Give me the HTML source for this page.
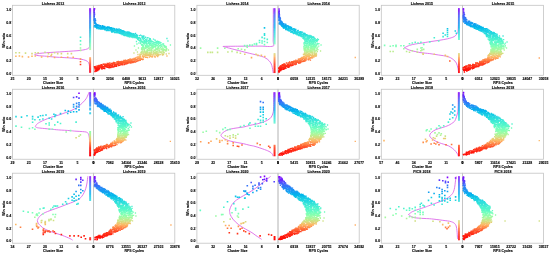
<!DOCTYPE html>
<html><head><meta charset="utf-8"><style>
html,body{margin:0;padding:0;background:#fff;overflow:hidden}
svg{display:block}
text{font-family:"Liberation Sans",sans-serif;fill:#000;font-weight:bold;stroke:#000;stroke-width:0.12px}
.t{font-size:3.6px;text-anchor:middle}
.yt{font-size:3.6px;text-anchor:end}
.xt{font-size:3.5px;text-anchor:middle}
.xl{font-size:3.5px;text-anchor:middle}
.yl{font-size:3.5px;text-anchor:middle}
</style></head><body>
<svg width="550" height="253" viewBox="0 0 550 253">
<defs><linearGradient id="g0" gradientUnits="userSpaceOnUse" x1="0" y1="9.00" x2="0" y2="72.40"><stop offset="0.000" stop-color="#8000ff"/><stop offset="0.050" stop-color="#6628fe"/><stop offset="0.100" stop-color="#4d4ffc"/><stop offset="0.150" stop-color="#3374f8"/><stop offset="0.200" stop-color="#1996f3"/><stop offset="0.250" stop-color="#00b4ec"/><stop offset="0.300" stop-color="#19cee3"/><stop offset="0.350" stop-color="#33e3d9"/><stop offset="0.400" stop-color="#4df3ce"/><stop offset="0.450" stop-color="#66fcc2"/><stop offset="0.500" stop-color="#80ffb4"/><stop offset="0.550" stop-color="#99fca6"/><stop offset="0.600" stop-color="#b3f396"/><stop offset="0.650" stop-color="#cce385"/><stop offset="0.700" stop-color="#e5ce74"/><stop offset="0.750" stop-color="#ffb462"/><stop offset="0.800" stop-color="#ff964f"/><stop offset="0.850" stop-color="#ff743c"/><stop offset="0.900" stop-color="#ff4f28"/><stop offset="0.950" stop-color="#ff2814"/><stop offset="1.000" stop-color="#ff0000"/></linearGradient><linearGradient id="g1" gradientUnits="userSpaceOnUse" x1="0" y1="92.95" x2="0" y2="156.35"><stop offset="0.000" stop-color="#8000ff"/><stop offset="0.050" stop-color="#6628fe"/><stop offset="0.100" stop-color="#4d4ffc"/><stop offset="0.150" stop-color="#3374f8"/><stop offset="0.200" stop-color="#1996f3"/><stop offset="0.250" stop-color="#00b4ec"/><stop offset="0.300" stop-color="#19cee3"/><stop offset="0.350" stop-color="#33e3d9"/><stop offset="0.400" stop-color="#4df3ce"/><stop offset="0.450" stop-color="#66fcc2"/><stop offset="0.500" stop-color="#80ffb4"/><stop offset="0.550" stop-color="#99fca6"/><stop offset="0.600" stop-color="#b3f396"/><stop offset="0.650" stop-color="#cce385"/><stop offset="0.700" stop-color="#e5ce74"/><stop offset="0.750" stop-color="#ffb462"/><stop offset="0.800" stop-color="#ff964f"/><stop offset="0.850" stop-color="#ff743c"/><stop offset="0.900" stop-color="#ff4f28"/><stop offset="0.950" stop-color="#ff2814"/><stop offset="1.000" stop-color="#ff0000"/></linearGradient><linearGradient id="g2" gradientUnits="userSpaceOnUse" x1="0" y1="176.90" x2="0" y2="240.30"><stop offset="0.000" stop-color="#8000ff"/><stop offset="0.050" stop-color="#6628fe"/><stop offset="0.100" stop-color="#4d4ffc"/><stop offset="0.150" stop-color="#3374f8"/><stop offset="0.200" stop-color="#1996f3"/><stop offset="0.250" stop-color="#00b4ec"/><stop offset="0.300" stop-color="#19cee3"/><stop offset="0.350" stop-color="#33e3d9"/><stop offset="0.400" stop-color="#4df3ce"/><stop offset="0.450" stop-color="#66fcc2"/><stop offset="0.500" stop-color="#80ffb4"/><stop offset="0.550" stop-color="#99fca6"/><stop offset="0.600" stop-color="#b3f396"/><stop offset="0.650" stop-color="#cce385"/><stop offset="0.700" stop-color="#e5ce74"/><stop offset="0.750" stop-color="#ffb462"/><stop offset="0.800" stop-color="#ff964f"/><stop offset="0.850" stop-color="#ff743c"/><stop offset="0.900" stop-color="#ff4f28"/><stop offset="0.950" stop-color="#ff2814"/><stop offset="1.000" stop-color="#ff0000"/></linearGradient></defs>
<g fill="none" stroke="#c4c4c4" stroke-width="0.8"><rect x="12.50" y="5.30" width="81.10" height="70.00"/><rect x="93.60" y="5.30" width="81.20" height="70.00"/><line x1="11.30" x2="12.50" y1="72.40" y2="72.40"/><line x1="11.30" x2="12.50" y1="59.72" y2="59.72"/><line x1="11.30" x2="12.50" y1="47.04" y2="47.04"/><line x1="11.30" x2="12.50" y1="34.36" y2="34.36"/><line x1="11.30" x2="12.50" y1="21.68" y2="21.68"/><line x1="11.30" x2="12.50" y1="9.00" y2="9.00"/><rect x="196.90" y="5.30" width="81.10" height="70.00"/><rect x="278.00" y="5.30" width="81.20" height="70.00"/><line x1="195.70" x2="196.90" y1="72.40" y2="72.40"/><line x1="195.70" x2="196.90" y1="59.72" y2="59.72"/><line x1="195.70" x2="196.90" y1="47.04" y2="47.04"/><line x1="195.70" x2="196.90" y1="34.36" y2="34.36"/><line x1="195.70" x2="196.90" y1="21.68" y2="21.68"/><line x1="195.70" x2="196.90" y1="9.00" y2="9.00"/><rect x="381.30" y="5.30" width="81.10" height="70.00"/><rect x="462.40" y="5.30" width="81.20" height="70.00"/><line x1="380.10" x2="381.30" y1="72.40" y2="72.40"/><line x1="380.10" x2="381.30" y1="59.72" y2="59.72"/><line x1="380.10" x2="381.30" y1="47.04" y2="47.04"/><line x1="380.10" x2="381.30" y1="34.36" y2="34.36"/><line x1="380.10" x2="381.30" y1="21.68" y2="21.68"/><line x1="380.10" x2="381.30" y1="9.00" y2="9.00"/><rect x="12.50" y="89.25" width="81.10" height="70.00"/><rect x="93.60" y="89.25" width="81.20" height="70.00"/><line x1="11.30" x2="12.50" y1="156.35" y2="156.35"/><line x1="11.30" x2="12.50" y1="143.67" y2="143.67"/><line x1="11.30" x2="12.50" y1="130.99" y2="130.99"/><line x1="11.30" x2="12.50" y1="118.31" y2="118.31"/><line x1="11.30" x2="12.50" y1="105.63" y2="105.63"/><line x1="11.30" x2="12.50" y1="92.95" y2="92.95"/><rect x="196.90" y="89.25" width="81.10" height="70.00"/><rect x="278.00" y="89.25" width="81.20" height="70.00"/><line x1="195.70" x2="196.90" y1="156.35" y2="156.35"/><line x1="195.70" x2="196.90" y1="143.67" y2="143.67"/><line x1="195.70" x2="196.90" y1="130.99" y2="130.99"/><line x1="195.70" x2="196.90" y1="118.31" y2="118.31"/><line x1="195.70" x2="196.90" y1="105.63" y2="105.63"/><line x1="195.70" x2="196.90" y1="92.95" y2="92.95"/><rect x="381.30" y="89.25" width="81.10" height="70.00"/><rect x="462.40" y="89.25" width="81.20" height="70.00"/><line x1="380.10" x2="381.30" y1="156.35" y2="156.35"/><line x1="380.10" x2="381.30" y1="143.67" y2="143.67"/><line x1="380.10" x2="381.30" y1="130.99" y2="130.99"/><line x1="380.10" x2="381.30" y1="118.31" y2="118.31"/><line x1="380.10" x2="381.30" y1="105.63" y2="105.63"/><line x1="380.10" x2="381.30" y1="92.95" y2="92.95"/><rect x="12.50" y="173.20" width="81.10" height="70.00"/><rect x="93.60" y="173.20" width="81.20" height="70.00"/><line x1="11.30" x2="12.50" y1="240.30" y2="240.30"/><line x1="11.30" x2="12.50" y1="227.62" y2="227.62"/><line x1="11.30" x2="12.50" y1="214.94" y2="214.94"/><line x1="11.30" x2="12.50" y1="202.26" y2="202.26"/><line x1="11.30" x2="12.50" y1="189.58" y2="189.58"/><line x1="11.30" x2="12.50" y1="176.90" y2="176.90"/><rect x="196.90" y="173.20" width="81.10" height="70.00"/><rect x="278.00" y="173.20" width="81.20" height="70.00"/><line x1="195.70" x2="196.90" y1="240.30" y2="240.30"/><line x1="195.70" x2="196.90" y1="227.62" y2="227.62"/><line x1="195.70" x2="196.90" y1="214.94" y2="214.94"/><line x1="195.70" x2="196.90" y1="202.26" y2="202.26"/><line x1="195.70" x2="196.90" y1="189.58" y2="189.58"/><line x1="195.70" x2="196.90" y1="176.90" y2="176.90"/><rect x="381.30" y="173.20" width="81.10" height="70.00"/><rect x="462.40" y="173.20" width="81.20" height="70.00"/><line x1="380.10" x2="381.30" y1="240.30" y2="240.30"/><line x1="380.10" x2="381.30" y1="227.62" y2="227.62"/><line x1="380.10" x2="381.30" y1="214.94" y2="214.94"/><line x1="380.10" x2="381.30" y1="202.26" y2="202.26"/><line x1="380.10" x2="381.30" y1="189.58" y2="189.58"/><line x1="380.10" x2="381.30" y1="176.90" y2="176.90"/></g>
<g fill="none" stroke="#dc6ae8" stroke-width="0.9" stroke-linejoin="round"><path d="M89.70 8.30C89.68 13.92 89.68 35.50 89.60 42.00C89.52 48.50 89.67 46.12 89.20 47.30C88.73 48.48 88.25 48.58 86.80 49.10C85.35 49.62 82.77 50.08 80.50 50.40C78.23 50.72 75.93 50.80 73.20 51.00C70.47 51.20 67.13 51.40 64.10 51.60C61.07 51.80 57.88 52.02 55.00 52.20C52.12 52.38 49.63 52.47 46.80 52.70C43.97 52.93 39.97 53.32 38.00 53.60C36.03 53.88 35.50 54.20 35.00 54.40C34.50 54.60 34.50 54.60 35.00 54.80C35.50 55.00 36.03 55.35 38.00 55.60C39.97 55.85 43.97 56.05 46.80 56.30C49.63 56.55 52.12 56.88 55.00 57.10C57.88 57.32 61.07 57.42 64.10 57.60C67.13 57.78 70.47 57.95 73.20 58.20C75.93 58.45 78.38 58.72 80.50 59.10C82.62 59.48 84.55 59.90 85.90 60.50C87.25 61.10 88.00 61.72 88.60 62.70C89.20 63.68 89.32 64.73 89.50 66.40C89.68 68.07 89.67 71.65 89.70 72.70"/><path d="M273.30 8.30C273.28 13.58 273.27 33.70 273.20 40.00C273.13 46.30 275.10 45.08 272.90 46.10C270.70 47.12 265.48 46.08 260.00 46.10C254.52 46.12 245.95 46.15 240.00 46.20C234.05 46.25 226.92 46.30 224.30 46.40C221.68 46.50 223.37 46.48 224.30 46.80C225.23 47.12 227.95 47.78 229.90 48.30C231.85 48.82 233.15 49.17 236.00 49.90C238.85 50.63 243.32 51.78 247.00 52.70C250.68 53.62 255.13 54.58 258.10 55.40C261.07 56.22 262.95 56.68 264.80 57.60C266.65 58.52 268.03 59.60 269.20 60.90C270.37 62.20 271.13 63.38 271.80 65.40C272.47 67.42 272.97 71.73 273.20 73.00"/><path d="M458.50 8.30C458.45 11.72 458.43 24.63 458.20 28.80C457.97 32.97 457.77 32.00 457.10 33.30C456.43 34.60 455.80 35.68 454.20 36.60C452.60 37.52 450.08 38.17 447.50 38.80C444.92 39.43 441.65 39.92 438.70 40.40C435.75 40.88 432.75 41.23 429.80 41.70C426.85 42.17 423.43 42.82 421.00 43.20C418.57 43.58 417.12 43.63 415.20 44.00C413.28 44.37 411.22 44.82 409.50 45.40C407.78 45.98 405.67 47.08 404.90 47.50C404.13 47.92 404.13 47.47 404.90 47.90C405.67 48.33 407.78 49.50 409.50 50.10C411.22 50.70 413.28 51.07 415.20 51.50C417.12 51.93 418.57 52.35 421.00 52.70C423.43 53.05 426.85 53.22 429.80 53.60C432.75 53.98 435.75 54.52 438.70 55.00C441.65 55.48 445.10 55.77 447.50 56.50C449.90 57.23 451.62 58.30 453.10 59.40C454.58 60.50 455.58 61.55 456.40 63.10C457.22 64.65 457.63 67.05 458.00 68.70C458.37 70.35 458.50 72.28 458.60 73.00"/><path d="M89.00 92.10C88.90 92.40 88.88 92.80 88.40 93.90C87.92 95.00 87.08 97.22 86.10 98.70C85.12 100.18 83.88 101.42 82.50 102.80C81.12 104.18 79.22 105.93 77.80 107.00C76.38 108.07 75.30 108.52 74.00 109.20C72.70 109.88 71.40 110.53 70.00 111.10C68.60 111.67 67.52 111.93 65.60 112.60C63.68 113.27 60.87 114.33 58.50 115.10C56.13 115.87 53.78 116.38 51.40 117.20C49.02 118.02 46.35 119.05 44.20 120.00C42.05 120.95 39.78 122.13 38.50 122.90C37.22 123.67 37.02 124.03 36.50 124.60C35.98 125.17 35.58 125.95 35.40 126.30C35.22 126.65 35.22 126.52 35.40 126.70C35.58 126.88 35.98 127.20 36.50 127.40C37.02 127.60 37.22 127.72 38.50 127.90C39.78 128.08 42.05 128.28 44.20 128.50C46.35 128.72 49.02 128.97 51.40 129.20C53.78 129.43 55.40 129.67 58.50 129.90C61.60 130.13 67.30 130.40 70.00 130.60C72.70 130.80 72.25 130.90 74.70 131.10C77.15 131.30 82.55 131.52 84.70 131.80C86.85 132.08 86.92 132.27 87.60 132.80C88.28 133.33 88.48 133.70 88.80 135.00C89.12 136.30 89.33 137.07 89.50 140.60C89.67 144.13 89.75 153.60 89.80 156.20"/><path d="M273.80 92.30C273.77 94.92 273.73 104.55 273.60 108.00C273.47 111.45 273.40 111.47 273.00 113.00C272.60 114.53 272.12 116.00 271.20 117.20C270.28 118.40 269.23 119.25 267.50 120.20C265.77 121.15 262.88 122.22 260.80 122.90C258.72 123.58 256.83 123.88 255.00 124.30C253.17 124.72 251.72 124.95 249.80 125.40C247.88 125.85 245.62 126.58 243.50 127.00C241.38 127.42 239.22 127.57 237.10 127.90C234.98 128.23 232.63 128.55 230.80 129.00C228.97 129.45 227.42 129.98 226.10 130.60C224.78 131.22 223.65 132.13 222.90 132.70C222.15 133.27 221.92 133.57 221.60 134.00C221.28 134.43 221.10 135.05 221.00 135.30C220.90 135.55 220.90 135.28 221.00 135.50C221.10 135.72 221.28 136.23 221.60 136.60C221.92 136.97 222.15 137.20 222.90 137.70C223.65 138.20 224.78 139.02 226.10 139.60C227.42 140.18 228.97 140.72 230.80 141.20C232.63 141.68 234.98 142.08 237.10 142.50C239.22 142.92 241.38 143.23 243.50 143.70C245.62 144.17 247.88 144.85 249.80 145.30C251.72 145.75 252.57 145.70 255.00 146.40C257.43 147.10 261.88 148.57 264.40 149.50C266.92 150.43 268.75 151.17 270.10 152.00C271.45 152.83 272.02 153.80 272.50 154.50C272.98 155.20 272.92 155.92 273.00 156.20"/><path d="M458.20 92.30C458.18 94.92 458.25 104.38 458.10 108.00C457.95 111.62 457.73 112.10 457.30 114.00C456.87 115.90 456.05 118.10 455.50 119.40C454.95 120.70 455.17 120.80 454.00 121.80C452.83 122.80 450.48 124.43 448.50 125.40C446.52 126.37 444.22 126.90 442.10 127.60C439.98 128.30 437.50 128.85 435.80 129.60C434.10 130.35 432.82 131.40 431.90 132.10C430.98 132.80 430.67 133.22 430.30 133.80C429.93 134.38 429.80 135.23 429.70 135.60C429.60 135.97 429.55 135.67 429.70 136.00C429.85 136.33 430.20 137.13 430.60 137.60C431.00 138.07 431.33 138.25 432.10 138.80C432.87 139.35 434.00 140.23 435.20 140.90C436.40 141.57 437.93 142.27 439.30 142.80C440.67 143.33 441.85 143.58 443.40 144.10C444.95 144.62 447.05 145.17 448.60 145.90C450.15 146.63 451.50 147.57 452.70 148.50C453.90 149.43 454.95 150.48 455.80 151.50C456.65 152.52 457.40 153.80 457.80 154.60C458.20 155.40 458.13 156.02 458.20 156.30"/><path d="M87.80 176.30C87.67 177.42 87.35 180.93 87.00 183.00C86.65 185.07 86.20 187.07 85.70 188.70C85.20 190.33 84.63 191.55 84.00 192.80C83.37 194.05 82.65 195.22 81.90 196.20C81.15 197.18 80.55 197.92 79.50 198.70C78.45 199.48 77.10 200.18 75.60 200.90C74.10 201.62 72.20 202.33 70.50 203.00C68.80 203.67 67.15 204.23 65.40 204.90C63.65 205.57 61.68 206.37 60.00 207.00C58.32 207.63 56.97 208.10 55.30 208.70C53.63 209.30 51.68 209.97 50.00 210.60C48.32 211.23 46.53 211.88 45.20 212.50C43.87 213.12 42.90 213.67 42.00 214.30C41.10 214.93 40.43 215.63 39.80 216.30C39.17 216.97 38.60 217.58 38.20 218.30C37.80 219.02 37.53 220.15 37.40 220.60C37.27 221.05 37.27 220.57 37.40 221.00C37.53 221.43 37.75 222.47 38.20 223.20C38.65 223.93 39.38 224.68 40.10 225.40C40.82 226.12 41.65 226.87 42.50 227.50C43.35 228.13 43.95 228.57 45.20 229.20C46.45 229.83 48.32 230.65 50.00 231.30C51.68 231.95 53.17 232.38 55.30 233.10C57.43 233.82 60.37 234.70 62.80 235.60C65.23 236.50 68.25 237.73 69.90 238.50C71.55 239.27 72.23 239.92 72.70 240.20"/><path d="M270.60 176.40C269.83 177.00 267.50 178.82 266.00 180.00C264.50 181.18 263.42 182.07 261.60 183.50C259.78 184.93 257.20 187.10 255.10 188.60C253.00 190.10 250.88 191.35 249.00 192.50C247.12 193.65 245.88 194.25 243.80 195.50C241.72 196.75 238.47 198.50 236.50 200.00C234.53 201.50 233.15 202.83 232.00 204.50C230.85 206.17 229.97 208.75 229.60 210.00C229.23 211.25 229.77 211.58 229.80 212.00C229.83 212.42 229.73 212.08 229.80 212.50C229.87 212.92 229.68 213.40 230.20 214.50C230.72 215.60 231.53 217.43 232.90 219.10C234.27 220.77 236.28 222.83 238.40 224.50C240.52 226.17 243.33 227.73 245.60 229.10C247.87 230.47 250.28 231.63 252.00 232.70C253.72 233.77 254.30 234.40 255.90 235.50C257.50 236.60 260.65 238.67 261.60 239.30"/><path d="M456.20 176.30C456.10 176.93 455.93 177.90 455.60 180.10C455.27 182.30 454.88 187.05 454.20 189.50C453.52 191.95 453.07 193.12 451.50 194.80C449.93 196.48 447.25 198.27 444.80 199.60C442.35 200.93 439.48 201.77 436.80 202.80C434.12 203.83 430.67 205.07 428.70 205.80C426.73 206.53 426.78 206.58 425.00 207.20C423.22 207.82 420.12 208.75 418.00 209.50C415.88 210.25 413.83 210.90 412.30 211.70C410.77 212.50 409.38 213.80 408.80 214.30C408.22 214.80 408.22 214.23 408.80 214.70C409.38 215.17 410.77 216.53 412.30 217.10C413.83 217.67 415.88 217.87 418.00 218.10C420.12 218.33 422.77 218.37 425.00 218.50C427.23 218.63 428.45 218.60 431.40 218.90C434.35 219.20 439.38 219.83 442.70 220.30C446.02 220.77 449.17 220.98 451.30 221.70C453.43 222.42 454.57 223.18 455.50 224.60C456.43 226.02 456.57 227.83 456.90 230.20C457.23 232.57 457.40 237.37 457.50 238.80"/></g>
<g><rect x="93.40" y="8.30" width="1.50" height="1.05" fill="#8000ff"/><rect x="93.40" y="9.30" width="1.50" height="1.05" fill="#7511ff"/><rect x="93.40" y="10.30" width="1.50" height="1.05" fill="#7511ff"/><rect x="93.40" y="11.30" width="1.50" height="1.05" fill="#6a22fe"/><rect x="93.40" y="12.30" width="1.50" height="1.05" fill="#5f33fe"/><rect x="93.40" y="13.30" width="1.50" height="1.05" fill="#5443fd"/><rect x="93.40" y="14.30" width="1.50" height="1.05" fill="#4954fb"/><rect x="93.40" y="15.30" width="1.50" height="1.05" fill="#3e64fa"/><rect x="93.40" y="16.30" width="1.50" height="1.05" fill="#3e64fa"/><rect x="93.40" y="17.30" width="1.50" height="1.05" fill="#3473f8"/><rect x="93.40" y="18.30" width="1.50" height="1.05" fill="#2982f6"/><rect x="93.40" y="19.30" width="1.50" height="1.05" fill="#2982f6"/><rect x="93.40" y="20.30" width="1.50" height="0.75" fill="#1e90f4"/><rect x="278.30" y="8.30" width="1.50" height="1.05" fill="#8000ff"/><rect x="278.30" y="9.30" width="1.50" height="1.05" fill="#7511ff"/><rect x="278.30" y="10.30" width="1.50" height="1.05" fill="#7511ff"/><rect x="278.30" y="11.30" width="1.50" height="1.05" fill="#6a22fe"/><rect x="278.30" y="12.30" width="1.50" height="1.05" fill="#5f33fe"/><rect x="278.30" y="13.30" width="1.50" height="1.05" fill="#5443fd"/><rect x="278.30" y="14.30" width="1.50" height="1.05" fill="#4954fb"/><rect x="278.30" y="15.30" width="1.50" height="1.05" fill="#3e64fa"/><rect x="278.30" y="16.30" width="1.50" height="1.05" fill="#3e64fa"/><rect x="278.30" y="17.30" width="1.50" height="1.05" fill="#3473f8"/><rect x="278.30" y="18.30" width="1.50" height="1.05" fill="#2982f6"/><rect x="278.30" y="19.30" width="1.50" height="1.05" fill="#2982f6"/><rect x="278.30" y="20.30" width="1.50" height="0.45" fill="#1e90f4"/><rect x="278.30" y="70.50" width="1.50" height="1.05" fill="#ff0000"/><rect x="278.30" y="71.50" width="1.50" height="1.05" fill="#ff0000"/><rect x="278.30" y="72.50" width="1.50" height="0.15" fill="#ff0000"/><rect x="462.70" y="8.30" width="1.50" height="1.05" fill="#8000ff"/><rect x="462.70" y="9.30" width="1.50" height="1.05" fill="#7511ff"/><rect x="462.70" y="10.30" width="1.50" height="1.05" fill="#7511ff"/><rect x="462.70" y="11.30" width="1.50" height="1.05" fill="#6a22fe"/><rect x="462.70" y="12.30" width="1.50" height="1.05" fill="#5f33fe"/><rect x="462.70" y="13.30" width="1.50" height="1.05" fill="#5443fd"/><rect x="462.70" y="14.30" width="1.50" height="1.05" fill="#4954fb"/><rect x="462.70" y="15.30" width="1.50" height="1.05" fill="#3e64fa"/><rect x="462.70" y="16.30" width="1.50" height="1.05" fill="#3e64fa"/><rect x="462.70" y="17.30" width="1.50" height="0.55" fill="#3473f8"/><rect x="93.90" y="92.30" width="1.50" height="1.05" fill="#8000ff"/><rect x="93.90" y="93.30" width="1.50" height="1.05" fill="#7511ff"/><rect x="93.90" y="94.30" width="1.50" height="1.05" fill="#6a22fe"/><rect x="93.90" y="95.30" width="1.50" height="1.05" fill="#6a22fe"/><rect x="93.90" y="96.30" width="1.50" height="1.05" fill="#5f33fe"/><rect x="93.90" y="97.30" width="1.50" height="0.25" fill="#5443fd"/><rect x="93.90" y="153.00" width="1.50" height="1.05" fill="#ff1109"/><rect x="93.90" y="154.00" width="1.50" height="1.05" fill="#ff1109"/><rect x="93.90" y="155.00" width="1.50" height="0.55" fill="#ff0000"/><rect x="278.30" y="92.30" width="1.50" height="1.05" fill="#8000ff"/><rect x="278.30" y="93.30" width="1.50" height="1.05" fill="#7511ff"/><rect x="278.30" y="94.30" width="1.50" height="1.05" fill="#6a22fe"/><rect x="278.30" y="95.30" width="1.50" height="1.05" fill="#6a22fe"/><rect x="278.30" y="96.30" width="1.50" height="1.05" fill="#5f33fe"/><rect x="278.30" y="97.30" width="1.50" height="1.05" fill="#5443fd"/><rect x="278.30" y="98.30" width="1.50" height="1.05" fill="#4954fb"/><rect x="278.30" y="99.30" width="1.50" height="1.05" fill="#3e64fa"/><rect x="278.30" y="100.30" width="1.50" height="1.05" fill="#3e64fa"/><rect x="278.30" y="101.30" width="1.50" height="0.55" fill="#3473f8"/><rect x="462.70" y="92.30" width="1.50" height="1.05" fill="#8000ff"/><rect x="462.70" y="93.30" width="1.50" height="1.05" fill="#7511ff"/><rect x="462.70" y="94.30" width="1.50" height="1.05" fill="#6a22fe"/><rect x="462.70" y="95.30" width="1.50" height="1.05" fill="#6a22fe"/><rect x="462.70" y="96.30" width="1.50" height="1.05" fill="#5f33fe"/><rect x="462.70" y="97.30" width="1.50" height="0.25" fill="#5443fd"/><rect x="93.90" y="176.30" width="1.50" height="1.05" fill="#8000ff"/><rect x="93.90" y="177.30" width="1.50" height="1.05" fill="#7511ff"/><rect x="93.90" y="178.30" width="1.50" height="1.05" fill="#6a22fe"/><rect x="93.90" y="179.30" width="1.50" height="1.05" fill="#6a22fe"/><rect x="93.90" y="180.30" width="1.50" height="1.05" fill="#5f33fe"/><rect x="93.90" y="181.30" width="1.50" height="0.25" fill="#5443fd"/><rect x="278.30" y="176.30" width="1.50" height="1.05" fill="#8000ff"/><rect x="462.70" y="176.30" width="1.50" height="1.05" fill="#8000ff"/><rect x="462.70" y="177.30" width="1.50" height="1.05" fill="#7511ff"/><rect x="462.70" y="178.30" width="1.50" height="1.05" fill="#6a22fe"/><rect x="462.70" y="179.30" width="1.50" height="1.05" fill="#6a22fe"/><rect x="462.70" y="180.30" width="1.50" height="1.05" fill="#5f33fe"/><rect x="462.70" y="181.30" width="1.50" height="1.05" fill="#5443fd"/><rect x="462.70" y="182.30" width="1.50" height="1.05" fill="#4954fb"/><rect x="462.70" y="183.30" width="1.50" height="1.05" fill="#3e64fa"/><rect x="462.70" y="184.30" width="1.50" height="1.05" fill="#3e64fa"/><rect x="462.70" y="185.30" width="1.50" height="0.55" fill="#3473f8"/><rect x="89.20" y="8.30" width="1.90" height="1.05" fill="#8000ff"/><rect x="89.20" y="9.30" width="1.90" height="1.05" fill="#7511ff"/><rect x="89.20" y="10.30" width="1.90" height="1.05" fill="#7511ff"/><rect x="89.20" y="11.30" width="1.90" height="1.05" fill="#6a22fe"/><rect x="89.20" y="12.30" width="1.90" height="1.05" fill="#5f33fe"/><rect x="89.20" y="13.30" width="1.90" height="1.05" fill="#5443fd"/><rect x="89.20" y="14.30" width="1.90" height="1.05" fill="#4954fb"/><rect x="89.20" y="15.30" width="1.90" height="1.05" fill="#3e64fa"/><rect x="89.20" y="16.30" width="1.90" height="1.05" fill="#3e64fa"/><rect x="89.20" y="17.30" width="1.90" height="1.05" fill="#3473f8"/><rect x="89.20" y="18.30" width="1.90" height="1.05" fill="#2982f6"/><rect x="89.20" y="19.30" width="1.90" height="1.05" fill="#2982f6"/><rect x="89.20" y="20.30" width="1.90" height="1.05" fill="#1e90f4"/><rect x="89.20" y="21.30" width="1.90" height="1.05" fill="#1e90f4"/><rect x="89.20" y="22.30" width="1.90" height="1.05" fill="#139ef1"/><rect x="89.20" y="23.30" width="1.90" height="1.05" fill="#139ef1"/><rect x="89.20" y="24.30" width="1.90" height="1.05" fill="#08abee"/><rect x="89.20" y="25.30" width="1.90" height="1.05" fill="#08abee"/><rect x="89.20" y="26.30" width="1.90" height="1.05" fill="#03b7eb"/><rect x="89.20" y="27.30" width="1.90" height="1.05" fill="#03b7eb"/><rect x="89.20" y="28.30" width="1.90" height="1.05" fill="#0ec3e7"/><rect x="89.20" y="29.30" width="1.90" height="1.05" fill="#18cde4"/><rect x="89.20" y="30.30" width="1.90" height="1.05" fill="#18cde4"/><rect x="89.20" y="31.30" width="1.90" height="1.05" fill="#23d7e0"/><rect x="89.20" y="32.30" width="1.90" height="1.05" fill="#23d7e0"/><rect x="89.20" y="33.30" width="1.90" height="1.05" fill="#2ee0db"/><rect x="89.20" y="34.30" width="1.90" height="1.05" fill="#2ee0db"/><rect x="89.20" y="35.30" width="1.90" height="1.05" fill="#39e7d7"/><rect x="89.20" y="36.30" width="1.90" height="1.05" fill="#39e7d7"/><rect x="89.20" y="37.30" width="1.90" height="1.05" fill="#44eed2"/><rect x="89.20" y="38.30" width="1.90" height="1.05" fill="#4ff4cd"/><rect x="89.20" y="39.30" width="1.90" height="1.05" fill="#4ff4cd"/><rect x="89.20" y="40.30" width="1.90" height="1.05" fill="#5af8c8"/><rect x="89.20" y="41.30" width="1.90" height="1.05" fill="#5af8c8"/><rect x="89.20" y="42.30" width="1.90" height="1.05" fill="#64fbc3"/><rect x="89.20" y="43.30" width="1.90" height="1.05" fill="#6ffebd"/><rect x="89.20" y="44.30" width="1.90" height="1.05" fill="#7affb7"/><rect x="89.20" y="45.30" width="1.90" height="1.05" fill="#7affb7"/><rect x="89.20" y="46.30" width="1.90" height="1.05" fill="#85ffb1"/><rect x="89.20" y="47.30" width="1.90" height="1.05" fill="#90feab"/><rect x="89.20" y="48.30" width="1.90" height="1.05" fill="#9bfba5"/><rect x="89.20" y="49.30" width="1.90" height="0.75" fill="#a5f89e"/><rect x="89.20" y="57.30" width="1.90" height="1.05" fill="#ff9e54"/><rect x="89.20" y="58.30" width="1.90" height="1.05" fill="#ff904c"/><rect x="89.20" y="59.30" width="1.90" height="1.05" fill="#ff8243"/><rect x="89.20" y="60.30" width="1.90" height="1.05" fill="#ff733b"/><rect x="89.20" y="61.30" width="1.90" height="1.05" fill="#ff6433"/><rect x="89.20" y="62.30" width="1.90" height="1.05" fill="#ff542a"/><rect x="89.20" y="63.30" width="1.90" height="1.05" fill="#ff4322"/><rect x="89.20" y="64.30" width="1.90" height="1.05" fill="#ff331a"/><rect x="89.20" y="65.30" width="1.90" height="1.05" fill="#ff331a"/><rect x="89.20" y="66.30" width="1.90" height="1.05" fill="#ff2211"/><rect x="89.20" y="67.30" width="1.90" height="1.05" fill="#ff2211"/><rect x="89.20" y="68.30" width="1.90" height="1.05" fill="#ff1109"/><rect x="89.20" y="69.30" width="1.90" height="1.05" fill="#ff1109"/><rect x="89.20" y="70.30" width="1.90" height="1.05" fill="#ff1109"/><rect x="89.20" y="71.30" width="1.90" height="1.05" fill="#ff0000"/><rect x="89.20" y="72.30" width="1.90" height="0.45" fill="#ff0000"/><rect x="273.60" y="8.30" width="1.90" height="1.05" fill="#8000ff"/><rect x="273.60" y="9.30" width="1.90" height="1.05" fill="#7511ff"/><rect x="273.60" y="10.30" width="1.90" height="1.05" fill="#7511ff"/><rect x="273.60" y="11.30" width="1.90" height="1.05" fill="#6a22fe"/><rect x="273.60" y="12.30" width="1.90" height="1.05" fill="#5f33fe"/><rect x="273.60" y="13.30" width="1.90" height="1.05" fill="#5443fd"/><rect x="273.60" y="14.30" width="1.90" height="1.05" fill="#4954fb"/><rect x="273.60" y="15.30" width="1.90" height="1.05" fill="#3e64fa"/><rect x="273.60" y="16.30" width="1.90" height="1.05" fill="#3e64fa"/><rect x="273.60" y="17.30" width="1.90" height="1.05" fill="#3473f8"/><rect x="273.60" y="18.30" width="1.90" height="1.05" fill="#2982f6"/><rect x="273.60" y="19.30" width="1.90" height="1.05" fill="#2982f6"/><rect x="273.60" y="20.30" width="1.90" height="1.05" fill="#1e90f4"/><rect x="273.60" y="21.30" width="1.90" height="1.05" fill="#1e90f4"/><rect x="273.60" y="22.30" width="1.90" height="1.05" fill="#139ef1"/><rect x="273.60" y="23.30" width="1.90" height="1.05" fill="#139ef1"/><rect x="273.60" y="24.30" width="1.90" height="1.05" fill="#08abee"/><rect x="273.60" y="25.30" width="1.90" height="1.05" fill="#08abee"/><rect x="273.60" y="26.30" width="1.90" height="1.05" fill="#03b7eb"/><rect x="273.60" y="27.30" width="1.90" height="1.05" fill="#03b7eb"/><rect x="273.60" y="28.30" width="1.90" height="1.05" fill="#0ec3e7"/><rect x="273.60" y="29.30" width="1.90" height="1.05" fill="#18cde4"/><rect x="273.60" y="30.30" width="1.90" height="1.05" fill="#18cde4"/><rect x="273.60" y="31.30" width="1.90" height="1.05" fill="#23d7e0"/><rect x="273.60" y="32.30" width="1.90" height="1.05" fill="#23d7e0"/><rect x="273.60" y="33.30" width="1.90" height="1.05" fill="#2ee0db"/><rect x="273.60" y="34.30" width="1.90" height="1.05" fill="#2ee0db"/><rect x="273.60" y="35.30" width="1.90" height="1.05" fill="#39e7d7"/><rect x="273.60" y="36.30" width="1.90" height="1.05" fill="#39e7d7"/><rect x="273.60" y="37.30" width="1.90" height="1.05" fill="#44eed2"/><rect x="273.60" y="38.30" width="1.90" height="1.05" fill="#4ff4cd"/><rect x="273.60" y="39.30" width="1.90" height="1.05" fill="#4ff4cd"/><rect x="273.60" y="40.30" width="1.90" height="1.05" fill="#5af8c8"/><rect x="273.60" y="41.30" width="1.90" height="1.05" fill="#5af8c8"/><rect x="273.60" y="42.30" width="1.90" height="1.05" fill="#64fbc3"/><rect x="273.60" y="43.30" width="1.90" height="1.05" fill="#6ffebd"/><rect x="273.60" y="53.20" width="1.90" height="1.05" fill="#dcd77b"/><rect x="273.60" y="54.20" width="1.90" height="1.05" fill="#e7cd73"/><rect x="273.60" y="55.20" width="1.90" height="1.05" fill="#f1c36b"/><rect x="273.60" y="56.20" width="1.90" height="1.05" fill="#fcb764"/><rect x="273.60" y="57.20" width="1.90" height="1.05" fill="#ff9e54"/><rect x="273.60" y="58.20" width="1.90" height="1.05" fill="#ff904c"/><rect x="273.60" y="59.20" width="1.90" height="1.05" fill="#ff8243"/><rect x="273.60" y="60.20" width="1.90" height="1.05" fill="#ff733b"/><rect x="273.60" y="61.20" width="1.90" height="1.05" fill="#ff6433"/><rect x="273.60" y="62.20" width="1.90" height="1.05" fill="#ff542a"/><rect x="273.60" y="63.20" width="1.90" height="1.05" fill="#ff4322"/><rect x="273.60" y="64.20" width="1.90" height="1.05" fill="#ff331a"/><rect x="273.60" y="65.20" width="1.90" height="1.05" fill="#ff331a"/><rect x="273.60" y="66.20" width="1.90" height="1.05" fill="#ff2211"/><rect x="273.60" y="67.20" width="1.90" height="1.05" fill="#ff2211"/><rect x="273.60" y="68.20" width="1.90" height="1.05" fill="#ff1109"/><rect x="273.60" y="69.20" width="1.90" height="1.05" fill="#ff1109"/><rect x="273.60" y="70.20" width="1.90" height="1.05" fill="#ff1109"/><rect x="273.60" y="71.20" width="1.90" height="1.05" fill="#ff0000"/><rect x="273.60" y="72.20" width="1.90" height="0.85" fill="#ff0000"/><rect x="458.00" y="8.30" width="1.90" height="1.05" fill="#8000ff"/><rect x="458.00" y="9.30" width="1.90" height="1.05" fill="#7511ff"/><rect x="458.00" y="10.30" width="1.90" height="1.05" fill="#7511ff"/><rect x="458.00" y="11.30" width="1.90" height="1.05" fill="#6a22fe"/><rect x="458.00" y="12.30" width="1.90" height="1.05" fill="#5f33fe"/><rect x="458.00" y="13.30" width="1.90" height="1.05" fill="#5443fd"/><rect x="458.00" y="14.30" width="1.90" height="1.05" fill="#4954fb"/><rect x="458.00" y="15.30" width="1.90" height="1.05" fill="#3e64fa"/><rect x="458.00" y="16.30" width="1.90" height="1.05" fill="#3e64fa"/><rect x="458.00" y="17.30" width="1.90" height="1.05" fill="#3473f8"/><rect x="458.00" y="18.30" width="1.90" height="1.05" fill="#2982f6"/><rect x="458.00" y="19.30" width="1.90" height="1.05" fill="#2982f6"/><rect x="458.00" y="20.30" width="1.90" height="1.05" fill="#1e90f4"/><rect x="458.00" y="21.30" width="1.90" height="1.05" fill="#1e90f4"/><rect x="458.00" y="22.30" width="1.90" height="1.05" fill="#139ef1"/><rect x="458.00" y="23.30" width="1.90" height="1.05" fill="#139ef1"/><rect x="458.00" y="24.30" width="1.90" height="1.05" fill="#08abee"/><rect x="458.00" y="25.30" width="1.90" height="1.05" fill="#08abee"/><rect x="458.00" y="26.30" width="1.90" height="1.05" fill="#03b7eb"/><rect x="458.00" y="27.30" width="1.90" height="1.05" fill="#03b7eb"/><rect x="458.00" y="28.30" width="1.90" height="1.05" fill="#0ec3e7"/><rect x="458.00" y="29.30" width="1.90" height="1.05" fill="#18cde4"/><rect x="458.00" y="30.30" width="1.90" height="1.05" fill="#18cde4"/><rect x="458.00" y="31.30" width="1.90" height="1.05" fill="#23d7e0"/><rect x="458.00" y="32.30" width="1.90" height="1.05" fill="#23d7e0"/><rect x="458.00" y="33.30" width="1.90" height="1.05" fill="#2ee0db"/><rect x="458.00" y="34.30" width="1.90" height="1.05" fill="#2ee0db"/><rect x="458.00" y="35.30" width="1.90" height="1.05" fill="#39e7d7"/><rect x="458.00" y="36.30" width="1.90" height="1.05" fill="#39e7d7"/><rect x="458.00" y="37.30" width="1.90" height="1.05" fill="#44eed2"/><rect x="458.00" y="38.30" width="1.90" height="1.05" fill="#4ff4cd"/><rect x="458.00" y="39.30" width="1.90" height="0.65" fill="#4ff4cd"/><rect x="458.00" y="53.20" width="1.90" height="1.05" fill="#dcd77b"/><rect x="458.00" y="54.20" width="1.90" height="1.05" fill="#e7cd73"/><rect x="458.00" y="55.20" width="1.90" height="1.05" fill="#f1c36b"/><rect x="458.00" y="56.20" width="1.90" height="1.05" fill="#fcb764"/><rect x="458.00" y="57.20" width="1.90" height="1.05" fill="#ff9e54"/><rect x="458.00" y="58.20" width="1.90" height="1.05" fill="#ff904c"/><rect x="458.00" y="59.20" width="1.90" height="1.05" fill="#ff8243"/><rect x="458.00" y="60.20" width="1.90" height="1.05" fill="#ff733b"/><rect x="458.00" y="61.20" width="1.90" height="1.05" fill="#ff6433"/><rect x="458.00" y="62.20" width="1.90" height="1.05" fill="#ff542a"/><rect x="458.00" y="63.20" width="1.90" height="1.05" fill="#ff4322"/><rect x="458.00" y="64.20" width="1.90" height="1.05" fill="#ff331a"/><rect x="458.00" y="65.20" width="1.90" height="1.05" fill="#ff331a"/><rect x="458.00" y="66.20" width="1.90" height="1.05" fill="#ff2211"/><rect x="458.00" y="67.20" width="1.90" height="1.05" fill="#ff2211"/><rect x="458.00" y="68.20" width="1.90" height="1.05" fill="#ff1109"/><rect x="458.00" y="69.20" width="1.90" height="1.05" fill="#ff1109"/><rect x="458.00" y="70.20" width="1.90" height="1.05" fill="#ff1109"/><rect x="458.00" y="71.20" width="1.90" height="1.05" fill="#ff0000"/><rect x="458.00" y="72.20" width="1.90" height="0.85" fill="#ff0000"/><rect x="89.20" y="92.30" width="1.90" height="1.05" fill="#8000ff"/><rect x="89.20" y="93.30" width="1.90" height="1.05" fill="#7511ff"/><rect x="89.20" y="94.30" width="1.90" height="1.05" fill="#6a22fe"/><rect x="89.20" y="95.30" width="1.90" height="1.05" fill="#6a22fe"/><rect x="89.20" y="96.30" width="1.90" height="1.05" fill="#5f33fe"/><rect x="89.20" y="97.30" width="1.90" height="1.05" fill="#5443fd"/><rect x="89.20" y="98.30" width="1.90" height="1.05" fill="#4954fb"/><rect x="89.20" y="99.30" width="1.90" height="1.05" fill="#3e64fa"/><rect x="89.20" y="100.30" width="1.90" height="1.05" fill="#3e64fa"/><rect x="89.20" y="101.30" width="1.90" height="1.05" fill="#3473f8"/><rect x="89.20" y="102.30" width="1.90" height="1.05" fill="#2982f6"/><rect x="89.20" y="103.30" width="1.90" height="1.05" fill="#2982f6"/><rect x="89.20" y="104.30" width="1.90" height="1.05" fill="#1e90f4"/><rect x="89.20" y="105.30" width="1.90" height="1.05" fill="#1e90f4"/><rect x="89.20" y="106.30" width="1.90" height="0.25" fill="#139ef1"/><rect x="89.20" y="107.60" width="1.90" height="1.05" fill="#139ef1"/><rect x="89.20" y="108.60" width="1.90" height="1.05" fill="#08abee"/><rect x="89.20" y="109.60" width="1.90" height="0.75" fill="#08abee"/><rect x="89.20" y="112.40" width="1.90" height="1.05" fill="#0ec3e7"/><rect x="89.20" y="113.40" width="1.90" height="0.85" fill="#18cde4"/><rect x="89.20" y="131.00" width="1.90" height="1.05" fill="#90feab"/><rect x="89.20" y="132.00" width="1.90" height="1.05" fill="#9bfba5"/><rect x="89.20" y="133.00" width="1.90" height="1.05" fill="#a5f89e"/><rect x="89.20" y="134.00" width="1.90" height="1.05" fill="#b0f497"/><rect x="89.20" y="135.00" width="1.90" height="1.05" fill="#bbee90"/><rect x="89.20" y="136.00" width="1.90" height="1.05" fill="#d1e082"/><rect x="89.20" y="137.00" width="1.90" height="1.05" fill="#dcd77b"/><rect x="89.20" y="138.00" width="1.90" height="1.05" fill="#e7cd73"/><rect x="89.20" y="139.00" width="1.90" height="1.05" fill="#f1c36b"/><rect x="89.20" y="140.00" width="1.90" height="1.05" fill="#fcb764"/><rect x="89.20" y="141.00" width="1.90" height="1.05" fill="#ffab5c"/><rect x="89.20" y="142.00" width="1.90" height="1.05" fill="#ff904c"/><rect x="89.20" y="143.00" width="1.90" height="1.05" fill="#ff8243"/><rect x="89.20" y="144.00" width="1.90" height="1.05" fill="#ff733b"/><rect x="89.20" y="145.00" width="1.90" height="1.05" fill="#ff6433"/><rect x="89.20" y="146.00" width="1.90" height="1.05" fill="#ff542a"/><rect x="89.20" y="147.00" width="1.90" height="1.05" fill="#ff4322"/><rect x="89.20" y="148.00" width="1.90" height="1.05" fill="#ff331a"/><rect x="89.20" y="149.00" width="1.90" height="1.05" fill="#ff331a"/><rect x="89.20" y="150.00" width="1.90" height="1.05" fill="#ff2211"/><rect x="89.20" y="151.00" width="1.90" height="1.05" fill="#ff2211"/><rect x="89.20" y="152.00" width="1.90" height="1.05" fill="#ff1109"/><rect x="89.20" y="153.00" width="1.90" height="1.05" fill="#ff1109"/><rect x="89.20" y="154.00" width="1.90" height="1.05" fill="#ff1109"/><rect x="89.20" y="155.00" width="1.90" height="1.05" fill="#ff0000"/><rect x="89.20" y="156.00" width="1.90" height="0.25" fill="#ff0000"/><rect x="273.60" y="92.30" width="1.90" height="1.05" fill="#8000ff"/><rect x="273.60" y="93.30" width="1.90" height="1.05" fill="#7511ff"/><rect x="273.60" y="94.30" width="1.90" height="1.05" fill="#6a22fe"/><rect x="273.60" y="95.30" width="1.90" height="1.05" fill="#6a22fe"/><rect x="273.60" y="96.30" width="1.90" height="1.05" fill="#5f33fe"/><rect x="273.60" y="97.30" width="1.90" height="1.05" fill="#5443fd"/><rect x="273.60" y="98.30" width="1.90" height="1.05" fill="#4954fb"/><rect x="273.60" y="99.30" width="1.90" height="1.05" fill="#3e64fa"/><rect x="273.60" y="100.30" width="1.90" height="1.05" fill="#3e64fa"/><rect x="273.60" y="101.30" width="1.90" height="1.05" fill="#3473f8"/><rect x="273.60" y="102.30" width="1.90" height="1.05" fill="#2982f6"/><rect x="273.60" y="103.30" width="1.90" height="1.05" fill="#2982f6"/><rect x="273.60" y="104.30" width="1.90" height="1.05" fill="#1e90f4"/><rect x="273.60" y="105.30" width="1.90" height="1.05" fill="#1e90f4"/><rect x="273.60" y="106.30" width="1.90" height="1.05" fill="#139ef1"/><rect x="273.60" y="107.30" width="1.90" height="1.05" fill="#139ef1"/><rect x="273.60" y="108.30" width="1.90" height="1.05" fill="#08abee"/><rect x="273.60" y="109.30" width="1.90" height="1.05" fill="#08abee"/><rect x="273.60" y="110.30" width="1.90" height="1.05" fill="#03b7eb"/><rect x="273.60" y="111.30" width="1.90" height="1.05" fill="#0ec3e7"/><rect x="273.60" y="112.30" width="1.90" height="1.05" fill="#0ec3e7"/><rect x="273.60" y="113.30" width="1.90" height="1.05" fill="#18cde4"/><rect x="273.60" y="114.30" width="1.90" height="1.05" fill="#18cde4"/><rect x="273.60" y="115.30" width="1.90" height="1.05" fill="#23d7e0"/><rect x="273.60" y="116.30" width="1.90" height="1.05" fill="#23d7e0"/><rect x="273.60" y="117.30" width="1.90" height="1.05" fill="#2ee0db"/><rect x="273.60" y="118.30" width="1.90" height="1.05" fill="#2ee0db"/><rect x="273.60" y="119.30" width="1.90" height="1.05" fill="#39e7d7"/><rect x="273.60" y="120.30" width="1.90" height="1.05" fill="#39e7d7"/><rect x="273.60" y="121.30" width="1.90" height="1.05" fill="#44eed2"/><rect x="273.60" y="122.30" width="1.90" height="1.05" fill="#4ff4cd"/><rect x="273.60" y="123.30" width="1.90" height="0.25" fill="#4ff4cd"/><rect x="273.60" y="144.80" width="1.90" height="1.05" fill="#ff6433"/><rect x="273.60" y="145.80" width="1.90" height="1.05" fill="#ff542a"/><rect x="273.60" y="146.80" width="1.90" height="1.05" fill="#ff4322"/><rect x="273.60" y="147.80" width="1.90" height="1.05" fill="#ff331a"/><rect x="273.60" y="148.80" width="1.90" height="1.05" fill="#ff331a"/><rect x="273.60" y="149.80" width="1.90" height="1.05" fill="#ff2211"/><rect x="273.60" y="150.80" width="1.90" height="1.05" fill="#ff2211"/><rect x="273.60" y="151.80" width="1.90" height="1.05" fill="#ff1109"/><rect x="273.60" y="152.80" width="1.90" height="1.05" fill="#ff1109"/><rect x="273.60" y="153.80" width="1.90" height="1.05" fill="#ff1109"/><rect x="273.60" y="154.80" width="1.90" height="1.05" fill="#ff0000"/><rect x="273.60" y="155.80" width="1.90" height="0.45" fill="#ff0000"/><rect x="458.00" y="92.30" width="1.90" height="1.05" fill="#8000ff"/><rect x="458.00" y="93.30" width="1.90" height="1.05" fill="#7511ff"/><rect x="458.00" y="94.30" width="1.90" height="1.05" fill="#6a22fe"/><rect x="458.00" y="95.30" width="1.90" height="1.05" fill="#6a22fe"/><rect x="458.00" y="96.30" width="1.90" height="1.05" fill="#5f33fe"/><rect x="458.00" y="97.30" width="1.90" height="1.05" fill="#5443fd"/><rect x="458.00" y="98.30" width="1.90" height="1.05" fill="#4954fb"/><rect x="458.00" y="99.30" width="1.90" height="1.05" fill="#3e64fa"/><rect x="458.00" y="100.30" width="1.90" height="1.05" fill="#3e64fa"/><rect x="458.00" y="101.30" width="1.90" height="1.05" fill="#3473f8"/><rect x="458.00" y="102.30" width="1.90" height="1.05" fill="#2982f6"/><rect x="458.00" y="103.30" width="1.90" height="1.05" fill="#2982f6"/><rect x="458.00" y="104.30" width="1.90" height="1.05" fill="#1e90f4"/><rect x="458.00" y="105.30" width="1.90" height="1.05" fill="#1e90f4"/><rect x="458.00" y="106.30" width="1.90" height="1.05" fill="#139ef1"/><rect x="458.00" y="107.30" width="1.90" height="1.05" fill="#139ef1"/><rect x="458.00" y="108.30" width="1.90" height="1.05" fill="#08abee"/><rect x="458.00" y="109.30" width="1.90" height="1.05" fill="#08abee"/><rect x="458.00" y="110.30" width="1.90" height="1.05" fill="#03b7eb"/><rect x="458.00" y="111.30" width="1.90" height="1.05" fill="#0ec3e7"/><rect x="458.00" y="112.30" width="1.90" height="1.05" fill="#0ec3e7"/><rect x="458.00" y="113.30" width="1.90" height="1.05" fill="#18cde4"/><rect x="458.00" y="114.30" width="1.90" height="1.05" fill="#18cde4"/><rect x="458.00" y="115.30" width="1.90" height="1.05" fill="#23d7e0"/><rect x="458.00" y="116.30" width="1.90" height="1.05" fill="#23d7e0"/><rect x="458.00" y="117.30" width="1.90" height="1.05" fill="#2ee0db"/><rect x="458.00" y="118.30" width="1.90" height="1.05" fill="#2ee0db"/><rect x="458.00" y="119.30" width="1.90" height="1.05" fill="#39e7d7"/><rect x="458.00" y="120.30" width="1.90" height="0.45" fill="#39e7d7"/><rect x="458.00" y="144.80" width="1.90" height="1.05" fill="#ff6433"/><rect x="458.00" y="145.80" width="1.90" height="1.05" fill="#ff542a"/><rect x="458.00" y="146.80" width="1.90" height="1.05" fill="#ff4322"/><rect x="458.00" y="147.80" width="1.90" height="1.05" fill="#ff331a"/><rect x="458.00" y="148.80" width="1.90" height="1.05" fill="#ff331a"/><rect x="458.00" y="149.80" width="1.90" height="1.05" fill="#ff2211"/><rect x="458.00" y="150.80" width="1.90" height="1.05" fill="#ff2211"/><rect x="458.00" y="151.80" width="1.90" height="1.05" fill="#ff1109"/><rect x="458.00" y="152.80" width="1.90" height="1.05" fill="#ff1109"/><rect x="458.00" y="153.80" width="1.90" height="1.05" fill="#ff1109"/><rect x="458.00" y="154.80" width="1.90" height="1.05" fill="#ff0000"/><rect x="458.00" y="155.80" width="1.90" height="0.45" fill="#ff0000"/><rect x="89.20" y="176.30" width="1.90" height="1.05" fill="#8000ff"/><rect x="89.20" y="177.30" width="1.90" height="1.05" fill="#7511ff"/><rect x="89.20" y="178.30" width="1.90" height="1.05" fill="#6a22fe"/><rect x="89.20" y="179.30" width="1.90" height="1.05" fill="#6a22fe"/><rect x="89.20" y="180.30" width="1.90" height="1.05" fill="#5f33fe"/><rect x="89.20" y="181.30" width="1.90" height="1.05" fill="#5443fd"/><rect x="89.20" y="182.30" width="1.90" height="1.05" fill="#4954fb"/><rect x="89.20" y="183.30" width="1.90" height="1.05" fill="#3e64fa"/><rect x="89.20" y="184.30" width="1.90" height="1.05" fill="#3e64fa"/><rect x="89.20" y="185.30" width="1.90" height="1.05" fill="#3473f8"/><rect x="89.20" y="186.30" width="1.90" height="1.05" fill="#2982f6"/><rect x="89.20" y="187.30" width="1.90" height="1.05" fill="#2982f6"/><rect x="89.20" y="188.30" width="1.90" height="1.05" fill="#1e90f4"/><rect x="89.20" y="189.30" width="1.90" height="1.05" fill="#1e90f4"/><rect x="89.20" y="190.30" width="1.90" height="1.05" fill="#139ef1"/><rect x="89.20" y="191.30" width="1.90" height="1.05" fill="#139ef1"/><rect x="89.20" y="192.30" width="1.90" height="1.05" fill="#08abee"/><rect x="89.20" y="193.30" width="1.90" height="1.05" fill="#08abee"/><rect x="89.20" y="194.30" width="1.90" height="1.05" fill="#03b7eb"/><rect x="89.20" y="195.30" width="1.90" height="1.05" fill="#0ec3e7"/><rect x="89.20" y="196.30" width="1.90" height="1.05" fill="#0ec3e7"/><rect x="89.20" y="197.30" width="1.90" height="1.05" fill="#18cde4"/><rect x="89.20" y="198.30" width="1.90" height="1.05" fill="#18cde4"/><rect x="89.20" y="199.30" width="1.90" height="1.05" fill="#23d7e0"/><rect x="89.20" y="200.30" width="1.90" height="0.65" fill="#23d7e0"/><rect x="89.20" y="237.30" width="1.90" height="1.05" fill="#ff1109"/><rect x="89.20" y="238.30" width="1.90" height="1.05" fill="#ff1109"/><rect x="89.20" y="239.30" width="1.90" height="0.95" fill="#ff0000"/><rect x="273.60" y="236.00" width="1.90" height="1.05" fill="#ff1109"/><rect x="273.60" y="237.00" width="1.90" height="1.05" fill="#ff1109"/><rect x="273.60" y="238.00" width="1.90" height="1.05" fill="#ff1109"/><rect x="273.60" y="239.00" width="1.90" height="1.05" fill="#ff0000"/><rect x="273.60" y="240.00" width="1.90" height="0.25" fill="#ff0000"/><rect x="458.00" y="176.30" width="1.90" height="1.05" fill="#8000ff"/><rect x="458.00" y="177.30" width="1.90" height="1.05" fill="#7511ff"/><rect x="458.00" y="178.30" width="1.90" height="1.05" fill="#6a22fe"/><rect x="458.00" y="179.30" width="1.90" height="1.05" fill="#6a22fe"/><rect x="458.00" y="180.30" width="1.90" height="1.05" fill="#5f33fe"/><rect x="458.00" y="181.30" width="1.90" height="1.05" fill="#5443fd"/><rect x="458.00" y="182.30" width="1.90" height="1.05" fill="#4954fb"/><rect x="458.00" y="183.30" width="1.90" height="1.05" fill="#3e64fa"/><rect x="458.00" y="184.30" width="1.90" height="1.05" fill="#3e64fa"/><rect x="458.00" y="185.30" width="1.90" height="1.05" fill="#3473f8"/><rect x="458.00" y="186.30" width="1.90" height="1.05" fill="#2982f6"/><rect x="458.00" y="187.30" width="1.90" height="1.05" fill="#2982f6"/><rect x="458.00" y="188.30" width="1.90" height="1.05" fill="#1e90f4"/><rect x="458.00" y="189.30" width="1.90" height="1.05" fill="#1e90f4"/><rect x="458.00" y="190.30" width="1.90" height="1.05" fill="#139ef1"/><rect x="458.00" y="191.30" width="1.90" height="1.05" fill="#139ef1"/><rect x="458.00" y="192.30" width="1.90" height="1.05" fill="#08abee"/><rect x="458.00" y="193.30" width="1.90" height="1.05" fill="#08abee"/><rect x="458.00" y="194.30" width="1.90" height="1.05" fill="#03b7eb"/><rect x="458.00" y="195.30" width="1.90" height="1.05" fill="#0ec3e7"/><rect x="458.00" y="196.30" width="1.90" height="1.05" fill="#0ec3e7"/><rect x="458.00" y="197.30" width="1.90" height="1.05" fill="#18cde4"/><rect x="458.00" y="198.30" width="1.90" height="1.05" fill="#18cde4"/><rect x="458.00" y="199.30" width="1.90" height="1.05" fill="#23d7e0"/><rect x="458.00" y="200.30" width="1.90" height="1.05" fill="#23d7e0"/><rect x="458.00" y="201.30" width="1.90" height="0.55" fill="#2ee0db"/><rect x="458.00" y="220.30" width="1.90" height="1.05" fill="#d1e082"/><rect x="458.00" y="221.30" width="1.90" height="1.05" fill="#dcd77b"/><rect x="458.00" y="222.30" width="1.90" height="1.05" fill="#e7cd73"/><rect x="458.00" y="223.30" width="1.90" height="1.05" fill="#f1c36b"/><rect x="458.00" y="224.30" width="1.90" height="1.05" fill="#ffab5c"/><rect x="458.00" y="225.30" width="1.90" height="1.05" fill="#ff9e54"/><rect x="458.00" y="226.30" width="1.90" height="1.05" fill="#ff904c"/><rect x="458.00" y="227.30" width="1.90" height="1.05" fill="#ff8243"/><rect x="458.00" y="228.30" width="1.90" height="1.05" fill="#ff6433"/><rect x="458.00" y="229.30" width="1.90" height="1.05" fill="#ff6433"/><rect x="458.00" y="230.30" width="1.90" height="1.05" fill="#ff542a"/><rect x="458.00" y="231.30" width="1.90" height="1.05" fill="#ff4322"/><rect x="458.00" y="232.30" width="1.90" height="1.05" fill="#ff331a"/><rect x="458.00" y="233.30" width="1.90" height="1.05" fill="#ff331a"/><rect x="458.00" y="234.30" width="1.90" height="1.05" fill="#ff2211"/><rect x="458.00" y="235.30" width="1.90" height="1.05" fill="#ff2211"/><rect x="458.00" y="236.30" width="1.90" height="1.05" fill="#ff1109"/><rect x="458.00" y="237.30" width="1.90" height="1.05" fill="#ff1109"/><rect x="458.00" y="238.30" width="1.90" height="1.05" fill="#ff1109"/><rect x="458.00" y="239.30" width="1.90" height="0.95" fill="#ff0000"/></g>
<g></g>
<g fill="none"><path stroke="#ff0000" stroke-width="1.30" d="M94.6 70.9h1.30M94.3 71.5h1.30M95.9 71.1h1.30M94.3 71.3h1.30M278.3 71.4h1.30M278.1 71.8h1.30M279.0 71.2h1.30M278.4 71.8h1.30M463.8 72.1h1.30M466.2 71.0h1.30M466.1 71.0h1.30M463.7 71.8h1.30M93.6 155.0h1.30M279.7 155.2h1.30M281.5 155.4h1.30M278.4 155.2h1.30M465.8 154.9h1.30M96.6 239.2h1.30M96.7 239.4h1.30M96.5 239.0h1.30M94.3 239.5h1.30M96.3 239.8h1.30M94.6 239.1h1.30M96.6 239.0h1.30M281.3 239.0h1.30M280.4 238.8h1.30M278.1 239.3h1.30M280.2 239.4h1.30M279.5 239.6h1.30M281.0 239.4h1.30M278.7 239.2h1.30M463.5 239.7h1.30M463.0 239.4h1.30M463.4 239.2h1.30"/><path stroke="#ff1109" stroke-width="1.30" d="M99.0 68.5h1.30M97.1 69.8h1.30M96.9 69.4h1.30M96.2 69.5h1.30M101.5 68.7h1.30M94.3 68.8h1.30M95.9 70.7h1.30M98.4 69.6h1.30M103.3 68.2h1.30M95.7 69.5h1.30M95.4 68.1h1.30M96.7 68.5h1.30M96.3 68.6h1.30M95.8 69.4h1.30M96.2 68.9h1.30M94.5 69.2h1.30M98.8 68.7h1.30M95.1 70.7h1.30M98.4 68.6h1.30M100.9 68.1h1.30M103.0 68.3h1.30M97.0 70.5h1.30M95.5 69.7h1.30M97.7 69.8h1.30M104.1 68.5h1.30M97.4 68.6h1.30M95.0 69.2h1.30M98.8 68.1h1.30M96.7 68.6h1.30M101.3 69.2h1.30M95.0 68.7h1.30M103.7 68.6h1.30M279.3 68.7h1.30M278.5 68.1h1.30M279.0 70.6h1.30M280.6 68.2h1.30M280.1 70.6h1.30M278.5 68.1h1.30M285.3 68.4h1.30M279.2 68.3h1.30M283.8 68.9h1.30M278.7 69.8h1.30M280.3 69.5h1.30M283.9 68.5h1.30M278.1 68.5h1.30M279.5 70.2h1.30M281.0 69.3h1.30M282.4 69.0h1.30M279.7 68.7h1.30M279.2 68.8h1.30M283.2 68.2h1.30M281.2 68.1h1.30M282.9 69.3h1.30M279.2 68.0h1.30M278.1 70.8h1.30M282.8 68.9h1.30M280.8 69.4h1.30M279.9 68.6h1.30M278.9 68.1h1.30M280.3 70.1h1.30M279.6 69.5h1.30M281.0 68.9h1.30M281.2 69.6h1.30M464.4 69.8h1.30M469.1 68.7h1.30M469.8 68.8h1.30M468.0 69.5h1.30M466.3 70.5h1.30M463.0 70.3h1.30M472.1 68.1h1.30M469.5 68.3h1.30M466.6 70.4h1.30M464.4 69.4h1.30M468.4 68.6h1.30M472.9 68.3h1.30M463.1 69.3h1.30M463.8 70.1h1.30M469.3 69.0h1.30M472.3 68.3h1.30M464.1 69.8h1.30M467.7 68.9h1.30M466.7 68.6h1.30M464.5 68.2h1.30M462.6 68.8h1.30M463.7 69.7h1.30M465.5 68.3h1.30M463.6 70.7h1.30M465.9 69.9h1.30M465.5 69.9h1.30M469.3 69.6h1.30M469.7 68.4h1.30M463.9 69.8h1.30M468.0 70.3h1.30M463.0 69.5h1.30M471.8 68.8h1.30M465.1 70.4h1.30M464.4 70.4h1.30M464.6 70.2h1.30M466.7 69.6h1.30M467.7 68.5h1.30M462.5 69.4h1.30M466.1 69.5h1.30M465.5 69.3h1.30M462.6 68.8h1.30M94.9 152.0h1.30M94.3 152.4h1.30M96.8 152.0h1.30M94.4 153.8h1.30M93.8 154.6h1.30M95.3 152.1h1.30M94.3 153.9h1.30M94.6 152.3h1.30M95.6 152.7h1.30M93.9 152.1h1.30M94.2 153.9h1.30M93.7 154.3h1.30M94.8 153.5h1.30M281.1 154.4h1.30M282.5 154.2h1.30M281.4 154.0h1.30M278.8 154.5h1.30M285.6 153.2h1.30M282.8 154.4h1.30M287.2 152.7h1.30M287.2 152.1h1.30M282.7 153.2h1.30M284.3 152.3h1.30M278.5 154.7h1.30M279.8 153.3h1.30M286.3 152.8h1.30M290.3 152.2h1.30M288.8 152.2h1.30M287.5 153.1h1.30M284.3 152.2h1.30M280.4 153.2h1.30M287.3 152.8h1.30M287.5 152.7h1.30M279.0 154.0h1.30M282.7 153.2h1.30M280.8 154.5h1.30M279.8 153.3h1.30M285.6 153.6h1.30M281.1 152.9h1.30M280.5 153.9h1.30M284.7 152.3h1.30M283.3 154.1h1.30M285.1 153.3h1.30M283.6 153.7h1.30M281.6 153.4h1.30M467.6 152.4h1.30M466.1 152.1h1.30M465.1 154.6h1.30M465.6 153.9h1.30M466.9 154.4h1.30M466.3 152.6h1.30M469.8 152.8h1.30M466.1 154.2h1.30M468.9 152.1h1.30M465.6 152.4h1.30M468.7 154.0h1.30M464.9 154.5h1.30M464.5 154.6h1.30M472.8 152.9h1.30M470.6 153.2h1.30M472.5 152.9h1.30M466.0 153.0h1.30M464.4 154.4h1.30M463.0 154.8h1.30M471.4 152.0h1.30M471.9 152.5h1.30M468.2 153.6h1.30M466.4 153.2h1.30M463.0 154.8h1.30M464.8 153.9h1.30M466.7 154.2h1.30M466.0 154.5h1.30M471.1 152.1h1.30M468.1 152.1h1.30M467.3 154.1h1.30M462.7 154.4h1.30M464.5 153.8h1.30M464.3 154.1h1.30M464.2 154.2h1.30M471.2 152.9h1.30M466.4 153.5h1.30M473.3 152.6h1.30M97.5 236.0h1.30M101.2 236.6h1.30M97.9 237.0h1.30M94.6 237.6h1.30M101.6 236.1h1.30M103.8 236.0h1.30M99.1 236.8h1.30M97.5 236.4h1.30M101.5 237.4h1.30M96.9 237.8h1.30M97.3 237.1h1.30M101.7 237.9h1.30M102.4 237.3h1.30M99.2 238.2h1.30M96.3 238.2h1.30M101.1 237.0h1.30M99.8 238.1h1.30M94.3 237.5h1.30M100.1 236.3h1.30M96.2 236.6h1.30M98.4 236.9h1.30M97.7 237.8h1.30M94.7 237.3h1.30M96.3 237.2h1.30M95.5 236.8h1.30M98.7 236.6h1.30M96.5 237.6h1.30M99.5 236.8h1.30M100.6 236.2h1.30M95.4 237.4h1.30M105.2 236.2h1.30M97.2 237.4h1.30M98.8 237.9h1.30M103.2 237.1h1.30M98.9 237.6h1.30M102.0 236.3h1.30M100.5 237.2h1.30M284.2 236.4h1.30M289.8 236.0h1.30M286.5 236.0h1.30M288.5 236.6h1.30M282.7 238.1h1.30M280.6 236.5h1.30M281.9 238.8h1.30M280.5 238.7h1.30M286.7 237.3h1.30M279.8 238.5h1.30M286.4 236.4h1.30M281.0 238.4h1.30M284.7 238.1h1.30M279.7 237.4h1.30M284.1 236.8h1.30M280.6 238.3h1.30M281.7 237.3h1.30M283.0 236.0h1.30M280.7 238.7h1.30M288.2 235.9h1.30M282.9 237.7h1.30M284.2 237.5h1.30M278.7 238.5h1.30M283.2 237.1h1.30M283.5 238.3h1.30M282.2 236.7h1.30M284.0 236.1h1.30M279.9 236.9h1.30M282.3 238.3h1.30M284.2 236.3h1.30M281.3 237.5h1.30M279.9 237.9h1.30M281.2 236.3h1.30M285.2 237.3h1.30M466.1 236.8h1.30M465.1 237.9h1.30M464.2 236.4h1.30M463.4 238.4h1.30M462.5 238.6h1.30M464.0 237.7h1.30M463.8 237.7h1.30M464.0 238.5h1.30M466.4 236.7h1.30M463.9 237.8h1.30M463.6 238.5h1.30M465.6 236.2h1.30M462.7 236.3h1.30M466.9 236.1h1.30M467.0 236.8h1.30M466.1 237.2h1.30M466.5 236.4h1.30M463.0 237.8h1.30M466.2 237.3h1.30M466.8 237.0h1.30M463.5 236.0h1.30M464.6 237.7h1.30M464.4 236.6h1.30M469.1 236.0h1.30"/><path stroke="#ff1109" stroke-width="1.60" d="M80.4 237.3h1.60M84.7 238.8h1.60"/><path stroke="#ff2211" stroke-width="1.30" d="M93.9 67.1h1.30M105.1 66.8h1.30M111.1 66.8h1.30M98.0 66.8h1.30M102.6 66.7h1.30M97.9 66.9h1.30M111.1 67.1h1.30M113.2 66.8h1.30M99.9 66.2h1.30M97.9 66.6h1.30M107.1 67.3h1.30M97.6 66.4h1.30M100.7 68.0h1.30M113.7 66.4h1.30M94.4 67.6h1.30M99.6 67.2h1.30M98.4 67.4h1.30M100.3 66.5h1.30M97.4 67.4h1.30M113.5 66.7h1.30M97.7 67.1h1.30M107.4 67.2h1.30M98.0 66.6h1.30M105.7 66.9h1.30M95.3 67.0h1.30M94.8 66.9h1.30M109.7 67.5h1.30M97.1 66.6h1.30M110.1 67.5h1.30M108.4 67.8h1.30M112.6 66.9h1.30M106.2 67.1h1.30M100.3 67.3h1.30M102.8 67.2h1.30M113.4 66.4h1.30M93.7 66.6h1.30M100.4 66.3h1.30M100.1 66.5h1.30M99.5 67.0h1.30M105.7 66.3h1.30M105.0 66.5h1.30M101.5 67.9h1.30M101.1 67.0h1.30M101.5 66.2h1.30M103.5 67.0h1.30M106.0 67.1h1.30M97.0 67.8h1.30M111.3 66.8h1.30M98.3 66.2h1.30M115.4 66.2h1.30M103.4 66.8h1.30M94.0 67.9h1.30M111.5 66.5h1.30M107.9 67.1h1.30M101.6 67.6h1.30M100.7 66.8h1.30M97.3 67.7h1.30M116.0 66.3h1.30M97.2 66.9h1.30M108.8 66.5h1.30M115.9 66.3h1.30M101.5 68.0h1.30M98.7 66.2h1.30M106.5 66.4h1.30M96.3 67.6h1.30M109.1 66.7h1.30M104.8 66.5h1.30M99.0 66.3h1.30M101.3 67.1h1.30M94.8 67.9h1.30M111.5 66.6h1.30M114.1 66.4h1.30M95.3 66.4h1.30M97.3 67.9h1.30M104.2 66.6h1.30M101.3 68.0h1.30M112.3 67.0h1.30M279.3 66.8h1.30M287.1 67.2h1.30M288.0 66.5h1.30M284.8 67.4h1.30M284.5 67.4h1.30M282.3 67.6h1.30M279.9 67.4h1.30M286.9 67.2h1.30M280.9 67.8h1.30M284.1 67.0h1.30M283.3 66.2h1.30M281.7 67.9h1.30M279.1 66.9h1.30M280.2 66.2h1.30M279.6 66.2h1.30M283.5 66.5h1.30M279.2 67.9h1.30M283.4 67.0h1.30M280.5 66.5h1.30M279.3 67.6h1.30M287.2 66.5h1.30M284.6 66.6h1.30M280.6 67.9h1.30M287.3 66.5h1.30M286.1 66.5h1.30M288.1 66.7h1.30M278.2 67.8h1.30M288.4 66.7h1.30M284.3 67.5h1.30M288.8 66.9h1.30M279.5 66.9h1.30M284.4 67.5h1.30M280.8 67.1h1.30M284.5 67.0h1.30M280.0 67.6h1.30M285.7 66.4h1.30M287.8 67.4h1.30M278.2 67.9h1.30M280.2 67.2h1.30M284.8 66.7h1.30M284.8 66.4h1.30M282.6 67.5h1.30M281.6 66.8h1.30M474.0 67.2h1.30M472.3 67.3h1.30M464.2 67.5h1.30M470.5 67.8h1.30M473.4 67.8h1.30M468.4 68.0h1.30M471.1 68.0h1.30M466.0 66.7h1.30M468.1 66.8h1.30M467.7 68.0h1.30M464.9 67.9h1.30M469.7 67.2h1.30M475.5 66.2h1.30M464.4 67.3h1.30M472.0 67.5h1.30M467.9 67.8h1.30M474.3 66.4h1.30M470.5 67.8h1.30M469.2 67.0h1.30M473.5 66.8h1.30M468.0 67.4h1.30M472.6 66.2h1.30M472.3 66.4h1.30M475.9 66.8h1.30M463.1 67.8h1.30M474.3 66.8h1.30M466.7 67.9h1.30M463.5 67.2h1.30M464.2 66.8h1.30M474.9 67.2h1.30M473.7 67.2h1.30M462.5 67.7h1.30M475.9 66.7h1.30M466.4 67.8h1.30M470.6 67.7h1.30M471.9 66.5h1.30M465.2 66.5h1.30M471.0 67.9h1.30M473.7 67.7h1.30M464.5 67.0h1.30M465.5 66.3h1.30M463.8 66.7h1.30M471.2 67.7h1.30M470.7 67.4h1.30M477.9 66.7h1.30M477.0 66.6h1.30M462.7 67.7h1.30M96.3 150.5h1.30M99.9 150.7h1.30M97.9 150.6h1.30M93.8 150.4h1.30M97.2 150.8h1.30M96.7 151.6h1.30M97.7 150.9h1.30M98.8 151.3h1.30M96.9 151.9h1.30M95.6 150.6h1.30M97.4 151.5h1.30M97.1 151.0h1.30M99.7 150.8h1.30M99.9 150.7h1.30M95.9 151.0h1.30M97.7 150.8h1.30M97.4 150.2h1.30M101.5 150.1h1.30M94.1 151.9h1.30M100.3 150.3h1.30M289.0 150.2h1.30M285.2 150.7h1.30M287.3 150.2h1.30M288.9 150.3h1.30M292.9 150.4h1.30M290.3 151.0h1.30M285.3 151.2h1.30M293.1 150.7h1.30M288.4 151.8h1.30M291.0 151.5h1.30M294.8 150.5h1.30M285.8 151.3h1.30M293.4 150.7h1.30M282.3 152.0h1.30M293.6 150.5h1.30M287.1 150.8h1.30M292.3 150.5h1.30M288.5 151.5h1.30M290.1 150.4h1.30M292.9 151.2h1.30M286.6 151.3h1.30M286.7 151.0h1.30M287.0 151.2h1.30M292.8 150.8h1.30M291.2 151.2h1.30M287.0 150.6h1.30M290.6 150.4h1.30M292.6 151.2h1.30M286.1 151.2h1.30M284.6 150.8h1.30M289.3 151.4h1.30M284.1 152.0h1.30M288.8 150.6h1.30M284.6 151.5h1.30M285.4 151.7h1.30M287.6 151.2h1.30M291.2 150.9h1.30M293.6 150.4h1.30M285.3 150.9h1.30M284.6 151.0h1.30M287.5 152.0h1.30M288.5 151.8h1.30M292.9 150.6h1.30M288.6 150.2h1.30M292.1 150.3h1.30M286.3 151.6h1.30M285.7 151.1h1.30M476.7 150.7h1.30M480.4 150.4h1.30M475.5 151.4h1.30M476.7 151.2h1.30M471.3 151.2h1.30M471.7 151.3h1.30M477.1 151.2h1.30M476.2 151.1h1.30M474.9 150.9h1.30M471.4 151.7h1.30M473.9 151.4h1.30M472.3 151.5h1.30M471.8 151.0h1.30M478.4 150.8h1.30M479.2 151.0h1.30M472.8 152.0h1.30M469.8 150.9h1.30M476.3 151.2h1.30M468.8 151.2h1.30M468.9 151.7h1.30M474.0 150.8h1.30M471.8 151.6h1.30M474.6 150.8h1.30M473.3 151.0h1.30M468.9 152.0h1.30M467.7 152.0h1.30M476.0 151.9h1.30M473.2 150.9h1.30M478.5 150.4h1.30M476.8 150.1h1.30M470.8 151.0h1.30M479.3 150.2h1.30M475.4 151.3h1.30M468.6 151.9h1.30M473.5 151.2h1.30M475.7 150.2h1.30M476.5 150.1h1.30M478.6 150.2h1.30M477.0 150.9h1.30M468.4 151.6h1.30M107.6 234.4h1.30M108.0 234.8h1.30M105.5 235.2h1.30M106.9 234.7h1.30M98.9 235.5h1.30M104.7 235.6h1.30M106.0 234.4h1.30M110.1 234.5h1.30M98.2 235.5h1.30M105.9 235.9h1.30M103.4 235.2h1.30M109.4 234.7h1.30M106.5 235.2h1.30M102.2 235.4h1.30M104.4 235.0h1.30M106.9 234.9h1.30M108.3 234.5h1.30M108.4 234.4h1.30M109.7 234.1h1.30M106.0 235.5h1.30M103.4 235.0h1.30M106.4 235.8h1.30M102.9 235.0h1.30M106.0 234.7h1.30M108.3 234.6h1.30M103.1 235.3h1.30M104.3 234.6h1.30M106.2 235.0h1.30M106.9 235.0h1.30M106.2 235.8h1.30M102.6 234.7h1.30M109.1 234.1h1.30M107.2 234.2h1.30M104.1 235.5h1.30M106.7 234.9h1.30M106.7 235.4h1.30M98.6 235.7h1.30M110.7 234.4h1.30M109.0 234.5h1.30M103.2 234.4h1.30M99.4 235.3h1.30M105.8 235.5h1.30M286.1 234.5h1.30M285.5 235.3h1.30M289.3 235.6h1.30M287.5 234.1h1.30M291.6 234.7h1.30M291.0 234.1h1.30M284.3 235.4h1.30M288.5 234.7h1.30M289.2 235.0h1.30M291.1 235.4h1.30M289.8 234.1h1.30M287.6 234.4h1.30M294.0 234.4h1.30M291.0 234.2h1.30M292.0 234.2h1.30M285.5 234.8h1.30M290.5 234.7h1.30M287.2 234.1h1.30M284.7 235.2h1.30M287.9 235.4h1.30M290.3 234.7h1.30M287.5 235.5h1.30M290.7 234.6h1.30M285.8 234.8h1.30M284.4 234.8h1.30M291.5 234.1h1.30M282.6 235.8h1.30M284.4 235.7h1.30M292.0 234.7h1.30M285.6 235.9h1.30M282.7 235.9h1.30M472.1 234.3h1.30M468.2 235.7h1.30M462.4 235.8h1.30M468.8 235.0h1.30M465.5 235.3h1.30M467.0 235.3h1.30M465.1 235.0h1.30M467.3 235.2h1.30M463.0 235.6h1.30M467.8 234.5h1.30M465.3 235.4h1.30M468.5 235.1h1.30M464.4 235.9h1.30M469.2 235.2h1.30M465.8 235.1h1.30M466.9 235.0h1.30M465.1 235.3h1.30M467.0 235.2h1.30M471.0 234.4h1.30M468.8 234.5h1.30M464.5 234.2h1.30M470.8 234.5h1.30M468.4 234.1h1.30M468.5 235.4h1.30M468.0 235.7h1.30M465.7 235.6h1.30M467.6 234.8h1.30M465.8 234.7h1.30M466.9 234.8h1.30M469.3 235.0h1.30M468.7 234.7h1.30M471.7 234.1h1.30M468.7 235.8h1.30M466.5 234.4h1.30M467.0 234.1h1.30M464.5 235.5h1.30M466.3 235.4h1.30"/><path stroke="#ff2211" stroke-width="1.60" d="M42.5 234.5h1.60M60.6 234.5h1.60M73.3 235.9h1.60M77.6 235.9h1.60M83.3 235.9h1.60M69.1 235.9h1.60M259.3 235.9h1.60M267.9 234.5h1.60M270.7 235.1h1.60"/><path stroke="#ff331a" stroke-width="1.30" d="M106.7 65.2h1.30M107.5 64.3h1.30M107.7 65.2h1.30M113.6 64.7h1.30M107.8 65.0h1.30M118.9 65.4h1.30M115.6 64.7h1.30M108.5 65.3h1.30M115.6 65.6h1.30M106.7 64.4h1.30M99.4 65.4h1.30M115.3 65.4h1.30M114.9 66.2h1.30M113.8 65.7h1.30M111.7 64.5h1.30M100.8 64.6h1.30M111.8 65.6h1.30M100.5 65.0h1.30M111.4 65.7h1.30M100.5 65.5h1.30M114.5 64.4h1.30M104.2 64.8h1.30M99.4 65.5h1.30M97.2 66.0h1.30M109.5 64.4h1.30M98.9 65.5h1.30M98.8 66.0h1.30M100.9 64.7h1.30M103.9 65.7h1.30M105.3 65.5h1.30M115.3 65.6h1.30M100.0 65.2h1.30M102.9 64.6h1.30M101.5 65.2h1.30M120.4 64.4h1.30M121.8 64.7h1.30M106.8 64.8h1.30M106.5 65.7h1.30M109.4 65.6h1.30M110.0 64.8h1.30M122.1 64.9h1.30M109.2 65.7h1.30M117.9 65.6h1.30M110.3 65.6h1.30M109.0 65.9h1.30M101.0 65.4h1.30M96.3 66.1h1.30M114.8 66.1h1.30M109.2 65.5h1.30M120.5 64.4h1.30M117.5 64.9h1.30M98.9 65.9h1.30M120.1 64.8h1.30M116.1 64.3h1.30M105.7 64.4h1.30M101.4 65.9h1.30M110.0 66.2h1.30M109.3 65.1h1.30M113.5 65.7h1.30M106.0 64.3h1.30M111.4 66.0h1.30M102.9 64.4h1.30M123.8 64.7h1.30M117.2 64.5h1.30M109.2 64.4h1.30M115.5 65.5h1.30M117.3 64.5h1.30M107.7 66.1h1.30M104.7 64.4h1.30M116.0 65.0h1.30M110.8 65.9h1.30M116.2 64.6h1.30M109.0 64.3h1.30M98.3 65.5h1.30M105.2 65.8h1.30M109.2 64.8h1.30M120.5 64.5h1.30M100.0 66.0h1.30M115.3 66.1h1.30M111.1 65.7h1.30M286.7 64.4h1.30M283.1 64.8h1.30M281.8 65.2h1.30M286.6 66.0h1.30M290.1 65.4h1.30M287.1 64.9h1.30M281.4 64.8h1.30M284.6 65.5h1.30M280.6 65.9h1.30M287.5 65.4h1.30M281.6 65.4h1.30M286.3 65.7h1.30M281.5 66.0h1.30M291.9 65.1h1.30M284.3 65.2h1.30M280.0 66.0h1.30M284.5 66.1h1.30M294.5 64.5h1.30M290.1 64.6h1.30M286.9 65.6h1.30M283.1 65.9h1.30M283.5 65.2h1.30M284.6 65.1h1.30M290.9 65.2h1.30M291.1 65.5h1.30M290.3 65.8h1.30M283.2 66.0h1.30M287.1 64.3h1.30M287.9 64.6h1.30M289.1 65.6h1.30M286.8 65.4h1.30M286.4 66.0h1.30M291.9 64.8h1.30M285.2 65.3h1.30M289.1 65.5h1.30M287.1 65.2h1.30M283.9 64.8h1.30M289.0 65.3h1.30M287.4 65.8h1.30M287.8 66.0h1.30M282.5 65.5h1.30M283.1 65.8h1.30M283.8 65.9h1.30M288.4 65.4h1.30M291.9 65.3h1.30M289.9 64.3h1.30M283.5 64.5h1.30M288.8 65.2h1.30M292.3 64.7h1.30M283.8 65.0h1.30M282.0 64.7h1.30M292.5 65.2h1.30M283.4 64.5h1.30M475.3 64.8h1.30M477.6 64.9h1.30M479.0 65.0h1.30M469.0 65.0h1.30M466.2 65.8h1.30M482.3 64.8h1.30M473.5 65.8h1.30M481.6 64.5h1.30M467.9 65.0h1.30M469.7 65.0h1.30M476.2 66.0h1.30M475.0 65.1h1.30M478.6 64.4h1.30M473.9 66.0h1.30M472.0 65.1h1.30M475.1 65.0h1.30M478.4 65.4h1.30M478.1 66.0h1.30M478.9 65.7h1.30M480.5 65.0h1.30M473.1 64.8h1.30M470.1 66.1h1.30M479.7 65.0h1.30M472.8 64.5h1.30M474.4 64.7h1.30M465.1 66.1h1.30M480.9 65.1h1.30M480.0 65.0h1.30M479.3 65.2h1.30M481.6 65.2h1.30M469.1 65.8h1.30M475.6 65.2h1.30M478.4 64.7h1.30M471.8 65.3h1.30M473.9 66.0h1.30M472.0 64.5h1.30M469.7 64.9h1.30M469.2 65.7h1.30M475.8 64.9h1.30M471.3 65.7h1.30M478.8 65.7h1.30M479.2 64.5h1.30M476.2 65.1h1.30M467.3 66.0h1.30M472.1 65.4h1.30M476.4 65.4h1.30M483.1 64.3h1.30M471.9 65.7h1.30M95.5 148.7h1.30M95.0 150.0h1.30M99.5 149.0h1.30M97.9 149.6h1.30M101.9 149.5h1.30M97.3 148.5h1.30M96.7 149.5h1.30M93.7 149.8h1.30M99.1 149.4h1.30M100.9 149.6h1.30M98.6 148.3h1.30M96.3 149.5h1.30M99.2 149.2h1.30M106.0 148.6h1.30M101.8 148.5h1.30M101.5 149.6h1.30M101.5 148.8h1.30M98.8 149.7h1.30M95.2 149.5h1.30M96.7 150.0h1.30M95.2 149.5h1.30M97.6 148.4h1.30M96.9 148.6h1.30M101.0 148.9h1.30M97.3 149.8h1.30M103.5 148.5h1.30M96.1 148.3h1.30M100.7 150.1h1.30M102.6 148.5h1.30M96.7 149.9h1.30M98.8 148.8h1.30M289.5 148.7h1.30M299.6 149.0h1.30M293.5 149.7h1.30M301.3 148.7h1.30M296.9 148.3h1.30M287.6 149.5h1.30M294.5 148.6h1.30M292.8 148.4h1.30M297.6 148.3h1.30M294.5 148.5h1.30M288.9 149.9h1.30M297.3 148.5h1.30M292.1 150.0h1.30M298.7 148.7h1.30M298.6 149.0h1.30M294.4 149.4h1.30M292.8 148.8h1.30M297.4 149.0h1.30M296.0 149.1h1.30M291.1 148.5h1.30M295.4 149.8h1.30M290.7 148.5h1.30M294.3 149.6h1.30M296.7 149.9h1.30M297.9 149.4h1.30M292.9 150.1h1.30M300.3 148.5h1.30M292.5 148.8h1.30M287.5 149.6h1.30M291.1 148.4h1.30M292.0 149.9h1.30M298.5 148.8h1.30M299.9 148.3h1.30M294.5 149.1h1.30M296.3 149.2h1.30M296.5 149.2h1.30M288.9 149.6h1.30M292.3 148.9h1.30M295.3 149.5h1.30M295.5 150.0h1.30M301.1 148.6h1.30M296.8 148.8h1.30M290.1 148.9h1.30M297.6 149.4h1.30M480.5 149.2h1.30M479.9 149.6h1.30M475.8 149.1h1.30M479.1 148.5h1.30M478.2 149.1h1.30M480.3 149.6h1.30M484.8 148.4h1.30M475.6 149.8h1.30M482.3 148.2h1.30M477.9 148.3h1.30M475.9 148.7h1.30M482.4 148.4h1.30M481.3 149.9h1.30M477.7 148.8h1.30M479.8 149.9h1.30M480.9 148.5h1.30M475.3 149.2h1.30M475.8 148.5h1.30M474.4 149.1h1.30M475.0 149.6h1.30M483.7 148.5h1.30M477.9 149.1h1.30M485.5 148.8h1.30M478.1 148.4h1.30M476.1 150.1h1.30M475.9 148.7h1.30M476.8 148.8h1.30M475.8 148.2h1.30M482.2 149.0h1.30M475.9 150.0h1.30M482.7 148.3h1.30M472.9 149.7h1.30M485.8 148.6h1.30M473.4 149.9h1.30M479.4 148.9h1.30M477.5 149.6h1.30M481.6 149.1h1.30M482.1 148.8h1.30M473.9 149.2h1.30M485.0 148.7h1.30M485.1 148.4h1.30M475.0 149.6h1.30M477.2 149.5h1.30M109.1 233.1h1.30M108.7 233.1h1.30M110.2 233.4h1.30M107.6 233.8h1.30M110.8 232.8h1.30M106.6 233.7h1.30M104.3 233.5h1.30M106.6 233.0h1.30M107.4 233.6h1.30M108.2 232.8h1.30M108.9 232.3h1.30M103.2 233.9h1.30M105.5 233.1h1.30M107.6 233.1h1.30M108.9 233.7h1.30M103.5 233.9h1.30M108.6 232.4h1.30M106.0 233.0h1.30M109.0 232.9h1.30M105.6 233.4h1.30M108.8 232.9h1.30M107.0 233.4h1.30M108.7 233.7h1.30M108.6 233.1h1.30M112.2 233.8h1.30M104.4 233.6h1.30M106.0 232.7h1.30M109.3 233.4h1.30M110.8 233.6h1.30M107.1 233.1h1.30M104.1 234.0h1.30M106.9 233.8h1.30M105.0 233.6h1.30M108.8 233.7h1.30M107.7 233.5h1.30M107.5 233.4h1.30M107.0 232.7h1.30M109.3 232.6h1.30M292.7 233.3h1.30M292.3 232.9h1.30M289.1 233.1h1.30M296.3 233.6h1.30M287.9 233.3h1.30M296.4 233.8h1.30M287.6 233.9h1.30M293.9 233.4h1.30M294.6 233.5h1.30M287.7 233.1h1.30M292.2 233.5h1.30M290.8 232.7h1.30M290.0 232.7h1.30M289.7 233.8h1.30M287.3 233.5h1.30M287.3 233.6h1.30M290.1 233.6h1.30M294.2 233.9h1.30M296.8 233.0h1.30M289.5 232.5h1.30M297.8 233.0h1.30M297.9 232.8h1.30M293.9 233.5h1.30M295.5 233.6h1.30M290.6 233.3h1.30M291.7 232.7h1.30M287.5 233.9h1.30M291.1 232.8h1.30M291.7 232.8h1.30M470.7 232.4h1.30M475.9 232.6h1.30M472.0 232.4h1.30M472.3 232.4h1.30M471.1 232.6h1.30M468.7 233.8h1.30M471.1 233.6h1.30M468.2 232.5h1.30M468.2 233.6h1.30M469.4 233.1h1.30M467.3 233.8h1.30M473.1 233.5h1.30M474.3 233.1h1.30M471.8 233.8h1.30M469.3 232.7h1.30M475.7 233.0h1.30M472.0 233.9h1.30M472.9 234.0h1.30M471.4 232.4h1.30M465.4 233.8h1.30M469.6 233.7h1.30M474.9 233.1h1.30M471.1 232.9h1.30M469.3 233.0h1.30M472.4 232.3h1.30M472.4 233.3h1.30M475.0 233.0h1.30M470.0 233.1h1.30M470.8 232.5h1.30M475.9 232.5h1.30M470.1 232.2h1.30M473.1 233.3h1.30M470.3 233.7h1.30M470.8 232.3h1.30"/><path stroke="#ff331a" stroke-width="1.60" d="M79.7 64.5h1.60M42.5 233.0h1.60M44.2 232.5h1.60M54.7 233.5h1.60M228.5 232.7h1.60M236.7 233.6h1.60M248.5 233.6h1.60"/><path stroke="#ff4322" stroke-width="1.30" d="M121.7 63.5h1.30M121.2 64.2h1.30M121.3 63.2h1.30M124.0 63.9h1.30M111.5 63.9h1.30M106.6 63.3h1.30M120.1 63.3h1.30M106.8 63.8h1.30M122.5 63.8h1.30M113.4 63.3h1.30M108.0 63.5h1.30M125.3 64.1h1.30M108.6 64.1h1.30M117.1 63.7h1.30M103.9 64.2h1.30M102.5 64.2h1.30M118.1 64.1h1.30M121.9 64.1h1.30M113.1 64.2h1.30M110.3 63.9h1.30M127.1 63.3h1.30M116.2 64.2h1.30M121.6 63.4h1.30M116.6 64.2h1.30M126.6 63.7h1.30M127.0 63.2h1.30M115.9 64.2h1.30M110.9 63.4h1.30M117.7 63.5h1.30M110.9 63.9h1.30M119.6 63.6h1.30M120.8 63.9h1.30M113.1 64.2h1.30M119.0 64.0h1.30M113.9 63.5h1.30M127.2 63.4h1.30M113.3 63.6h1.30M111.2 64.0h1.30M107.5 63.6h1.30M107.7 63.5h1.30M104.5 64.1h1.30M112.2 64.2h1.30M113.5 63.6h1.30M118.5 63.2h1.30M125.2 63.5h1.30M120.9 63.4h1.30M111.9 63.2h1.30M111.0 63.8h1.30M117.5 64.1h1.30M107.7 63.6h1.30M283.9 63.9h1.30M293.7 64.2h1.30M287.3 64.1h1.30M289.1 63.8h1.30M298.3 63.2h1.30M291.3 64.1h1.30M291.1 63.8h1.30M284.5 64.3h1.30M295.2 63.7h1.30M295.4 64.1h1.30M295.5 63.4h1.30M287.7 64.2h1.30M295.3 63.4h1.30M289.5 64.0h1.30M293.4 63.1h1.30M295.7 64.2h1.30M289.4 64.1h1.30M289.1 64.0h1.30M292.2 64.1h1.30M291.6 63.2h1.30M282.9 64.1h1.30M475.4 63.4h1.30M479.3 63.5h1.30M484.7 63.7h1.30M481.9 64.1h1.30M483.1 63.4h1.30M481.1 63.3h1.30M478.0 63.9h1.30M475.2 63.6h1.30M478.2 64.2h1.30M481.5 63.3h1.30M480.7 63.7h1.30M483.4 64.1h1.30M476.9 63.4h1.30M476.8 63.2h1.30M479.2 63.6h1.30M481.2 63.9h1.30M482.7 63.3h1.30M482.2 63.2h1.30M478.5 63.9h1.30M481.4 64.1h1.30M479.1 64.0h1.30M484.2 63.2h1.30M477.4 63.9h1.30M480.4 63.8h1.30M477.9 63.7h1.30M96.1 148.1h1.30M98.7 147.9h1.30M101.0 148.0h1.30M104.1 148.1h1.30M108.3 147.3h1.30M98.7 147.3h1.30M104.5 148.2h1.30M96.3 148.0h1.30M108.0 147.6h1.30M102.8 147.7h1.30M98.9 147.2h1.30M100.4 147.8h1.30M98.3 147.4h1.30M102.2 148.1h1.30M104.2 148.2h1.30M104.8 147.4h1.30M105.7 147.2h1.30M100.2 147.9h1.30M99.7 147.3h1.30M97.8 147.8h1.30M102.8 147.4h1.30M302.6 147.7h1.30M302.4 147.5h1.30M303.7 147.7h1.30M295.0 147.3h1.30M299.1 147.7h1.30M306.4 147.2h1.30M294.1 147.2h1.30M300.4 147.4h1.30M296.1 148.1h1.30M304.4 147.2h1.30M294.2 148.1h1.30M304.0 147.3h1.30M298.7 147.9h1.30M299.5 147.5h1.30M301.9 147.9h1.30M299.1 147.8h1.30M299.9 147.5h1.30M296.5 147.9h1.30M303.1 147.4h1.30M292.0 148.1h1.30M305.1 147.1h1.30M299.6 147.5h1.30M300.4 147.8h1.30M298.5 147.4h1.30M297.8 147.3h1.30M477.5 148.0h1.30M483.1 147.6h1.30M485.2 147.2h1.30M484.2 147.8h1.30M486.4 148.0h1.30M482.1 147.7h1.30M478.7 147.2h1.30M482.4 148.0h1.30M480.4 148.1h1.30M484.2 148.0h1.30M479.9 147.3h1.30M485.2 147.7h1.30M481.3 147.3h1.30M484.6 148.1h1.30M479.2 147.9h1.30M489.4 147.3h1.30M489.3 147.1h1.30M480.3 148.2h1.30M486.6 147.2h1.30M480.2 147.6h1.30M482.9 147.2h1.30M481.6 148.0h1.30M483.8 147.7h1.30M478.5 148.1h1.30M482.8 147.1h1.30M483.5 147.4h1.30M483.7 147.9h1.30M480.1 147.6h1.30M111.1 231.4h1.30M114.3 231.9h1.30M115.0 231.5h1.30M108.3 231.3h1.30M111.4 231.8h1.30M114.2 231.1h1.30M111.2 232.1h1.30M116.7 231.4h1.30M113.0 232.0h1.30M109.4 232.0h1.30M114.6 231.8h1.30M114.3 231.9h1.30M109.3 231.2h1.30M112.0 232.2h1.30M113.5 231.4h1.30M109.5 231.2h1.30M115.4 231.1h1.30M113.8 232.0h1.30M114.7 232.0h1.30M113.0 231.8h1.30M115.8 231.5h1.30M110.8 231.2h1.30M294.0 232.1h1.30M297.5 231.8h1.30M294.9 231.4h1.30M296.6 231.9h1.30M300.4 231.5h1.30M291.9 231.7h1.30M296.8 231.0h1.30M294.6 231.4h1.30M289.1 231.7h1.30M295.5 232.1h1.30M296.4 232.1h1.30M289.0 231.8h1.30M289.9 231.9h1.30M295.6 231.2h1.30M297.8 231.3h1.30M297.4 232.1h1.30M292.3 231.5h1.30M291.9 231.6h1.30M299.8 231.5h1.30M298.4 232.1h1.30M291.7 231.6h1.30M299.0 231.7h1.30M290.5 231.6h1.30M292.5 231.1h1.30M292.3 231.8h1.30M300.3 231.3h1.30M478.0 231.5h1.30M472.3 231.8h1.30M477.2 231.7h1.30M472.7 232.0h1.30M474.7 232.0h1.30M472.6 231.1h1.30M470.6 231.2h1.30M473.5 232.0h1.30M478.7 231.1h1.30M473.6 232.0h1.30M476.2 232.1h1.30M476.5 231.6h1.30M477.1 232.1h1.30M478.9 231.4h1.30M476.6 231.2h1.30M471.4 231.2h1.30M471.4 232.1h1.30M470.5 231.5h1.30M472.3 231.7h1.30M477.8 231.3h1.30M473.5 232.0h1.30M477.8 232.0h1.30M475.8 231.1h1.30"/><path stroke="#ff4322" stroke-width="1.60" d="M269.2 147.5h1.60M44.4 231.1h1.60M53.5 231.7h1.60M47.2 231.5h1.60M49.2 232.0h1.60M244.8 231.8h1.60"/><path stroke="#ff542a" stroke-width="1.30" d="M122.2 63.0h1.30M120.8 62.9h1.30M122.3 62.4h1.30M130.0 62.9h1.30M132.2 62.5h1.30M115.2 63.0h1.30M114.0 62.9h1.30M113.0 62.5h1.30M124.7 63.0h1.30M123.0 62.7h1.30M128.4 62.7h1.30M119.6 63.0h1.30M123.7 62.3h1.30M125.3 62.1h1.30M122.7 62.3h1.30M131.9 62.4h1.30M113.4 62.6h1.30M124.9 62.7h1.30M125.9 62.5h1.30M127.1 62.6h1.30M123.7 62.8h1.30M122.1 63.0h1.30M123.4 62.7h1.30M121.2 62.6h1.30M119.0 63.1h1.30M109.2 63.0h1.30M123.8 62.3h1.30M129.6 62.1h1.30M129.8 62.8h1.30M132.7 62.1h1.30M119.1 62.4h1.30M126.4 62.6h1.30M127.1 63.1h1.30M124.4 63.1h1.30M117.1 62.8h1.30M129.5 63.0h1.30M132.2 62.2h1.30M129.6 62.1h1.30M113.7 62.7h1.30M126.6 62.5h1.30M131.5 62.2h1.30M121.6 62.8h1.30M116.8 63.0h1.30M115.4 62.8h1.30M130.8 62.8h1.30M117.4 62.4h1.30M118.0 62.3h1.30M120.3 62.4h1.30M127.1 63.1h1.30M120.1 62.0h1.30M117.3 62.5h1.30M299.8 62.8h1.30M295.2 62.2h1.30M292.1 62.4h1.30M291.2 62.3h1.30M285.8 63.0h1.30M300.3 62.0h1.30M291.2 62.3h1.30M298.0 62.3h1.30M289.5 63.1h1.30M289.6 62.8h1.30M298.8 62.8h1.30M288.7 62.4h1.30M289.1 62.5h1.30M298.2 63.0h1.30M298.4 62.9h1.30M299.2 62.4h1.30M295.7 62.3h1.30M292.7 62.7h1.30M294.6 62.9h1.30M290.9 62.1h1.30M296.6 62.2h1.30M298.0 62.2h1.30M292.8 62.8h1.30M296.1 62.3h1.30M297.6 62.5h1.30M292.8 62.1h1.30M287.5 63.0h1.30M287.9 62.9h1.30M481.3 62.9h1.30M476.5 63.1h1.30M486.5 62.8h1.30M475.0 62.9h1.30M481.5 62.5h1.30M482.6 62.3h1.30M488.0 62.3h1.30M486.9 62.5h1.30M485.1 62.8h1.30M476.7 62.8h1.30M480.2 62.7h1.30M482.2 62.4h1.30M480.1 62.4h1.30M479.7 62.7h1.30M482.0 62.4h1.30M478.9 62.7h1.30M475.8 62.8h1.30M481.6 62.9h1.30M487.5 62.1h1.30M483.0 62.3h1.30M486.1 62.9h1.30M479.0 62.5h1.30M478.7 62.9h1.30M110.9 146.6h1.30M110.8 146.8h1.30M103.8 146.1h1.30M108.7 146.9h1.30M106.5 146.9h1.30M108.0 146.8h1.30M110.7 146.0h1.30M108.8 146.3h1.30M102.1 146.5h1.30M110.2 146.5h1.30M100.3 146.9h1.30M100.4 146.2h1.30M106.0 146.4h1.30M109.0 146.3h1.30M103.4 146.0h1.30M100.0 146.6h1.30M110.8 146.1h1.30M103.7 146.5h1.30M102.2 146.8h1.30M107.6 146.7h1.30M107.9 147.0h1.30M104.8 147.0h1.30M100.5 146.9h1.30M104.5 146.6h1.30M105.4 146.4h1.30M105.6 146.8h1.30M97.9 147.0h1.30M109.4 146.2h1.30M106.8 146.7h1.30M304.6 147.0h1.30M299.1 146.3h1.30M298.3 146.6h1.30M296.2 146.8h1.30M308.1 146.0h1.30M300.2 146.6h1.30M301.8 146.4h1.30M301.8 146.2h1.30M298.2 146.3h1.30M296.8 146.3h1.30M300.8 147.0h1.30M309.0 146.2h1.30M302.3 147.0h1.30M300.2 146.1h1.30M304.4 146.8h1.30M299.0 146.3h1.30M304.3 146.3h1.30M294.4 147.0h1.30M303.0 146.5h1.30M296.9 146.8h1.30M298.2 146.9h1.30M305.2 146.7h1.30M299.9 146.7h1.30M306.5 146.6h1.30M298.0 146.3h1.30M310.1 146.4h1.30M299.7 146.1h1.30M304.6 146.5h1.30M297.6 146.1h1.30M486.9 146.8h1.30M488.0 146.4h1.30M486.7 146.1h1.30M487.7 147.0h1.30M492.8 146.1h1.30M483.2 146.4h1.30M489.5 146.8h1.30M487.1 146.9h1.30M487.9 146.0h1.30M485.0 146.7h1.30M491.2 146.9h1.30M492.1 146.6h1.30M485.5 146.6h1.30M488.9 146.3h1.30M485.2 146.2h1.30M481.3 147.0h1.30M485.8 146.1h1.30M486.6 146.2h1.30M484.4 146.5h1.30M488.8 146.3h1.30M489.0 146.1h1.30M487.7 146.5h1.30M485.4 146.7h1.30M489.8 146.1h1.30M490.7 146.5h1.30M118.3 230.2h1.30M116.2 230.1h1.30M109.3 230.4h1.30M116.2 230.2h1.30M117.4 230.8h1.30M113.3 230.8h1.30M114.6 230.8h1.30M115.2 230.5h1.30M119.7 230.1h1.30M111.3 230.3h1.30M113.8 230.3h1.30M114.0 229.9h1.30M117.5 230.6h1.30M110.1 230.5h1.30M111.0 230.4h1.30M110.7 230.5h1.30M109.7 230.2h1.30M109.5 230.4h1.30M293.4 230.7h1.30M298.5 230.6h1.30M294.2 230.3h1.30M296.3 230.7h1.30M302.3 230.0h1.30M294.0 230.3h1.30M297.1 230.0h1.30M294.7 230.9h1.30M292.1 230.9h1.30M291.3 230.5h1.30M291.9 230.2h1.30M304.0 230.2h1.30M302.1 230.6h1.30M293.5 230.4h1.30M295.0 230.1h1.30M296.6 230.4h1.30M291.7 230.7h1.30M291.9 230.8h1.30M294.8 230.9h1.30M302.8 230.1h1.30M301.0 230.2h1.30M304.3 230.0h1.30M304.3 230.1h1.30M292.9 230.9h1.30M479.6 230.6h1.30M480.8 230.2h1.30M473.5 230.9h1.30M476.1 230.0h1.30M473.9 230.2h1.30M477.2 230.2h1.30M472.4 230.2h1.30M477.3 230.0h1.30M474.0 230.0h1.30M480.6 230.7h1.30M481.5 230.1h1.30M475.2 230.1h1.30M474.2 230.7h1.30M473.4 230.1h1.30M475.1 230.6h1.30M477.4 230.5h1.30"/><path stroke="#ff542a" stroke-width="1.60" d="M237.9 146.5h1.60M236.6 146.2h1.60M267.9 146.2h1.60M42.5 230.2h1.60M46.2 231.0h1.60M48.2 231.0h1.60M42.7 231.0h1.60M52.2 231.0h1.60M243.0 230.9h1.60"/><path stroke="#ff6433" stroke-width="1.30" d="M124.6 61.0h1.30M122.9 61.7h1.30M117.1 61.7h1.30M135.0 62.0h1.30M134.0 62.0h1.30M121.8 61.8h1.30M135.7 61.4h1.30M126.5 61.6h1.30M136.6 61.2h1.30M123.4 61.1h1.30M124.6 61.0h1.30M137.0 61.2h1.30M119.2 61.9h1.30M133.1 61.8h1.30M130.5 61.3h1.30M133.8 61.7h1.30M131.6 61.0h1.30M129.4 61.9h1.30M120.4 61.7h1.30M128.2 62.0h1.30M119.2 61.7h1.30M117.8 61.4h1.30M121.8 61.7h1.30M131.6 61.6h1.30M133.5 61.6h1.30M129.5 61.3h1.30M116.1 61.8h1.30M131.3 61.7h1.30M121.6 61.4h1.30M125.5 61.8h1.30M130.6 62.0h1.30M121.6 61.4h1.30M127.4 61.5h1.30M129.2 61.7h1.30M132.5 61.6h1.30M131.9 61.6h1.30M131.8 61.8h1.30M125.2 61.3h1.30M133.7 61.2h1.30M120.8 61.5h1.30M124.5 61.8h1.30M127.7 61.7h1.30M123.5 61.2h1.30M125.0 61.2h1.30M128.8 61.7h1.30M296.2 61.1h1.30M295.1 62.0h1.30M297.5 61.1h1.30M291.4 61.7h1.30M291.1 61.6h1.30M298.0 61.1h1.30M289.0 62.0h1.30M294.4 61.0h1.30M300.0 61.7h1.30M293.0 61.3h1.30M299.7 61.0h1.30M296.7 61.5h1.30M304.1 60.9h1.30M293.9 61.8h1.30M299.7 61.7h1.30M301.4 61.5h1.30M294.9 62.0h1.30M302.1 61.5h1.30M293.2 61.1h1.30M294.2 61.8h1.30M294.9 61.2h1.30M293.9 61.8h1.30M297.0 61.9h1.30M299.0 61.9h1.30M303.1 61.4h1.30M297.5 61.0h1.30M299.1 60.9h1.30M295.4 61.8h1.30M298.8 61.1h1.30M303.6 61.0h1.30M294.3 62.0h1.30M292.5 61.6h1.30M297.0 61.1h1.30M302.6 61.3h1.30M482.0 62.0h1.30M488.6 60.9h1.30M479.3 61.3h1.30M489.1 61.0h1.30M481.3 61.6h1.30M485.7 61.0h1.30M487.8 61.2h1.30M481.1 61.6h1.30M482.2 61.3h1.30M487.5 61.7h1.30M484.5 61.4h1.30M488.3 61.7h1.30M486.4 61.4h1.30M484.8 61.9h1.30M486.4 61.0h1.30M483.7 61.2h1.30M480.2 61.9h1.30M479.1 61.7h1.30M488.5 61.5h1.30M483.3 61.3h1.30M484.9 60.9h1.30M486.5 62.0h1.30M103.9 145.7h1.30M111.8 145.4h1.30M104.3 145.8h1.30M109.2 145.8h1.30M111.5 145.0h1.30M111.1 145.9h1.30M111.2 145.7h1.30M105.8 145.3h1.30M104.4 145.7h1.30M108.1 145.7h1.30M113.7 145.6h1.30M107.0 144.9h1.30M112.2 145.8h1.30M110.9 145.9h1.30M112.8 145.6h1.30M112.0 144.9h1.30M109.4 145.0h1.30M108.4 145.9h1.30M114.8 145.3h1.30M109.2 145.0h1.30M107.5 145.8h1.30M307.3 145.5h1.30M305.4 145.1h1.30M304.9 145.4h1.30M304.4 145.4h1.30M307.0 144.9h1.30M312.2 145.3h1.30M302.6 145.3h1.30M308.4 145.9h1.30M303.6 144.9h1.30M306.5 145.3h1.30M306.6 145.2h1.30M300.1 145.5h1.30M297.5 145.7h1.30M300.7 145.6h1.30M305.7 145.1h1.30M301.0 145.8h1.30M302.6 145.2h1.30M303.2 145.0h1.30M297.3 145.8h1.30M309.8 145.2h1.30M299.4 145.9h1.30M307.3 145.6h1.30M300.6 145.4h1.30M309.4 145.7h1.30M313.4 145.2h1.30M298.9 146.0h1.30M305.2 145.0h1.30M298.4 145.9h1.30M299.9 145.6h1.30M306.6 145.6h1.30M303.2 145.6h1.30M485.0 144.9h1.30M483.5 145.2h1.30M488.7 146.0h1.30M493.7 145.5h1.30M491.1 145.2h1.30M488.5 145.5h1.30M481.7 145.7h1.30M492.5 145.1h1.30M485.8 145.4h1.30M490.3 145.3h1.30M494.0 145.5h1.30M483.7 145.5h1.30M488.2 145.6h1.30M494.0 145.5h1.30M492.5 145.1h1.30M486.9 145.8h1.30M486.0 145.0h1.30M484.2 145.6h1.30M485.2 145.6h1.30M113.5 229.3h1.30M113.7 228.9h1.30M112.3 229.4h1.30M114.0 229.5h1.30M111.7 229.4h1.30M110.1 229.5h1.30M115.2 228.8h1.30M118.4 229.0h1.30M113.0 229.2h1.30M120.6 229.3h1.30M115.8 229.7h1.30M121.8 229.1h1.30M116.2 229.7h1.30M118.0 229.9h1.30M296.9 229.0h1.30M305.9 229.4h1.30M294.5 229.5h1.30M296.4 229.8h1.30M293.9 229.1h1.30M304.4 229.8h1.30M302.0 229.7h1.30M301.3 229.9h1.30M296.4 229.6h1.30M296.6 228.9h1.30M297.5 229.1h1.30M293.0 229.9h1.30M296.7 228.8h1.30M306.1 229.4h1.30M303.7 229.0h1.30M295.1 228.8h1.30M306.8 229.1h1.30M300.0 229.2h1.30M302.5 229.5h1.30M302.1 229.7h1.30M303.6 229.6h1.30M296.9 229.2h1.30M304.1 229.0h1.30M295.8 229.8h1.30M297.3 229.6h1.30M297.0 228.9h1.30M297.2 229.5h1.30M302.5 229.3h1.30M297.9 229.5h1.30M299.2 229.2h1.30M302.1 229.1h1.30M296.2 229.4h1.30M300.8 229.4h1.30M296.5 229.3h1.30M298.0 229.4h1.30M473.6 229.2h1.30M481.9 229.3h1.30M481.9 229.4h1.30M481.3 229.2h1.30M474.5 228.9h1.30M473.7 229.8h1.30M479.7 229.1h1.30M480.9 229.8h1.30M480.8 229.4h1.30M480.9 229.6h1.30M475.4 229.3h1.30M478.4 228.9h1.30M479.1 228.9h1.30M477.7 229.4h1.30M478.4 229.5h1.30M476.7 228.8h1.30M475.6 229.8h1.30"/><path stroke="#ff6433" stroke-width="1.60" d="M79.7 61.8h1.60M449.0 61.0h1.60M232.4 145.5h1.60M241.2 145.0h1.60M31.7 229.2h1.60M42.7 229.0h1.60M239.4 229.1h1.60M446.2 228.8h1.60"/><path stroke="#ff733b" stroke-width="1.30" d="M125.0 60.2h1.30M136.4 60.2h1.30M123.7 60.3h1.30M123.2 60.4h1.30M125.2 60.8h1.30M129.5 60.1h1.30M129.4 60.5h1.30M124.7 60.8h1.30M125.0 60.8h1.30M126.0 60.8h1.30M123.6 60.3h1.30M134.8 60.2h1.30M124.4 60.7h1.30M138.1 60.7h1.30M137.6 60.1h1.30M124.7 60.7h1.30M131.1 60.3h1.30M137.4 60.3h1.30M139.5 60.3h1.30M127.4 60.5h1.30M125.4 60.7h1.30M130.0 60.5h1.30M129.1 60.8h1.30M126.2 60.6h1.30M128.4 60.5h1.30M309.8 60.1h1.30M304.9 60.7h1.30M299.6 60.8h1.30M303.1 60.3h1.30M301.3 60.8h1.30M299.1 60.8h1.30M299.1 60.3h1.30M300.1 60.1h1.30M304.2 60.8h1.30M296.6 60.7h1.30M304.0 60.5h1.30M300.4 60.2h1.30M303.4 60.6h1.30M295.2 60.2h1.30M299.1 60.5h1.30M488.0 60.6h1.30M482.8 60.1h1.30M490.5 60.5h1.30M487.1 60.6h1.30M488.8 60.8h1.30M484.4 60.6h1.30M481.3 60.8h1.30M489.7 60.2h1.30M483.5 60.3h1.30M484.8 60.3h1.30M489.0 60.1h1.30M487.1 60.4h1.30M114.8 144.2h1.30M106.2 144.3h1.30M111.1 144.6h1.30M110.9 144.6h1.30M116.3 144.7h1.30M105.6 144.8h1.30M109.8 144.7h1.30M106.6 144.8h1.30M110.0 144.8h1.30M312.3 144.1h1.30M301.4 144.3h1.30M311.4 144.3h1.30M303.7 144.1h1.30M306.2 144.3h1.30M305.5 144.6h1.30M304.6 144.8h1.30M303.0 144.8h1.30M305.4 144.4h1.30M302.9 144.8h1.30M309.9 144.2h1.30M308.6 144.4h1.30M308.1 144.8h1.30M308.9 144.4h1.30M300.1 144.5h1.30M305.2 144.8h1.30M312.8 144.7h1.30M313.7 144.8h1.30M310.1 144.7h1.30M492.1 144.1h1.30M495.3 144.3h1.30M494.6 144.2h1.30M485.4 144.5h1.30M487.8 144.5h1.30M487.4 144.2h1.30M492.8 144.1h1.30M489.4 144.7h1.30M491.7 144.0h1.30M490.6 144.5h1.30M488.2 144.1h1.30M497.5 144.1h1.30M495.5 144.8h1.30M493.5 144.7h1.30M488.3 144.8h1.30M487.5 144.5h1.30M491.2 144.7h1.30M118.8 228.0h1.30M115.0 228.5h1.30M115.8 228.4h1.30M112.5 228.2h1.30M114.5 228.2h1.30M122.4 228.6h1.30M119.2 228.8h1.30M113.6 228.3h1.30M122.8 228.1h1.30M115.4 228.2h1.30M113.2 228.2h1.30M112.9 228.5h1.30M115.9 228.3h1.30M120.5 228.4h1.30M115.1 228.2h1.30M117.5 228.4h1.30M112.9 228.6h1.30M116.6 228.6h1.30M301.0 228.5h1.30M301.4 228.6h1.30M296.4 228.4h1.30M300.1 228.0h1.30M299.7 228.0h1.30M301.5 228.6h1.30M302.7 228.6h1.30M295.1 228.1h1.30M300.1 228.5h1.30M302.0 228.8h1.30M300.9 228.2h1.30M296.2 228.1h1.30M297.7 228.2h1.30M306.1 228.3h1.30M297.3 228.5h1.30M305.3 228.8h1.30M304.1 228.7h1.30M302.1 228.1h1.30M300.5 228.4h1.30M479.4 228.2h1.30M482.6 228.7h1.30M477.5 228.8h1.30M476.3 228.7h1.30M477.0 228.3h1.30M477.0 228.2h1.30M483.6 228.1h1.30M475.7 228.6h1.30M482.1 228.4h1.30M479.0 228.1h1.30M483.0 228.2h1.30M479.1 228.3h1.30M477.2 228.3h1.30M482.5 228.5h1.30M483.1 228.5h1.30M480.8 228.2h1.30"/><path stroke="#ff733b" stroke-width="1.60" d="M259.3 144.8h1.60M438.2 144.8h1.60M445.2 144.8h1.60M450.8 144.5h1.60M37.2 228.0h1.60M230.3 228.2h1.60M226.7 228.2h1.60M241.2 228.2h1.60"/><path stroke="#ff8243" stroke-width="1.30" d="M139.2 59.5h1.30M134.3 59.8h1.30M132.7 59.4h1.30M133.0 60.0h1.30M127.5 59.6h1.30M129.8 59.5h1.30M133.5 59.5h1.30M130.2 60.0h1.30M132.0 59.4h1.30M135.5 59.8h1.30M132.1 59.7h1.30M135.9 59.6h1.30M129.0 59.7h1.30M130.2 59.4h1.30M130.3 59.7h1.30M133.8 59.6h1.30M142.5 59.3h1.30M142.0 59.5h1.30M141.0 59.4h1.30M139.7 60.0h1.30M135.5 59.9h1.30M136.4 59.3h1.30M131.5 59.6h1.30M133.8 60.1h1.30M134.5 59.7h1.30M129.8 59.7h1.30M132.3 59.6h1.30M128.6 59.7h1.30M301.5 59.9h1.30M298.4 59.5h1.30M300.8 59.9h1.30M307.7 59.8h1.30M297.7 60.0h1.30M302.0 59.3h1.30M304.3 59.2h1.30M308.2 59.6h1.30M305.4 60.0h1.30M298.0 59.3h1.30M304.0 59.5h1.30M490.3 59.5h1.30M482.3 60.0h1.30M490.5 60.0h1.30M487.0 59.3h1.30M485.7 59.3h1.30M492.7 59.5h1.30M490.4 60.0h1.30M492.1 60.0h1.30M488.3 59.9h1.30M485.8 59.5h1.30M490.0 59.9h1.30M490.0 59.9h1.30M487.6 59.8h1.30M485.5 59.5h1.30M491.6 59.7h1.30M486.8 59.7h1.30M484.0 59.6h1.30M484.1 59.3h1.30M490.5 59.6h1.30M486.2 59.6h1.30M492.3 59.4h1.30M491.2 60.0h1.30M486.3 60.0h1.30M488.7 59.4h1.30M485.8 59.7h1.30M488.4 59.7h1.30M483.8 59.6h1.30M114.4 143.5h1.30M111.9 143.6h1.30M115.3 143.7h1.30M111.6 143.2h1.30M110.1 143.6h1.30M110.6 143.6h1.30M110.8 143.9h1.30M110.1 143.3h1.30M111.1 143.3h1.30M112.0 144.0h1.30M110.3 143.7h1.30M114.2 143.9h1.30M113.6 143.7h1.30M314.4 143.8h1.30M301.9 143.8h1.30M306.1 143.5h1.30M314.7 144.0h1.30M307.7 143.5h1.30M305.7 144.0h1.30M303.3 143.3h1.30M304.2 143.9h1.30M307.8 143.8h1.30M302.9 143.8h1.30M304.9 143.4h1.30M312.9 143.9h1.30M313.7 143.6h1.30M492.7 143.6h1.30M488.8 143.5h1.30M497.4 143.8h1.30M486.8 143.5h1.30M498.7 143.3h1.30M494.4 143.6h1.30M491.5 143.3h1.30M492.2 143.4h1.30M498.4 143.5h1.30M487.4 144.0h1.30M488.3 143.3h1.30M488.7 143.5h1.30M487.3 143.4h1.30M495.4 143.9h1.30M498.0 143.8h1.30M496.5 143.9h1.30M494.8 143.5h1.30M486.3 143.9h1.30M123.1 227.9h1.30M116.3 227.3h1.30M115.5 227.9h1.30M124.1 227.5h1.30M113.6 227.9h1.30M117.7 227.5h1.30M121.2 227.7h1.30M112.3 227.5h1.30M115.8 227.9h1.30M117.7 227.5h1.30M124.5 227.6h1.30M117.5 227.6h1.30M116.0 227.4h1.30M123.1 227.9h1.30M113.6 227.3h1.30M120.2 227.4h1.30M120.4 227.3h1.30M119.9 227.2h1.30M116.7 227.7h1.30M307.4 227.5h1.30M301.4 227.6h1.30M308.7 227.4h1.30M307.2 227.3h1.30M307.8 227.4h1.30M299.7 227.9h1.30M308.8 227.5h1.30M299.0 227.9h1.30M307.2 227.4h1.30M304.8 227.9h1.30M304.7 227.5h1.30M305.1 227.2h1.30M298.0 227.4h1.30M306.8 227.5h1.30M301.6 227.9h1.30M307.8 227.2h1.30M305.0 227.2h1.30M302.3 227.6h1.30M300.3 227.3h1.30M484.1 227.5h1.30M484.9 227.8h1.30M481.7 227.3h1.30M483.2 227.2h1.30M485.5 227.5h1.30M478.5 227.6h1.30M478.2 227.8h1.30M477.4 227.8h1.30M479.0 227.9h1.30M483.4 227.2h1.30M483.6 227.2h1.30M477.1 227.5h1.30M476.7 227.9h1.30"/><path stroke="#ff8243" stroke-width="1.60" d="M226.8 143.6h1.60M256.5 143.4h1.60M430.3 144.0h1.60M433.4 143.2h1.60M435.0 144.0h1.60M19.7 227.3h1.60M37.8 227.3h1.60M444.8 227.4h1.60M447.6 227.4h1.60"/><path stroke="#ff904c" stroke-width="1.30" d="M139.1 58.6h1.30M130.2 59.2h1.30M141.3 58.9h1.30M133.6 59.1h1.30M132.0 59.2h1.30M138.1 58.9h1.30M138.2 58.5h1.30M133.8 59.1h1.30M129.1 59.2h1.30M137.8 58.5h1.30M139.7 58.6h1.30M137.3 58.6h1.30M134.2 59.2h1.30M134.7 58.7h1.30M137.9 58.9h1.30M133.4 58.5h1.30M138.3 58.8h1.30M299.9 58.8h1.30M303.1 58.6h1.30M299.6 58.6h1.30M308.7 58.7h1.30M297.7 59.2h1.30M301.8 58.6h1.30M305.3 58.8h1.30M308.2 59.0h1.30M300.2 58.6h1.30M308.2 59.2h1.30M300.0 59.1h1.30M307.2 59.2h1.30M305.7 58.5h1.30M299.4 59.0h1.30M309.2 58.6h1.30M307.2 59.1h1.30M298.4 59.1h1.30M305.5 59.2h1.30M487.3 58.8h1.30M487.1 58.9h1.30M490.5 58.9h1.30M495.1 58.7h1.30M493.1 58.7h1.30M489.4 59.2h1.30M487.1 58.6h1.30M487.9 58.5h1.30M485.6 59.1h1.30M487.9 58.9h1.30M484.7 59.1h1.30M487.5 58.8h1.30M494.7 59.2h1.30M486.3 59.2h1.30M120.8 142.4h1.30M114.8 142.9h1.30M116.0 142.7h1.30M120.2 142.7h1.30M114.3 142.4h1.30M116.6 142.5h1.30M114.6 142.6h1.30M112.3 142.8h1.30M115.7 142.4h1.30M111.8 142.5h1.30M116.0 142.9h1.30M117.7 142.9h1.30M111.7 142.9h1.30M114.2 142.8h1.30M115.8 142.5h1.30M119.6 142.9h1.30M120.5 142.5h1.30M116.3 142.4h1.30M309.6 142.7h1.30M306.9 142.7h1.30M311.8 142.8h1.30M307.3 142.8h1.30M314.3 142.9h1.30M313.3 142.9h1.30M307.7 142.4h1.30M307.4 143.1h1.30M305.7 142.9h1.30M313.9 142.8h1.30M310.5 142.4h1.30M306.9 143.2h1.30M304.3 142.7h1.30M305.7 142.6h1.30M315.2 142.5h1.30M306.2 143.0h1.30M316.6 142.5h1.30M305.1 143.2h1.30M488.8 142.5h1.30M489.5 142.7h1.30M495.8 143.0h1.30M488.9 142.9h1.30M488.5 142.8h1.30M486.7 143.0h1.30M498.6 142.6h1.30M498.9 142.5h1.30M497.9 142.5h1.30M490.9 142.9h1.30M495.6 142.6h1.30M489.5 142.4h1.30M491.2 142.5h1.30M490.4 143.1h1.30M499.6 142.5h1.30M492.5 142.7h1.30M497.5 142.9h1.30M491.5 142.6h1.30M126.1 226.6h1.30M121.4 226.5h1.30M116.6 226.5h1.30M120.0 226.7h1.30M124.9 226.3h1.30M114.8 226.4h1.30M125.2 227.1h1.30M122.2 226.8h1.30M119.1 226.4h1.30M122.6 227.0h1.30M120.1 226.7h1.30M117.4 226.5h1.30M120.9 226.5h1.30M112.6 227.0h1.30M115.7 226.8h1.30M119.3 227.0h1.30M120.4 226.6h1.30M121.7 226.6h1.30M307.6 227.1h1.30M307.3 226.8h1.30M304.5 226.7h1.30M309.8 226.8h1.30M303.1 226.6h1.30M298.8 227.1h1.30M307.0 227.1h1.30M297.9 226.6h1.30M308.4 227.0h1.30M302.1 226.8h1.30M300.2 226.4h1.30M308.5 226.8h1.30M307.2 226.5h1.30M297.8 226.8h1.30M310.9 226.4h1.30M301.3 227.0h1.30M481.9 226.5h1.30M484.2 226.8h1.30M478.1 226.4h1.30M479.3 226.7h1.30M482.6 227.0h1.30M477.8 227.0h1.30M486.0 226.6h1.30M483.4 226.5h1.30M483.4 227.0h1.30M484.8 226.4h1.30M486.1 226.8h1.30M480.9 226.9h1.30"/><path stroke="#ff904c" stroke-width="1.60" d="M79.7 59.0h1.60M207.9 142.9h1.60M232.4 142.9h1.60M422.4 142.4h1.60M436.6 142.4h1.60M35.9 226.4h1.60M36.2 226.5h1.60M237.6 226.4h1.60"/><path stroke="#ff9e54" stroke-width="1.30" d="M138.7 58.0h1.30M140.5 58.4h1.30M134.8 58.0h1.30M140.2 58.1h1.30M135.9 57.9h1.30M137.2 58.2h1.30M142.8 57.7h1.30M138.4 57.9h1.30M137.1 58.3h1.30M303.9 58.1h1.30M305.0 58.3h1.30M310.0 57.7h1.30M304.4 58.2h1.30M308.5 58.3h1.30M308.4 58.1h1.30M302.3 57.7h1.30M301.2 58.1h1.30M301.5 57.9h1.30M305.9 58.3h1.30M310.9 57.7h1.30M305.9 58.4h1.30M300.7 58.1h1.30M301.6 58.3h1.30M300.6 57.9h1.30M311.7 57.8h1.30M310.3 58.0h1.30M304.9 58.2h1.30M494.2 58.0h1.30M492.8 57.8h1.30M487.5 57.8h1.30M495.1 57.7h1.30M491.1 57.8h1.30M488.4 57.7h1.30M497.6 57.9h1.30M495.3 58.4h1.30M496.8 58.4h1.30M495.3 58.3h1.30M489.0 58.1h1.30M497.2 58.0h1.30M496.6 58.0h1.30M538.6 58.0h1.30M115.7 142.2h1.30M113.8 142.0h1.30M115.6 142.1h1.30M112.0 142.3h1.30M114.1 141.8h1.30M116.8 141.9h1.30M114.0 142.3h1.30M121.8 141.6h1.30M120.4 141.8h1.30M118.8 141.9h1.30M117.6 142.1h1.30M114.1 141.7h1.30M117.6 141.7h1.30M118.7 142.2h1.30M113.6 141.8h1.30M115.8 142.3h1.30M113.7 142.0h1.30M318.8 141.9h1.30M312.8 141.6h1.30M311.4 141.9h1.30M307.3 142.0h1.30M312.0 142.2h1.30M310.4 142.1h1.30M315.5 141.9h1.30M314.7 142.3h1.30M312.1 142.3h1.30M313.8 142.0h1.30M316.4 141.9h1.30M313.4 141.9h1.30M307.6 142.2h1.30M315.2 142.1h1.30M306.4 142.3h1.30M309.1 141.6h1.30M312.2 141.8h1.30M309.7 141.6h1.30M499.0 141.6h1.30M496.5 141.6h1.30M489.1 142.0h1.30M490.5 141.7h1.30M492.1 141.9h1.30M496.3 142.0h1.30M499.2 141.8h1.30M495.8 142.1h1.30M494.9 141.7h1.30M497.8 142.3h1.30M494.2 141.6h1.30M488.7 141.9h1.30M498.5 142.2h1.30M491.4 142.3h1.30M500.9 141.7h1.30M491.2 141.9h1.30M498.5 141.7h1.30M494.4 141.8h1.30M493.9 141.8h1.30M489.1 142.0h1.30M491.8 141.8h1.30M490.5 142.3h1.30M119.9 225.9h1.30M119.1 226.0h1.30M124.0 225.8h1.30M119.0 226.2h1.30M114.5 225.7h1.30M118.4 225.9h1.30M116.7 225.7h1.30M119.1 225.9h1.30M120.6 225.8h1.30M116.1 225.9h1.30M123.3 226.0h1.30M125.2 225.8h1.30M123.9 226.2h1.30M126.4 226.0h1.30M122.1 226.2h1.30M117.9 226.3h1.30M120.4 225.6h1.30M123.6 225.8h1.30M116.2 225.8h1.30M126.1 225.9h1.30M115.5 225.6h1.30M300.0 226.2h1.30M300.8 226.1h1.30M304.2 226.0h1.30M308.2 226.1h1.30M305.9 226.2h1.30M298.5 226.2h1.30M309.8 225.8h1.30M300.6 225.7h1.30M303.6 225.5h1.30M310.4 225.6h1.30M307.8 225.8h1.30M487.3 226.3h1.30M478.8 225.9h1.30M484.7 225.8h1.30M486.7 225.6h1.30M479.9 225.6h1.30M482.3 225.7h1.30M486.4 225.8h1.30M481.4 225.7h1.30M485.8 225.9h1.30M479.9 226.2h1.30M486.1 226.0h1.30M479.6 226.3h1.30M481.7 225.7h1.30M482.4 225.6h1.30"/><path stroke="#ff9e54" stroke-width="1.60" d="M199.9 141.7h1.60M218.9 142.1h1.60M425.5 141.6h1.60M449.0 226.0h1.60"/><path stroke="#ffab5c" stroke-width="1.30" d="M139.4 57.0h1.30M146.1 57.3h1.30M146.9 57.5h1.30M138.0 56.9h1.30M139.2 57.6h1.30M154.5 57.0h1.30M136.6 57.0h1.30M139.5 56.9h1.30M151.8 56.9h1.30M142.7 57.5h1.30M146.0 57.4h1.30M148.8 57.1h1.30M144.7 57.4h1.30M137.3 57.1h1.30M308.3 57.4h1.30M308.4 57.6h1.30M311.5 57.5h1.30M306.3 57.0h1.30M308.4 57.1h1.30M304.9 57.4h1.30M308.7 56.8h1.30M304.4 56.9h1.30M301.3 57.3h1.30M308.5 57.6h1.30M306.1 57.5h1.30M305.8 57.6h1.30M302.2 57.5h1.30M303.8 57.2h1.30M312.1 57.5h1.30M313.5 56.9h1.30M302.8 57.0h1.30M308.5 57.2h1.30M354.6 57.5h1.30M499.6 56.8h1.30M492.0 57.5h1.30M487.9 57.3h1.30M491.7 57.6h1.30M487.2 57.3h1.30M492.2 57.1h1.30M494.5 56.8h1.30M491.3 57.3h1.30M495.1 57.2h1.30M489.9 57.1h1.30M495.4 57.0h1.30M489.6 57.0h1.30M495.6 57.5h1.30M494.9 57.5h1.30M493.9 57.0h1.30M113.6 140.9h1.30M117.1 141.2h1.30M116.9 141.2h1.30M120.0 141.5h1.30M113.9 140.8h1.30M116.9 140.7h1.30M118.5 141.1h1.30M114.0 141.5h1.30M122.2 141.3h1.30M116.1 141.1h1.30M120.5 141.3h1.30M118.8 140.8h1.30M117.9 141.0h1.30M169.7 141.4h1.30M311.1 141.0h1.30M311.1 141.1h1.30M313.1 141.0h1.30M312.5 141.1h1.30M308.9 141.3h1.30M315.2 141.3h1.30M312.1 141.0h1.30M313.9 141.2h1.30M312.0 141.3h1.30M313.8 140.9h1.30M317.1 141.5h1.30M318.8 140.9h1.30M314.9 140.8h1.30M317.2 141.3h1.30M312.5 141.3h1.30M311.4 140.8h1.30M354.6 141.4h1.30M498.2 140.8h1.30M501.3 140.8h1.30M497.8 141.2h1.30M493.4 140.9h1.30M491.4 141.2h1.30M498.9 141.4h1.30M491.8 141.2h1.30M491.0 141.2h1.30M498.4 141.3h1.30M493.0 140.8h1.30M490.1 140.7h1.30M490.2 141.5h1.30M491.0 141.1h1.30M500.8 140.8h1.30M492.0 140.9h1.30M497.2 140.9h1.30M126.8 225.3h1.30M125.4 225.3h1.30M121.8 225.5h1.30M123.3 225.4h1.30M117.0 224.9h1.30M117.0 225.5h1.30M123.9 224.8h1.30M125.6 225.3h1.30M126.7 225.4h1.30M126.5 225.0h1.30M114.9 224.9h1.30M116.7 224.8h1.30M119.9 225.2h1.30M122.1 225.5h1.30M126.9 224.8h1.30M117.6 224.7h1.30M170.3 225.0h1.30M312.7 225.2h1.30M299.9 224.9h1.30M299.4 225.5h1.30M299.6 224.7h1.30M304.1 224.8h1.30M311.9 224.9h1.30M303.3 225.1h1.30M311.3 225.2h1.30M308.0 225.3h1.30M302.2 225.0h1.30M303.5 225.2h1.30M303.1 225.1h1.30M308.9 225.3h1.30M307.4 224.7h1.30M311.2 224.8h1.30M302.9 225.4h1.30M309.8 224.9h1.30M300.7 225.0h1.30M303.0 225.5h1.30M304.4 225.3h1.30M308.5 225.0h1.30M303.4 225.2h1.30M307.8 225.1h1.30M302.1 225.2h1.30M312.2 225.1h1.30M305.6 224.9h1.30M311.1 225.0h1.30M311.7 225.0h1.30M354.6 225.0h1.30M487.6 225.5h1.30M483.3 225.3h1.30M483.1 224.8h1.30M479.9 224.9h1.30M483.0 224.8h1.30M486.3 225.3h1.30M480.5 225.2h1.30M485.6 224.8h1.30M483.1 224.9h1.30M485.7 225.0h1.30M482.4 225.3h1.30M485.3 225.2h1.30"/><path stroke="#ffab5c" stroke-width="1.60" d="M27.7 57.0h1.60M40.8 57.0h1.60M53.8 57.5h1.60M60.6 57.3h1.60M66.9 57.3h1.60M72.4 57.3h1.60M250.7 57.6h1.60M210.2 141.3h1.60M226.8 141.3h1.60M426.3 140.8h1.60M35.7 225.0h1.60M224.8 225.5h1.60M228.3 225.5h1.60"/><path stroke="#fcb764" stroke-width="1.30" d="M142.2 56.0h1.30M138.7 56.2h1.30M151.3 56.0h1.30M156.7 56.2h1.30M142.0 56.2h1.30M150.8 56.8h1.30M151.3 56.5h1.30M141.7 56.4h1.30M154.1 56.7h1.30M142.1 56.3h1.30M157.0 56.5h1.30M139.6 56.0h1.30M142.4 56.2h1.30M152.1 56.1h1.30M144.1 56.1h1.30M151.4 56.7h1.30M149.6 56.4h1.30M139.7 56.6h1.30M143.4 56.4h1.30M141.9 56.1h1.30M151.7 56.7h1.30M166.3 56.0h1.30M315.4 56.2h1.30M308.8 56.4h1.30M312.3 56.3h1.30M303.8 56.5h1.30M314.5 56.1h1.30M311.8 56.7h1.30M303.1 56.3h1.30M312.9 56.7h1.30M310.9 56.2h1.30M308.5 56.7h1.30M305.6 56.0h1.30M308.3 56.7h1.30M312.1 56.1h1.30M312.4 56.4h1.30M311.5 56.2h1.30M305.9 56.5h1.30M307.0 56.3h1.30M312.2 56.3h1.30M498.2 56.1h1.30M487.5 56.1h1.30M491.1 56.3h1.30M498.5 56.3h1.30M493.6 56.4h1.30M488.6 56.2h1.30M496.9 56.3h1.30M497.9 56.1h1.30M490.8 56.6h1.30M491.3 56.1h1.30M497.9 56.3h1.30M494.3 56.0h1.30M491.3 56.5h1.30M125.2 140.1h1.30M120.5 140.1h1.30M116.8 140.4h1.30M120.7 140.6h1.30M118.4 140.5h1.30M120.1 140.4h1.30M119.2 140.7h1.30M122.6 140.2h1.30M120.1 140.7h1.30M122.7 140.7h1.30M121.2 140.5h1.30M123.6 140.2h1.30M116.0 139.9h1.30M123.0 140.2h1.30M121.3 140.1h1.30M117.8 140.3h1.30M118.5 140.7h1.30M119.7 140.2h1.30M117.6 140.5h1.30M120.3 140.4h1.30M318.7 140.0h1.30M313.1 140.2h1.30M313.8 140.7h1.30M317.0 139.9h1.30M317.6 140.2h1.30M314.6 140.0h1.30M310.8 140.0h1.30M314.3 140.1h1.30M311.9 140.5h1.30M314.3 140.4h1.30M312.6 140.7h1.30M308.7 140.1h1.30M312.7 140.3h1.30M311.8 140.0h1.30M313.0 140.2h1.30M315.6 140.7h1.30M315.6 139.9h1.30M503.0 139.9h1.30M496.3 140.7h1.30M495.3 140.7h1.30M495.0 140.4h1.30M500.7 140.1h1.30M498.9 140.5h1.30M495.1 140.6h1.30M498.3 140.0h1.30M489.8 140.5h1.30M494.7 140.6h1.30M492.4 140.4h1.30M502.2 140.2h1.30M495.7 140.3h1.30M501.4 140.1h1.30M492.8 140.0h1.30M493.2 140.0h1.30M493.8 140.5h1.30M493.0 140.4h1.30M496.3 140.2h1.30M498.9 140.0h1.30M491.5 139.9h1.30M497.1 140.0h1.30M500.4 139.9h1.30M538.6 140.6h1.30M126.8 223.9h1.30M122.1 224.5h1.30M124.1 224.3h1.30M123.6 224.1h1.30M125.9 224.6h1.30M124.2 224.5h1.30M116.3 223.9h1.30M125.9 224.2h1.30M126.9 224.0h1.30M116.7 224.0h1.30M118.5 224.7h1.30M120.9 224.3h1.30M116.2 224.1h1.30M122.9 224.6h1.30M315.5 224.0h1.30M305.3 224.4h1.30M303.0 224.5h1.30M307.6 224.5h1.30M311.9 224.6h1.30M303.3 224.4h1.30M303.1 224.2h1.30M311.0 224.0h1.30M309.6 223.9h1.30M301.1 224.6h1.30M303.1 224.5h1.30M313.1 224.0h1.30M302.4 224.5h1.30M312.3 224.1h1.30M310.3 224.4h1.30M300.3 224.7h1.30M302.7 224.5h1.30M310.0 224.1h1.30M307.4 224.2h1.30M310.6 224.2h1.30M305.6 224.3h1.30M309.4 224.6h1.30M308.1 224.5h1.30M306.0 224.4h1.30M310.0 224.1h1.30M311.9 224.1h1.30M487.9 224.5h1.30M487.9 224.2h1.30M483.9 223.9h1.30M481.5 224.7h1.30M480.9 224.5h1.30M484.1 224.7h1.30M481.8 224.2h1.30M483.7 224.0h1.30M483.0 224.0h1.30M482.1 224.0h1.30M486.2 224.4h1.30M487.0 224.0h1.30M480.9 224.3h1.30"/><path stroke="#fcb764" stroke-width="1.60" d="M15.1 56.2h1.60M18.6 56.0h1.60M21.6 56.6h1.60M31.2 56.2h1.60M34.5 56.0h1.60M46.9 56.6h1.60M264.0 56.5h1.60M446.7 56.5h1.60M218.9 140.5h1.60M221.3 140.5h1.60M431.8 140.0h1.60M383.2 140.6h1.60M15.0 224.5h1.60M44.5 224.5h1.60M441.9 224.6h1.60"/><path stroke="#f1c36b" stroke-width="1.30" d="M157.7 55.3h1.30M154.2 55.1h1.30M156.0 55.3h1.30M145.0 55.6h1.30M145.4 55.9h1.30M148.2 55.6h1.30M146.3 55.5h1.30M148.5 55.6h1.30M148.4 55.2h1.30M146.0 55.3h1.30M156.4 55.6h1.30M144.3 55.8h1.30M157.7 55.5h1.30M144.8 55.3h1.30M149.0 55.8h1.30M149.9 55.5h1.30M142.1 55.2h1.30M146.8 55.3h1.30M147.9 55.5h1.30M315.6 55.6h1.30M315.0 55.8h1.30M315.0 55.8h1.30M311.8 55.4h1.30M311.2 55.3h1.30M309.2 55.5h1.30M314.5 55.4h1.30M311.1 55.8h1.30M313.1 55.7h1.30M315.2 55.7h1.30M311.8 55.8h1.30M313.8 55.6h1.30M304.8 55.7h1.30M309.6 55.2h1.30M305.8 55.6h1.30M309.7 55.7h1.30M306.2 55.2h1.30M315.0 55.1h1.30M308.8 55.3h1.30M305.6 55.6h1.30M306.9 55.4h1.30M307.6 55.6h1.30M312.2 55.9h1.30M308.5 55.9h1.30M308.8 55.2h1.30M310.4 55.3h1.30M496.5 55.3h1.30M495.8 55.3h1.30M489.0 55.1h1.30M488.1 55.5h1.30M497.6 55.9h1.30M492.8 55.8h1.30M499.1 55.8h1.30M499.1 55.3h1.30M497.1 55.5h1.30M488.9 55.2h1.30M492.8 55.3h1.30M492.7 55.7h1.30M487.9 55.4h1.30M492.1 55.8h1.30M492.9 55.6h1.30M493.4 55.9h1.30M497.6 55.5h1.30M487.6 55.7h1.30M124.4 139.4h1.30M115.5 139.8h1.30M117.4 139.4h1.30M118.0 139.1h1.30M116.1 139.6h1.30M116.2 139.2h1.30M116.2 139.4h1.30M117.5 139.4h1.30M123.6 139.6h1.30M122.0 139.8h1.30M116.1 139.4h1.30M119.4 139.5h1.30M318.4 139.3h1.30M319.7 139.4h1.30M311.1 139.7h1.30M314.2 139.7h1.30M314.6 139.8h1.30M314.5 139.1h1.30M318.3 139.4h1.30M310.1 139.2h1.30M313.2 139.2h1.30M309.6 139.4h1.30M308.3 139.8h1.30M318.5 139.3h1.30M309.8 139.4h1.30M309.3 139.5h1.30M309.3 139.1h1.30M312.5 139.8h1.30M500.8 139.6h1.30M501.6 139.3h1.30M494.6 139.7h1.30M499.2 139.3h1.30M497.3 139.8h1.30M496.6 139.9h1.30M494.3 139.7h1.30M496.9 139.2h1.30M500.3 139.1h1.30M498.3 139.2h1.30M492.7 139.1h1.30M496.2 139.4h1.30M501.5 139.3h1.30M499.2 139.8h1.30M498.1 139.5h1.30M492.1 139.4h1.30M497.0 139.1h1.30M500.6 139.1h1.30M497.9 139.5h1.30M491.6 139.3h1.30M129.6 223.6h1.30M129.5 223.4h1.30M117.2 223.4h1.30M124.8 223.7h1.30M123.1 223.7h1.30M117.0 223.1h1.30M125.7 223.8h1.30M118.7 223.3h1.30M127.2 223.2h1.30M121.5 223.8h1.30M127.9 223.0h1.30M122.4 223.5h1.30M124.2 223.8h1.30M125.1 223.1h1.30M119.8 223.8h1.30M127.3 223.7h1.30M119.1 223.0h1.30M128.6 223.3h1.30M119.0 223.4h1.30M120.6 223.7h1.30M123.5 223.3h1.30M126.8 223.8h1.30M118.8 223.2h1.30M121.6 223.8h1.30M126.3 223.8h1.30M118.1 223.6h1.30M312.0 223.2h1.30M307.5 223.4h1.30M308.1 223.0h1.30M303.9 223.3h1.30M303.7 223.4h1.30M303.3 223.3h1.30M308.7 223.8h1.30M312.4 223.3h1.30M301.0 223.5h1.30M307.8 223.1h1.30M313.3 223.1h1.30M301.6 223.8h1.30M303.5 223.4h1.30M312.9 223.3h1.30M308.7 223.0h1.30M306.2 223.4h1.30M302.0 223.5h1.30M303.8 223.7h1.30M314.3 223.6h1.30M307.1 223.7h1.30M308.1 223.7h1.30M306.7 223.7h1.30M313.5 223.1h1.30M309.3 223.8h1.30M488.9 223.5h1.30M488.6 223.5h1.30M486.5 223.3h1.30M484.7 223.6h1.30M486.2 223.3h1.30M484.6 223.6h1.30M488.5 223.5h1.30M485.9 223.1h1.30M485.9 223.4h1.30M481.3 223.8h1.30M483.0 223.3h1.30M481.2 223.8h1.30M482.1 223.4h1.30M484.4 223.7h1.30M485.2 223.6h1.30M480.7 223.1h1.30M481.1 223.5h1.30"/><path stroke="#f1c36b" stroke-width="1.60" d="M50.3 55.7h1.60M257.2 55.4h1.60M260.6 55.4h1.60M444.5 55.4h1.60M224.5 139.7h1.60M424.7 139.2h1.60M35.9 223.5h1.60M35.7 223.5h1.60M44.5 223.0h1.60M240.3 223.6h1.60M242.3 223.1h1.60M447.6 223.1h1.60"/><path stroke="#e7cd73" stroke-width="1.30" d="M140.0 54.7h1.30M161.9 55.0h1.30M156.9 54.4h1.30M146.9 54.3h1.30M162.9 54.7h1.30M143.3 54.2h1.30M156.5 54.8h1.30M146.9 54.8h1.30M149.7 54.6h1.30M150.3 54.4h1.30M149.5 55.1h1.30M143.1 54.7h1.30M140.3 54.7h1.30M157.8 54.4h1.30M140.0 54.4h1.30M160.1 54.7h1.30M152.2 54.3h1.30M139.2 55.0h1.30M152.4 55.0h1.30M144.6 54.7h1.30M157.2 55.0h1.30M157.9 54.7h1.30M147.5 54.6h1.30M145.9 54.7h1.30M162.0 54.6h1.30M158.6 54.8h1.30M158.4 54.5h1.30M155.5 54.9h1.30M148.6 54.4h1.30M139.7 54.5h1.30M150.7 54.2h1.30M157.8 54.5h1.30M137.3 54.5h1.30M315.9 54.9h1.30M309.5 54.4h1.30M310.0 55.1h1.30M312.0 54.9h1.30M311.7 54.3h1.30M308.4 54.4h1.30M309.6 54.7h1.30M304.8 55.0h1.30M315.2 55.0h1.30M302.8 54.5h1.30M304.6 54.9h1.30M308.9 54.7h1.30M307.0 54.6h1.30M304.1 54.7h1.30M307.3 54.9h1.30M306.5 54.6h1.30M307.1 54.5h1.30M312.3 55.0h1.30M314.1 54.9h1.30M313.9 54.4h1.30M306.4 54.4h1.30M315.2 54.3h1.30M489.7 54.6h1.30M494.9 54.8h1.30M497.6 55.0h1.30M498.3 54.4h1.30M499.0 54.7h1.30M489.3 54.5h1.30M490.8 54.3h1.30M499.6 54.5h1.30M492.7 55.1h1.30M491.2 54.6h1.30M499.0 55.0h1.30M500.0 54.5h1.30M492.8 54.9h1.30M498.8 54.3h1.30M500.5 54.7h1.30M487.9 54.9h1.30M123.4 138.6h1.30M122.6 138.4h1.30M116.2 138.6h1.30M122.1 138.2h1.30M121.1 138.8h1.30M116.5 138.3h1.30M121.6 138.9h1.30M121.7 139.0h1.30M122.6 138.4h1.30M118.2 138.7h1.30M119.4 138.8h1.30M117.1 138.7h1.30M120.3 138.7h1.30M117.0 138.3h1.30M118.0 138.8h1.30M121.7 139.0h1.30M121.0 138.3h1.30M117.5 138.4h1.30M320.3 138.7h1.30M316.6 138.7h1.30M312.6 138.4h1.30M309.0 138.8h1.30M311.8 138.9h1.30M319.2 138.9h1.30M319.1 138.6h1.30M316.6 138.6h1.30M320.3 139.0h1.30M309.0 138.4h1.30M312.8 138.6h1.30M318.4 138.5h1.30M318.1 138.4h1.30M309.4 138.7h1.30M316.7 138.3h1.30M317.0 138.7h1.30M311.8 138.2h1.30M308.9 138.9h1.30M310.5 138.9h1.30M315.3 138.7h1.30M312.9 138.5h1.30M319.5 139.0h1.30M500.6 138.8h1.30M500.1 138.2h1.30M496.9 138.3h1.30M496.6 138.5h1.30M492.6 138.7h1.30M495.3 138.5h1.30M496.3 139.0h1.30M503.0 138.4h1.30M497.1 138.2h1.30M496.8 138.3h1.30M491.7 139.0h1.30M496.5 138.7h1.30M492.6 138.4h1.30M502.7 138.8h1.30M121.2 222.4h1.30M118.8 222.2h1.30M122.9 222.8h1.30M128.3 222.8h1.30M124.7 222.8h1.30M120.8 222.4h1.30M117.8 222.3h1.30M124.7 222.6h1.30M118.3 222.8h1.30M127.8 222.8h1.30M126.3 222.5h1.30M116.7 222.7h1.30M124.2 222.9h1.30M120.9 222.3h1.30M312.2 222.4h1.30M314.8 222.6h1.30M315.6 222.1h1.30M310.8 222.5h1.30M305.3 222.4h1.30M311.9 222.2h1.30M307.5 222.8h1.30M312.0 222.6h1.30M315.7 222.3h1.30M315.9 222.2h1.30M306.2 222.2h1.30M307.3 222.3h1.30M312.1 222.2h1.30M312.7 222.3h1.30M301.8 222.8h1.30M312.1 222.7h1.30M307.6 222.8h1.30M315.6 222.8h1.30M312.6 222.7h1.30M302.6 222.9h1.30M490.8 222.4h1.30M488.3 222.5h1.30M487.7 222.6h1.30M483.6 222.1h1.30M486.1 222.7h1.30M481.7 223.0h1.30M486.2 222.5h1.30M480.9 222.7h1.30M485.7 222.6h1.30M485.8 222.8h1.30M484.0 222.6h1.30M482.3 222.5h1.30M488.9 222.3h1.30M487.7 222.2h1.30M482.8 222.6h1.30M486.3 222.5h1.30M482.0 222.7h1.30M487.0 222.3h1.30M484.1 222.1h1.30M482.7 222.4h1.30M483.4 222.5h1.30"/><path stroke="#e7cd73" stroke-width="1.60" d="M50.8 54.4h1.60M244.0 54.3h1.60M255.2 54.3h1.60M422.4 54.3h1.60M433.5 54.3h1.60M215.8 138.9h1.60M434.2 138.5h1.60M444.5 138.5h1.60M442.9 138.5h1.60M44.4 222.6h1.60M40.6 222.5h1.60M243.0 222.7h1.60"/><path stroke="#dcd77b" stroke-width="1.30" d="M154.7 54.0h1.30M144.6 53.5h1.30M145.9 53.6h1.30M142.5 53.8h1.30M154.9 53.6h1.30M146.0 54.0h1.30M165.6 54.0h1.30M152.9 54.1h1.30M140.6 54.1h1.30M156.9 53.8h1.30M153.0 53.4h1.30M139.4 54.2h1.30M147.0 53.8h1.30M150.2 53.5h1.30M149.0 53.9h1.30M148.9 53.5h1.30M148.9 53.4h1.30M150.2 54.1h1.30M161.9 54.2h1.30M153.1 53.7h1.30M150.2 54.0h1.30M168.3 53.5h1.30M307.9 53.4h1.30M308.6 54.1h1.30M313.6 53.4h1.30M312.0 53.9h1.30M314.4 53.9h1.30M309.2 53.4h1.30M305.1 53.9h1.30M303.7 53.5h1.30M308.4 53.6h1.30M303.8 53.9h1.30M303.8 54.1h1.30M314.1 53.8h1.30M315.6 53.6h1.30M307.6 53.9h1.30M305.8 53.8h1.30M315.2 53.9h1.30M311.6 53.9h1.30M501.3 53.6h1.30M492.8 53.7h1.30M494.7 54.1h1.30M498.9 53.9h1.30M498.1 53.4h1.30M495.9 54.2h1.30M495.9 53.8h1.30M490.1 54.0h1.30M499.8 54.0h1.30M493.6 54.2h1.30M489.8 53.6h1.30M491.0 54.0h1.30M496.2 53.6h1.30M491.1 54.2h1.30M489.0 53.7h1.30M497.6 53.5h1.30M491.9 54.1h1.30M493.7 53.5h1.30M490.5 54.2h1.30M495.4 53.5h1.30M493.0 53.4h1.30M119.6 138.0h1.30M119.1 137.3h1.30M122.4 137.7h1.30M121.1 137.5h1.30M122.8 137.4h1.30M124.1 137.6h1.30M119.5 137.8h1.30M118.4 137.9h1.30M121.7 137.6h1.30M123.3 138.0h1.30M122.2 137.9h1.30M124.4 137.7h1.30M117.9 137.5h1.30M124.8 137.4h1.30M117.3 137.6h1.30M320.6 137.8h1.30M319.9 137.7h1.30M316.5 137.5h1.30M310.9 137.9h1.30M315.2 137.9h1.30M316.2 137.4h1.30M317.2 137.9h1.30M310.6 137.9h1.30M317.4 137.6h1.30M317.2 138.0h1.30M314.8 137.7h1.30M319.3 137.8h1.30M311.0 138.2h1.30M312.7 137.5h1.30M310.7 137.9h1.30M312.8 137.4h1.30M316.2 138.0h1.30M310.3 138.0h1.30M316.5 138.1h1.30M318.8 137.5h1.30M503.2 137.7h1.30M498.3 137.5h1.30M494.6 137.8h1.30M499.5 137.9h1.30M498.7 137.4h1.30M495.5 137.6h1.30M500.2 138.1h1.30M497.5 137.4h1.30M495.2 138.1h1.30M500.5 137.9h1.30M123.5 222.0h1.30M127.3 221.7h1.30M119.2 222.1h1.30M122.2 221.8h1.30M122.3 221.5h1.30M125.1 221.5h1.30M121.7 222.1h1.30M120.4 221.4h1.30M121.4 221.7h1.30M120.9 221.8h1.30M127.3 221.6h1.30M128.8 221.9h1.30M122.7 221.8h1.30M117.0 221.9h1.30M129.4 221.9h1.30M120.0 221.4h1.30M129.0 221.6h1.30M317.1 221.3h1.30M315.6 222.0h1.30M306.6 221.8h1.30M315.1 222.0h1.30M310.4 221.9h1.30M304.6 221.7h1.30M311.7 222.0h1.30M303.7 221.5h1.30M313.2 221.6h1.30M314.4 221.8h1.30M303.4 222.1h1.30M306.9 222.1h1.30M307.4 222.1h1.30M315.7 221.9h1.30M308.2 222.0h1.30M311.2 221.3h1.30M307.6 222.1h1.30M310.0 221.3h1.30M311.2 221.7h1.30M302.2 222.0h1.30M305.2 221.8h1.30M312.7 221.9h1.30M314.8 221.9h1.30M306.5 222.0h1.30M489.3 222.1h1.30M482.1 221.4h1.30M484.1 221.4h1.30M487.9 221.8h1.30M481.4 222.1h1.30M485.8 222.0h1.30M485.3 221.4h1.30M490.1 221.8h1.30M484.3 221.8h1.30M483.5 221.5h1.30M486.2 222.1h1.30M485.8 221.5h1.30M483.9 221.5h1.30"/><path stroke="#dcd77b" stroke-width="1.60" d="M31.2 53.6h1.60M47.7 53.6h1.60M56.9 53.6h1.60M60.6 53.6h1.60M66.9 53.6h1.60M70.6 53.6h1.60M422.2 53.6h1.60M75.3 137.7h1.60M229.2 138.1h1.60M234.8 138.1h1.60M432.6 137.7h1.60M44.5 221.5h1.60M223.0 221.8h1.60M244.8 221.8h1.60M439.1 221.7h1.60"/><path stroke="#d1e082" stroke-width="1.30" d="M152.5 53.1h1.30M163.5 52.5h1.30M154.5 52.9h1.30M160.9 52.8h1.30M154.0 52.8h1.30M149.9 53.2h1.30M141.9 53.2h1.30M162.7 53.2h1.30M157.9 52.8h1.30M147.3 53.2h1.30M163.2 53.1h1.30M157.4 52.8h1.30M150.4 52.8h1.30M143.3 53.0h1.30M148.5 52.8h1.30M156.3 53.3h1.30M141.0 53.1h1.30M156.0 53.3h1.30M161.3 53.1h1.30M149.0 52.7h1.30M159.6 52.6h1.30M142.1 53.1h1.30M140.9 52.5h1.30M154.9 52.5h1.30M155.0 53.2h1.30M153.8 53.2h1.30M133.3 53.0h1.30M315.8 53.2h1.30M306.7 52.9h1.30M311.4 53.0h1.30M305.1 53.2h1.30M304.3 52.9h1.30M310.8 52.7h1.30M313.8 52.9h1.30M305.3 52.9h1.30M313.8 53.2h1.30M305.6 53.1h1.30M305.8 52.8h1.30M305.9 52.6h1.30M303.9 52.9h1.30M311.9 52.7h1.30M305.5 52.9h1.30M307.0 52.7h1.30M305.7 53.1h1.30M305.3 52.8h1.30M502.2 53.3h1.30M501.2 53.1h1.30M501.5 53.3h1.30M497.7 52.5h1.30M493.2 52.6h1.30M495.7 53.1h1.30M496.2 53.0h1.30M500.8 53.3h1.30M499.2 52.7h1.30M496.9 52.8h1.30M491.8 52.8h1.30M501.2 53.1h1.30M492.0 52.7h1.30M493.7 52.5h1.30M492.5 53.3h1.30M490.9 53.0h1.30M491.1 52.8h1.30M495.5 52.8h1.30M492.8 52.7h1.30M498.5 53.3h1.30M489.6 52.8h1.30M492.8 52.7h1.30M118.2 136.7h1.30M117.0 136.5h1.30M123.6 137.2h1.30M125.7 137.0h1.30M118.7 137.2h1.30M118.5 136.8h1.30M125.6 137.3h1.30M117.6 136.9h1.30M124.9 137.1h1.30M124.6 137.2h1.30M124.1 136.7h1.30M121.4 136.7h1.30M125.5 136.9h1.30M121.6 137.3h1.30M124.6 137.0h1.30M119.3 137.1h1.30M118.7 137.0h1.30M323.2 136.9h1.30M321.9 136.8h1.30M310.7 136.7h1.30M313.1 136.7h1.30M320.1 137.2h1.30M313.0 137.2h1.30M314.1 136.6h1.30M314.0 137.3h1.30M315.9 136.8h1.30M317.7 136.7h1.30M316.6 137.3h1.30M320.2 136.6h1.30M321.5 137.1h1.30M313.1 137.1h1.30M315.4 136.6h1.30M313.1 137.1h1.30M315.5 136.6h1.30M314.4 136.7h1.30M317.0 137.1h1.30M319.7 137.0h1.30M318.8 137.1h1.30M316.7 136.7h1.30M318.1 137.1h1.30M316.9 136.9h1.30M316.2 136.8h1.30M310.5 136.6h1.30M310.0 136.7h1.30M314.5 137.3h1.30M504.4 137.2h1.30M499.5 137.1h1.30M497.8 137.2h1.30M497.4 137.1h1.30M499.7 136.5h1.30M494.0 136.7h1.30M503.1 137.2h1.30M496.3 136.8h1.30M499.2 136.9h1.30M499.2 136.6h1.30M502.8 136.9h1.30M497.6 136.9h1.30M501.3 137.2h1.30M130.0 220.7h1.30M131.9 220.8h1.30M122.0 221.1h1.30M118.1 221.2h1.30M119.1 221.1h1.30M124.2 221.1h1.30M128.4 221.2h1.30M126.4 221.0h1.30M122.2 221.2h1.30M125.4 220.5h1.30M118.3 220.6h1.30M124.6 220.6h1.30M124.5 220.9h1.30M129.0 221.2h1.30M125.6 221.0h1.30M122.2 221.1h1.30M124.6 221.2h1.30M128.6 220.5h1.30M120.1 221.0h1.30M124.8 220.6h1.30M122.6 220.7h1.30M117.2 220.7h1.30M118.0 221.2h1.30M318.8 220.4h1.30M306.9 220.5h1.30M303.3 221.0h1.30M312.0 220.7h1.30M312.7 220.8h1.30M306.3 221.0h1.30M304.5 221.2h1.30M309.3 220.6h1.30M313.9 220.7h1.30M315.1 220.9h1.30M312.5 221.2h1.30M307.6 220.7h1.30M307.9 220.8h1.30M316.5 220.9h1.30M312.4 221.0h1.30M316.8 220.6h1.30M312.3 220.6h1.30M311.9 220.9h1.30M306.4 221.3h1.30M303.9 221.2h1.30M314.6 220.7h1.30M316.4 221.1h1.30M303.5 220.4h1.30M322.4 221.0h1.30M491.1 221.2h1.30M484.1 220.9h1.30M486.6 221.1h1.30M484.8 221.0h1.30M486.8 220.6h1.30M487.1 220.5h1.30M482.0 220.5h1.30M487.4 220.5h1.30M481.5 221.0h1.30M485.6 220.8h1.30M488.5 220.8h1.30M487.2 221.0h1.30M483.4 220.5h1.30M482.8 220.6h1.30M488.7 220.8h1.30M483.0 221.1h1.30M489.5 220.4h1.30M504.4 221.0h1.30M538.6 221.0h1.30"/><path stroke="#d1e082" stroke-width="1.60" d="M15.1 52.7h1.60M18.6 52.7h1.60M24.7 53.1h1.60M34.5 52.7h1.60M37.3 52.7h1.60M53.8 52.7h1.60M239.6 53.2h1.60M226.8 136.5h1.60M232.4 137.3h1.60M40.6 220.7h1.60M48.2 220.7h1.60M52.7 220.5h1.60M41.0 220.5h1.60M414.4 221.0h1.60M432.2 221.2h1.60"/><path stroke="#c6e789" stroke-width="1.30" d="M155.8 52.0h1.30M144.0 51.7h1.30M160.3 52.0h1.30M159.2 51.9h1.30M160.4 51.9h1.30M154.7 52.3h1.30M161.0 52.1h1.30M163.0 52.4h1.30M153.8 52.3h1.30M159.3 52.0h1.30M153.0 51.9h1.30M142.0 51.9h1.30M152.9 51.7h1.30M162.5 51.7h1.30M156.3 52.3h1.30M152.6 51.7h1.30M145.0 52.3h1.30M161.0 52.0h1.30M146.6 52.4h1.30M140.3 52.4h1.30M155.1 52.1h1.30M143.8 52.2h1.30M151.1 52.3h1.30M146.3 52.3h1.30M145.3 52.1h1.30M150.6 52.1h1.30M147.2 52.2h1.30M143.3 51.9h1.30M155.8 51.7h1.30M142.6 52.0h1.30M160.1 52.2h1.30M136.8 52.0h1.30M307.0 52.0h1.30M305.9 52.4h1.30M309.6 52.4h1.30M312.6 51.8h1.30M309.1 51.8h1.30M307.7 51.9h1.30M314.4 52.1h1.30M310.0 51.9h1.30M305.4 52.2h1.30M314.2 52.0h1.30M307.0 52.0h1.30M309.5 52.0h1.30M499.2 52.0h1.30M497.2 51.8h1.30M490.8 51.7h1.30M500.5 51.8h1.30M494.9 52.2h1.30M500.5 51.7h1.30M490.3 51.6h1.30M492.5 51.7h1.30M494.4 51.7h1.30M499.6 51.8h1.30M492.5 52.4h1.30M491.3 52.3h1.30M498.1 52.0h1.30M493.1 52.3h1.30M491.0 52.5h1.30M498.9 52.0h1.30M499.6 52.4h1.30M500.6 52.2h1.30M491.1 51.7h1.30M498.4 51.9h1.30M499.8 52.1h1.30M493.2 52.4h1.30M495.1 52.2h1.30M490.7 52.4h1.30M495.0 51.8h1.30M495.8 51.9h1.30M491.6 52.0h1.30M125.0 136.1h1.30M126.4 135.6h1.30M120.8 135.9h1.30M124.7 135.7h1.30M123.5 135.9h1.30M125.4 135.7h1.30M123.8 136.0h1.30M121.7 135.9h1.30M123.2 135.6h1.30M119.3 136.2h1.30M117.8 135.9h1.30M121.5 135.7h1.30M118.2 135.9h1.30M118.4 135.9h1.30M117.3 135.6h1.30M125.1 136.4h1.30M121.3 135.8h1.30M122.2 135.8h1.30M124.6 136.4h1.30M314.9 135.6h1.30M318.5 136.2h1.30M318.1 136.2h1.30M320.2 136.4h1.30M310.0 136.2h1.30M317.5 135.9h1.30M312.7 136.0h1.30M321.0 135.9h1.30M314.5 136.2h1.30M321.9 135.8h1.30M314.1 135.6h1.30M317.3 135.7h1.30M320.3 135.9h1.30M321.8 135.7h1.30M315.7 135.9h1.30M320.0 135.7h1.30M312.9 136.1h1.30M310.2 135.6h1.30M315.4 135.6h1.30M310.4 136.1h1.30M503.5 136.0h1.30M495.1 136.0h1.30M495.1 135.8h1.30M500.8 136.2h1.30M504.6 135.8h1.30M496.3 135.9h1.30M500.1 135.6h1.30M501.9 135.9h1.30M496.9 136.0h1.30M504.3 136.1h1.30M495.2 136.1h1.30M500.1 136.3h1.30M494.9 136.2h1.30M495.6 135.7h1.30M498.7 136.1h1.30M494.9 135.7h1.30M502.0 136.4h1.30M496.5 135.8h1.30M497.7 136.1h1.30M500.7 136.0h1.30M495.4 136.2h1.30M121.8 219.6h1.30M129.6 219.9h1.30M126.7 219.6h1.30M121.3 219.9h1.30M126.1 219.9h1.30M125.0 220.2h1.30M121.3 219.8h1.30M117.3 220.0h1.30M127.7 219.8h1.30M125.7 219.6h1.30M126.6 219.8h1.30M127.4 220.2h1.30M124.0 220.0h1.30M126.7 220.3h1.30M130.5 220.0h1.30M121.1 220.1h1.30M128.7 220.2h1.30M117.5 220.0h1.30M304.9 219.8h1.30M309.3 219.5h1.30M314.0 219.5h1.30M307.2 220.1h1.30M308.8 219.6h1.30M315.0 219.6h1.30M316.3 219.7h1.30M307.8 219.6h1.30M305.7 219.7h1.30M307.3 220.3h1.30M315.9 220.0h1.30M314.7 219.9h1.30M310.6 220.0h1.30M316.8 220.1h1.30M305.2 219.9h1.30M307.8 220.2h1.30M309.7 219.7h1.30M308.5 220.3h1.30M316.1 220.2h1.30M317.0 220.4h1.30M309.9 220.0h1.30M306.0 220.4h1.30M317.5 219.9h1.30M317.6 220.3h1.30M310.7 220.4h1.30M308.0 219.7h1.30M309.3 220.2h1.30M487.2 219.9h1.30M484.4 219.5h1.30M490.2 220.1h1.30M483.5 220.1h1.30M487.1 219.6h1.30M483.5 220.1h1.30M488.6 219.6h1.30M487.4 219.8h1.30M487.1 220.1h1.30"/><path stroke="#c6e789" stroke-width="1.60" d="M44.2 52.3h1.60M207.0 52.4h1.60M209.6 52.4h1.60M211.6 52.4h1.60M216.8 52.4h1.60M227.1 52.0h1.60M236.3 52.4h1.60M408.7 52.2h1.60M416.5 52.2h1.60M78.2 136.3h1.60M224.5 135.7h1.60M229.2 135.7h1.60M234.8 135.7h1.60M435.8 136.1h1.60M444.5 136.1h1.60M50.1 219.7h1.60M48.2 219.5h1.60"/><path stroke="#bbee90" stroke-width="1.30" d="M165.8 50.8h1.30M162.1 50.8h1.30M146.2 51.3h1.30M141.1 51.5h1.30M158.7 51.1h1.30M146.9 51.1h1.30M149.3 50.9h1.30M143.7 50.7h1.30M164.8 50.9h1.30M157.1 51.3h1.30M142.0 50.8h1.30M153.8 50.7h1.30M150.8 51.2h1.30M145.8 51.4h1.30M145.2 51.1h1.30M146.9 51.4h1.30M150.2 50.9h1.30M150.8 51.0h1.30M316.7 51.5h1.30M311.3 51.3h1.30M314.3 51.4h1.30M304.3 51.3h1.30M311.6 51.4h1.30M306.7 51.1h1.30M309.7 51.2h1.30M305.9 50.9h1.30M304.1 51.4h1.30M314.2 51.2h1.30M306.3 50.9h1.30M311.0 51.3h1.30M309.6 51.6h1.30M308.2 51.2h1.30M305.9 51.3h1.30M306.8 50.9h1.30M308.1 50.8h1.30M308.9 50.8h1.30M310.6 51.6h1.30M311.4 51.1h1.30M307.0 51.4h1.30M304.2 51.1h1.30M319.9 51.0h1.30M494.4 51.1h1.30M493.4 50.9h1.30M493.7 51.5h1.30M494.4 51.2h1.30M491.2 50.8h1.30M490.5 51.3h1.30M495.7 51.4h1.30M496.2 51.5h1.30M495.2 50.8h1.30M498.1 51.1h1.30M492.5 51.6h1.30M500.7 51.3h1.30M492.7 51.0h1.30M491.5 51.2h1.30M492.8 51.3h1.30M499.7 51.0h1.30M495.2 51.0h1.30M125.0 135.1h1.30M125.9 135.3h1.30M118.3 135.2h1.30M123.6 135.0h1.30M117.4 135.0h1.30M117.7 135.5h1.30M119.5 135.5h1.30M122.4 134.9h1.30M120.6 135.2h1.30M315.8 134.7h1.30M317.8 134.7h1.30M321.0 134.7h1.30M313.0 135.1h1.30M315.7 135.4h1.30M321.9 135.4h1.30M316.6 135.2h1.30M311.6 135.0h1.30M310.3 135.1h1.30M311.8 135.0h1.30M321.1 134.7h1.30M316.2 135.1h1.30M311.1 135.0h1.30M313.0 134.7h1.30M311.7 135.5h1.30M313.9 135.0h1.30M314.4 135.4h1.30M317.4 134.8h1.30M319.3 134.7h1.30M322.1 135.0h1.30M504.9 135.3h1.30M500.9 135.4h1.30M503.8 135.5h1.30M498.8 135.5h1.30M499.6 134.8h1.30M501.9 135.2h1.30M505.2 135.5h1.30M495.3 134.8h1.30M499.4 135.4h1.30M503.5 135.5h1.30M501.4 135.0h1.30M502.1 134.8h1.30M502.3 135.1h1.30M504.6 135.4h1.30M503.3 135.2h1.30M498.7 135.2h1.30M497.8 135.5h1.30M123.1 218.8h1.30M122.7 218.7h1.30M123.9 218.9h1.30M124.8 219.4h1.30M127.8 219.3h1.30M128.4 218.6h1.30M127.4 219.2h1.30M123.1 218.9h1.30M124.4 218.8h1.30M119.2 219.4h1.30M118.7 219.1h1.30M126.9 219.0h1.30M125.8 219.0h1.30M122.3 218.9h1.30M125.3 219.2h1.30M120.3 219.4h1.30M121.6 219.4h1.30M316.1 219.3h1.30M312.9 219.5h1.30M313.4 219.0h1.30M314.1 219.4h1.30M316.2 219.4h1.30M309.0 219.1h1.30M316.1 219.0h1.30M307.4 219.0h1.30M311.6 219.2h1.30M313.2 219.0h1.30M309.1 218.7h1.30M309.4 218.7h1.30M307.9 218.7h1.30M305.1 218.8h1.30M307.9 219.4h1.30M315.1 219.2h1.30M309.5 218.9h1.30M308.2 219.1h1.30M490.4 219.3h1.30M486.3 219.0h1.30M483.2 219.0h1.30M482.1 219.3h1.30M482.8 219.2h1.30M490.3 219.2h1.30M484.6 219.4h1.30M485.5 219.4h1.30M487.4 219.1h1.30M483.5 219.1h1.30M487.6 219.4h1.30M486.8 219.4h1.30"/><path stroke="#bbee90" stroke-width="1.60" d="M231.2 51.4h1.60M389.5 51.5h1.60M392.3 51.5h1.60M405.8 51.5h1.60M411.5 50.8h1.60M420.1 50.8h1.60M79.6 134.9h1.60M232.4 134.9h1.60M439.8 135.3h1.60M50.2 219.0h1.60M229.4 219.1h1.60"/><path stroke="#b0f497" stroke-width="1.30" d="M147.7 50.2h1.30M161.6 49.9h1.30M149.6 50.2h1.30M146.7 50.5h1.30M147.3 50.4h1.30M164.4 50.2h1.30M158.9 50.6h1.30M152.5 50.1h1.30M148.7 50.6h1.30M158.4 49.8h1.30M162.9 50.4h1.30M151.0 50.6h1.30M165.5 49.8h1.30M156.9 49.9h1.30M146.4 50.6h1.30M165.1 50.6h1.30M158.4 50.4h1.30M148.9 49.9h1.30M148.9 50.4h1.30M155.1 50.7h1.30M167.8 50.0h1.30M135.3 50.0h1.30M313.9 50.1h1.30M310.3 50.7h1.30M305.0 50.0h1.30M315.9 50.5h1.30M309.4 50.3h1.30M311.6 50.1h1.30M304.4 50.6h1.30M314.4 50.7h1.30M306.8 49.8h1.30M313.2 49.9h1.30M313.9 50.0h1.30M303.9 50.1h1.30M310.2 50.3h1.30M312.1 50.0h1.30M312.7 50.1h1.30M304.4 49.9h1.30M305.3 50.6h1.30M313.0 50.1h1.30M309.4 50.2h1.30M503.6 50.0h1.30M490.3 50.6h1.30M491.1 50.6h1.30M500.0 50.2h1.30M491.5 50.6h1.30M497.0 50.5h1.30M499.7 50.6h1.30M494.0 50.1h1.30M496.1 50.3h1.30M492.6 50.5h1.30M497.1 49.9h1.30M127.9 134.6h1.30M119.0 133.9h1.30M124.8 133.9h1.30M119.5 133.8h1.30M123.9 134.3h1.30M120.9 134.1h1.30M122.4 134.6h1.30M123.4 134.4h1.30M126.6 134.4h1.30M125.0 134.5h1.30M119.5 133.8h1.30M126.1 134.5h1.30M117.2 134.1h1.30M117.0 134.1h1.30M117.9 133.9h1.30M123.9 134.3h1.30M124.8 133.8h1.30M123.7 134.2h1.30M119.2 134.1h1.30M124.1 134.6h1.30M323.2 133.9h1.30M321.1 134.6h1.30M315.4 134.3h1.30M320.5 133.8h1.30M313.6 133.8h1.30M313.7 134.1h1.30M314.4 133.9h1.30M310.9 134.2h1.30M312.6 134.6h1.30M315.9 134.5h1.30M321.9 134.1h1.30M311.3 133.9h1.30M319.2 134.0h1.30M310.7 134.0h1.30M315.8 134.6h1.30M320.7 134.5h1.30M322.2 134.0h1.30M317.3 133.8h1.30M312.6 134.6h1.30M322.0 134.5h1.30M311.0 134.5h1.30M314.1 134.1h1.30M315.0 133.9h1.30M507.5 134.5h1.30M499.9 134.2h1.30M498.7 134.4h1.30M495.7 133.8h1.30M496.3 133.9h1.30M504.5 134.4h1.30M501.2 133.8h1.30M501.1 133.8h1.30M499.6 134.2h1.30M496.7 134.5h1.30M504.1 133.9h1.30M495.4 134.2h1.30M505.8 134.2h1.30M494.5 134.3h1.30M494.4 134.1h1.30M503.3 133.8h1.30M504.0 134.4h1.30M505.3 134.4h1.30M499.5 134.1h1.30M131.5 218.4h1.30M118.7 217.8h1.30M122.5 218.5h1.30M120.0 218.1h1.30M128.3 218.5h1.30M125.9 217.9h1.30M122.6 218.0h1.30M124.9 218.2h1.30M130.3 217.8h1.30M120.7 218.5h1.30M118.8 218.3h1.30M122.4 218.0h1.30M123.9 217.9h1.30M121.9 217.7h1.30M128.0 218.4h1.30M119.4 218.4h1.30M319.7 218.4h1.30M306.6 217.9h1.30M309.5 218.6h1.30M306.6 218.3h1.30M305.6 218.3h1.30M312.5 217.8h1.30M313.5 218.0h1.30M312.3 217.9h1.30M308.7 217.7h1.30M315.1 218.1h1.30M308.3 217.8h1.30M317.7 218.6h1.30M312.4 217.8h1.30M316.5 218.3h1.30M317.0 218.4h1.30M312.4 217.9h1.30M305.5 218.4h1.30M308.4 218.0h1.30M310.6 218.2h1.30M311.0 218.5h1.30M323.4 218.0h1.30M488.7 218.5h1.30M485.8 218.0h1.30M485.4 217.9h1.30M485.4 218.0h1.30M486.2 218.5h1.30M487.2 218.4h1.30M485.4 218.2h1.30M487.2 217.9h1.30M485.2 218.2h1.30M488.1 217.8h1.30M488.8 217.8h1.30M487.6 218.0h1.30M489.8 218.2h1.30M484.9 218.0h1.30"/><path stroke="#b0f497" stroke-width="1.60" d="M79.7 50.4h1.60M244.0 49.9h1.60M421.2 49.9h1.60M237.1 134.2h1.60M436.6 134.5h1.60M405.8 218.5h1.60M419.4 218.5h1.60"/><path stroke="#a5f89e" stroke-width="1.30" d="M146.5 49.6h1.30M163.4 49.7h1.30M150.9 49.8h1.30M161.2 49.6h1.30M165.9 49.5h1.30M155.6 49.0h1.30M162.7 49.3h1.30M143.2 49.0h1.30M154.3 49.6h1.30M149.2 48.9h1.30M166.2 48.9h1.30M156.4 49.1h1.30M163.9 49.6h1.30M159.2 48.9h1.30M157.1 49.6h1.30M150.8 49.2h1.30M143.9 49.4h1.30M142.0 49.7h1.30M149.9 48.9h1.30M155.9 49.4h1.30M165.6 49.0h1.30M160.6 49.5h1.30M160.6 48.9h1.30M150.4 49.2h1.30M140.9 49.7h1.30M155.0 49.6h1.30M146.9 49.6h1.30M317.3 49.7h1.30M312.7 49.0h1.30M314.1 49.4h1.30M307.1 49.1h1.30M313.7 49.6h1.30M303.9 49.1h1.30M313.5 49.7h1.30M307.9 49.5h1.30M307.8 49.0h1.30M305.5 48.9h1.30M304.8 49.7h1.30M304.1 49.6h1.30M309.5 49.5h1.30M312.5 49.7h1.30M305.2 49.5h1.30M304.1 49.4h1.30M305.4 49.0h1.30M311.1 49.3h1.30M303.4 49.8h1.30M311.7 48.9h1.30M307.3 49.0h1.30M316.2 49.2h1.30M313.9 49.7h1.30M493.3 49.7h1.30M499.8 49.3h1.30M494.4 48.9h1.30M497.9 49.3h1.30M497.8 49.3h1.30M492.4 49.6h1.30M496.6 49.5h1.30M494.1 49.3h1.30M492.0 49.1h1.30M493.1 49.8h1.30M500.2 49.1h1.30M490.3 49.6h1.30M499.2 48.9h1.30M497.6 49.4h1.30M498.4 49.0h1.30M498.2 49.6h1.30M494.0 49.7h1.30M490.8 49.2h1.30M492.0 49.7h1.30M500.8 48.9h1.30M127.2 132.9h1.30M126.2 133.0h1.30M122.8 133.0h1.30M125.4 132.8h1.30M120.0 132.9h1.30M119.9 133.5h1.30M126.6 133.2h1.30M123.1 133.3h1.30M117.4 132.9h1.30M123.3 133.1h1.30M121.8 133.3h1.30M125.3 133.4h1.30M124.5 133.3h1.30M127.1 133.2h1.30M324.7 133.3h1.30M319.8 133.3h1.30M316.3 133.3h1.30M318.3 132.8h1.30M316.6 133.3h1.30M311.3 133.3h1.30M315.1 133.6h1.30M311.8 133.1h1.30M315.8 133.2h1.30M312.0 133.5h1.30M313.7 133.0h1.30M312.0 132.8h1.30M323.0 133.6h1.30M314.9 133.2h1.30M316.9 133.6h1.30M320.6 133.3h1.30M319.5 133.3h1.30M314.7 133.6h1.30M310.8 133.2h1.30M316.1 133.7h1.30M319.2 133.1h1.30M311.6 133.2h1.30M320.5 133.2h1.30M320.4 132.9h1.30M311.8 133.6h1.30M313.4 133.0h1.30M311.3 133.2h1.30M318.9 133.2h1.30M505.6 133.0h1.30M501.2 133.0h1.30M496.8 133.7h1.30M501.1 133.4h1.30M506.2 133.4h1.30M505.4 133.4h1.30M502.7 133.3h1.30M498.4 133.5h1.30M506.1 133.7h1.30M500.8 133.3h1.30M500.5 133.3h1.30M503.3 133.6h1.30M501.0 133.0h1.30M497.9 133.8h1.30M506.5 133.6h1.30M503.3 133.5h1.30M499.3 133.7h1.30M496.5 133.5h1.30M498.1 133.2h1.30M504.3 133.0h1.30M498.5 133.2h1.30M506.3 133.3h1.30M497.8 133.6h1.30M124.2 217.5h1.30M120.7 217.1h1.30M130.0 217.7h1.30M127.9 217.2h1.30M118.7 217.4h1.30M126.7 217.7h1.30M121.6 217.1h1.30M124.6 217.2h1.30M131.3 217.4h1.30M127.2 217.4h1.30M128.8 217.3h1.30M119.0 216.9h1.30M128.5 216.9h1.30M119.0 217.5h1.30M119.5 217.0h1.30M119.7 217.3h1.30M125.6 217.1h1.30M126.7 217.4h1.30M319.5 217.4h1.30M311.3 217.2h1.30M307.4 217.7h1.30M311.5 217.6h1.30M315.9 217.1h1.30M312.0 217.3h1.30M305.1 217.6h1.30M307.1 217.6h1.30M314.3 217.7h1.30M315.3 217.5h1.30M308.9 217.7h1.30M312.5 217.5h1.30M308.0 217.3h1.30M306.1 217.6h1.30M315.7 217.3h1.30M309.7 217.6h1.30M483.0 217.4h1.30M487.8 217.2h1.30M483.9 216.8h1.30M487.0 216.8h1.30M483.2 217.6h1.30M489.7 217.4h1.30M490.6 217.7h1.30M481.8 217.7h1.30M487.2 217.6h1.30M488.4 217.3h1.30M487.7 216.9h1.30"/><path stroke="#a5f89e" stroke-width="1.60" d="M240.7 49.2h1.60M416.5 49.4h1.60M422.9 49.4h1.60M434.2 132.9h1.60M438.2 132.9h1.60M440.5 133.7h1.60M34.0 217.3h1.60M54.2 217.0h1.60M237.6 217.3h1.60M384.5 217.4h1.60M411.5 217.4h1.60M414.4 217.4h1.60"/><path stroke="#9bfba5" stroke-width="1.30" d="M140.9 48.1h1.30M162.5 48.8h1.30M151.5 48.4h1.30M161.3 48.1h1.30M141.2 48.5h1.30M163.1 48.8h1.30M148.8 48.6h1.30M143.5 48.4h1.30M148.9 47.9h1.30M145.2 48.3h1.30M146.8 47.9h1.30M158.3 48.4h1.30M152.2 48.2h1.30M145.0 47.9h1.30M161.9 48.0h1.30M147.9 48.6h1.30M145.0 48.4h1.30M156.7 48.6h1.30M156.8 47.9h1.30M157.1 48.0h1.30M165.8 48.5h1.30M143.3 48.8h1.30M155.4 48.8h1.30M151.4 48.6h1.30M151.1 48.2h1.30M141.6 48.5h1.30M137.8 48.0h1.30M316.7 48.1h1.30M305.0 47.9h1.30M312.0 48.0h1.30M310.9 48.4h1.30M312.8 48.0h1.30M306.7 47.9h1.30M309.4 48.1h1.30M313.0 48.1h1.30M313.9 48.5h1.30M306.9 48.5h1.30M316.1 48.2h1.30M313.8 48.5h1.30M306.9 48.1h1.30M312.1 48.2h1.30M304.3 48.3h1.30M307.5 48.5h1.30M303.7 48.7h1.30M303.7 47.9h1.30M306.9 48.1h1.30M303.2 48.2h1.30M310.3 48.6h1.30M313.6 47.9h1.30M310.1 48.7h1.30M503.4 48.1h1.30M493.2 48.6h1.30M493.0 47.9h1.30M502.6 48.8h1.30M498.3 47.9h1.30M492.6 48.7h1.30M492.7 48.7h1.30M496.7 48.6h1.30M495.2 48.7h1.30M493.4 47.9h1.30M497.5 48.1h1.30M501.2 48.5h1.30M498.1 48.8h1.30M496.3 48.2h1.30M498.0 48.8h1.30M497.4 48.8h1.30M491.7 48.2h1.30M500.3 48.7h1.30M491.6 48.5h1.30M492.6 48.8h1.30M498.1 48.3h1.30M494.4 48.8h1.30M505.9 48.0h1.30M123.2 131.9h1.30M123.3 131.9h1.30M117.7 132.7h1.30M122.8 132.7h1.30M124.5 132.6h1.30M118.3 131.9h1.30M119.4 131.8h1.30M120.1 132.6h1.30M124.4 132.3h1.30M124.2 131.8h1.30M312.5 131.8h1.30M316.8 132.8h1.30M316.8 132.5h1.30M310.5 132.3h1.30M319.1 132.2h1.30M318.6 132.6h1.30M312.4 132.0h1.30M312.7 132.0h1.30M321.5 132.5h1.30M318.6 132.3h1.30M316.4 132.1h1.30M311.6 132.2h1.30M322.2 131.9h1.30M317.3 132.7h1.30M316.4 132.1h1.30M321.2 132.8h1.30M319.8 132.2h1.30M315.5 132.4h1.30M319.6 132.0h1.30M313.9 132.1h1.30M317.2 132.5h1.30M320.2 131.9h1.30M505.1 132.2h1.30M504.7 131.9h1.30M501.3 132.6h1.30M499.7 132.5h1.30M498.5 132.7h1.30M505.5 132.5h1.30M502.5 132.6h1.30M501.4 132.3h1.30M505.4 132.2h1.30M502.3 132.4h1.30M499.4 132.2h1.30M498.8 132.5h1.30M500.3 132.4h1.30M498.9 132.7h1.30M497.3 132.0h1.30M500.1 131.9h1.30M499.7 132.1h1.30M499.4 132.4h1.30M497.6 132.0h1.30M497.8 132.2h1.30M506.1 132.0h1.30M501.2 131.8h1.30M131.6 216.1h1.30M122.9 215.9h1.30M119.4 216.6h1.30M130.1 216.2h1.30M131.0 215.9h1.30M122.7 216.3h1.30M123.5 216.1h1.30M122.6 216.3h1.30M130.1 216.2h1.30M125.3 216.7h1.30M122.8 216.4h1.30M123.0 216.6h1.30M118.9 216.1h1.30M119.9 216.7h1.30M121.0 216.7h1.30M120.4 216.6h1.30M125.7 216.6h1.30M120.7 215.8h1.30M119.9 216.5h1.30M124.6 216.2h1.30M122.6 216.1h1.30M135.3 216.0h1.30M306.1 216.0h1.30M307.3 216.2h1.30M308.1 215.9h1.30M310.6 216.3h1.30M316.9 215.8h1.30M308.8 216.1h1.30M313.6 216.6h1.30M311.5 215.9h1.30M311.2 216.1h1.30M313.5 215.8h1.30M307.6 215.8h1.30M318.4 216.0h1.30M308.8 216.6h1.30M307.4 215.9h1.30M310.2 216.7h1.30M316.5 216.6h1.30M311.4 216.6h1.30M309.4 216.3h1.30M316.8 216.4h1.30M318.1 216.1h1.30M491.5 216.2h1.30M491.8 216.7h1.30M484.5 216.2h1.30M487.5 216.4h1.30M483.9 215.9h1.30M490.7 216.4h1.30M490.6 216.7h1.30M482.9 216.5h1.30M486.8 216.2h1.30M486.3 216.2h1.30M482.7 216.2h1.30M491.1 216.4h1.30M486.5 215.8h1.30"/><path stroke="#9bfba5" stroke-width="1.60" d="M79.7 48.0h1.60M199.8 48.1h1.60M216.8 48.1h1.60M224.0 48.3h1.60M237.4 48.8h1.60M403.0 48.7h1.60M420.1 48.0h1.60M65.4 132.0h1.60M202.3 132.3h1.60M218.9 132.6h1.60M215.1 216.0h1.60M236.7 216.0h1.60M400.9 216.0h1.60M408.7 216.7h1.60"/><path stroke="#90feab" stroke-width="1.30" d="M157.8 47.3h1.30M145.3 47.5h1.30M141.4 47.6h1.30M153.0 47.2h1.30M163.5 47.1h1.30M147.6 47.1h1.30M164.7 47.4h1.30M152.0 47.5h1.30M146.8 47.1h1.30M147.9 47.1h1.30M143.5 47.8h1.30M153.0 47.7h1.30M150.1 47.3h1.30M145.8 47.2h1.30M159.7 47.4h1.30M145.7 46.9h1.30M151.4 47.2h1.30M142.7 47.2h1.30M147.2 47.0h1.30M165.5 47.5h1.30M151.9 47.0h1.30M143.3 47.4h1.30M145.1 47.0h1.30M152.2 47.1h1.30M155.0 47.8h1.30M142.6 47.5h1.30M317.1 47.2h1.30M306.1 47.2h1.30M308.0 47.3h1.30M304.7 47.9h1.30M311.2 47.8h1.30M309.5 47.2h1.30M305.7 47.2h1.30M314.4 47.5h1.30M311.5 46.9h1.30M313.3 47.2h1.30M304.9 47.1h1.30M305.5 47.3h1.30M306.0 47.4h1.30M310.3 47.1h1.30M310.2 47.8h1.30M307.6 47.3h1.30M304.7 47.4h1.30M310.8 46.9h1.30M315.2 47.8h1.30M493.7 47.2h1.30M499.2 47.5h1.30M500.8 47.3h1.30M494.6 47.3h1.30M494.8 47.0h1.30M493.1 46.9h1.30M493.8 47.7h1.30M499.4 47.2h1.30M502.9 46.9h1.30M496.5 47.2h1.30M490.6 47.1h1.30M494.9 47.5h1.30M494.0 47.6h1.30M491.7 46.9h1.30M498.1 47.3h1.30M500.2 47.2h1.30M493.2 47.2h1.30M495.6 47.5h1.30M120.7 131.7h1.30M126.5 130.8h1.30M118.5 131.3h1.30M124.4 131.7h1.30M126.4 131.6h1.30M121.9 130.9h1.30M119.9 131.4h1.30M123.0 130.9h1.30M125.4 131.5h1.30M119.9 131.0h1.30M117.4 131.0h1.30M123.1 131.1h1.30M121.9 131.1h1.30M124.8 131.7h1.30M118.2 131.0h1.30M320.0 131.2h1.30M318.2 131.4h1.30M310.9 131.4h1.30M322.8 131.6h1.30M314.1 131.0h1.30M319.4 131.4h1.30M318.4 131.7h1.30M314.4 131.6h1.30M313.5 131.4h1.30M311.9 130.9h1.30M315.8 130.8h1.30M319.8 131.6h1.30M320.9 131.6h1.30M311.5 131.1h1.30M322.3 131.1h1.30M312.0 131.3h1.30M316.0 131.7h1.30M314.0 131.2h1.30M317.5 131.6h1.30M313.1 131.2h1.30M313.0 130.9h1.30M321.9 131.2h1.30M323.5 130.9h1.30M321.7 131.3h1.30M322.3 131.6h1.30M311.8 131.8h1.30M323.8 131.6h1.30M505.3 131.5h1.30M502.5 131.1h1.30M505.1 131.7h1.30M500.0 130.9h1.30M503.3 130.9h1.30M500.3 130.9h1.30M501.8 131.6h1.30M501.0 131.3h1.30M497.0 131.5h1.30M503.3 131.3h1.30M502.8 131.5h1.30M497.1 131.2h1.30M495.0 131.6h1.30M498.2 131.3h1.30M497.1 131.4h1.30M504.0 131.0h1.30M497.7 130.9h1.30M500.6 131.0h1.30M502.8 131.1h1.30M504.3 131.3h1.30M504.8 131.0h1.30M501.8 131.8h1.30M496.0 131.1h1.30M499.0 131.0h1.30M505.0 131.6h1.30M506.2 131.2h1.30M132.9 215.4h1.30M123.1 215.2h1.30M124.8 215.4h1.30M125.8 215.2h1.30M122.5 215.4h1.30M126.3 215.2h1.30M123.4 215.5h1.30M129.4 215.7h1.30M129.2 215.1h1.30M129.9 214.8h1.30M127.8 215.4h1.30M124.4 215.5h1.30M126.1 215.7h1.30M126.1 215.4h1.30M131.6 215.5h1.30M319.4 215.4h1.30M307.1 215.0h1.30M313.5 215.0h1.30M315.6 215.3h1.30M306.2 215.0h1.30M310.9 214.8h1.30M308.4 214.9h1.30M314.2 215.5h1.30M313.9 215.5h1.30M317.3 215.0h1.30M313.0 215.6h1.30M315.2 215.3h1.30M309.5 215.5h1.30M310.4 215.6h1.30M315.6 215.3h1.30M317.7 214.8h1.30M316.5 215.6h1.30M313.0 215.4h1.30M312.4 214.9h1.30M310.6 215.6h1.30M313.7 215.1h1.30M318.4 215.6h1.30M311.5 215.0h1.30M310.6 215.3h1.30M307.8 215.2h1.30M482.0 214.9h1.30M489.8 215.7h1.30M489.2 215.8h1.30M482.4 214.9h1.30M489.2 214.9h1.30M484.0 215.4h1.30M483.3 214.9h1.30M488.0 215.2h1.30M483.8 215.4h1.30M489.0 214.8h1.30M487.6 215.5h1.30M485.2 215.7h1.30M489.3 215.6h1.30M484.8 214.9h1.30M486.0 215.5h1.30M486.2 214.8h1.30M494.9 215.0h1.30"/><path stroke="#90feab" stroke-width="1.60" d="M246.4 47.1h1.60M421.2 47.7h1.60M205.5 131.3h1.60M215.8 131.0h1.60M428.7 131.3h1.60M36.8 215.5h1.60M35.5 215.0h1.60M392.3 215.2h1.60"/><path stroke="#85ffb1" stroke-width="1.30" d="M153.5 46.8h1.30M158.2 46.3h1.30M165.2 46.4h1.30M163.2 45.9h1.30M163.9 46.6h1.30M147.9 46.5h1.30M155.3 46.0h1.30M161.4 46.5h1.30M153.3 46.4h1.30M153.3 46.8h1.30M145.9 46.2h1.30M151.2 46.7h1.30M152.5 46.5h1.30M157.2 45.9h1.30M148.2 46.6h1.30M165.5 46.7h1.30M147.5 46.0h1.30M145.2 46.7h1.30M154.6 46.8h1.30M157.5 46.8h1.30M152.2 46.6h1.30M152.8 46.0h1.30M152.7 46.4h1.30M142.6 46.0h1.30M146.0 46.8h1.30M142.0 45.9h1.30M160.6 46.4h1.30M144.8 46.0h1.30M154.3 46.4h1.30M142.3 46.3h1.30M133.8 46.0h1.30M318.1 46.1h1.30M311.7 45.9h1.30M314.7 46.7h1.30M313.0 45.9h1.30M303.2 46.3h1.30M306.2 46.4h1.30M310.2 46.4h1.30M311.8 46.3h1.30M313.0 46.7h1.30M315.3 46.4h1.30M303.3 46.8h1.30M314.3 46.6h1.30M312.9 46.8h1.30M311.1 46.5h1.30M308.0 46.3h1.30M313.7 46.5h1.30M306.0 46.3h1.30M304.6 45.9h1.30M307.5 46.8h1.30M504.6 46.8h1.30M501.2 46.3h1.30M501.3 46.2h1.30M495.2 46.0h1.30M503.2 46.2h1.30M495.7 46.0h1.30M495.3 46.1h1.30M495.3 46.3h1.30M491.9 46.8h1.30M493.1 46.2h1.30M494.3 46.4h1.30M495.6 46.0h1.30M500.8 46.0h1.30M502.6 46.3h1.30M497.8 45.9h1.30M500.1 45.9h1.30M499.7 46.1h1.30M498.0 46.3h1.30M492.7 46.4h1.30M499.6 46.9h1.30M494.8 46.8h1.30M490.7 46.4h1.30M491.3 46.7h1.30M502.1 46.8h1.30M498.0 46.3h1.30M501.1 46.1h1.30M494.8 46.7h1.30M498.1 46.4h1.30M500.1 46.8h1.30M495.3 46.1h1.30M128.7 130.1h1.30M127.6 130.5h1.30M118.0 130.7h1.30M122.1 130.2h1.30M121.9 130.2h1.30M122.7 130.7h1.30M120.6 130.6h1.30M123.9 130.5h1.30M121.1 130.8h1.30M122.6 130.4h1.30M121.5 130.8h1.30M123.8 130.7h1.30M122.7 130.5h1.30M124.2 130.0h1.30M126.2 130.6h1.30M124.3 130.2h1.30M123.7 130.5h1.30M311.0 130.1h1.30M315.8 130.5h1.30M314.5 130.2h1.30M310.9 129.8h1.30M313.0 130.8h1.30M321.4 130.0h1.30M312.7 130.3h1.30M310.5 130.1h1.30M312.6 130.6h1.30M319.7 130.3h1.30M317.5 130.1h1.30M311.1 130.2h1.30M321.5 130.4h1.30M321.1 130.0h1.30M321.5 130.2h1.30M315.0 130.3h1.30M321.2 129.9h1.30M322.5 130.2h1.30M318.7 130.7h1.30M508.0 130.3h1.30M508.7 130.6h1.30M496.2 130.8h1.30M500.9 130.0h1.30M504.0 130.7h1.30M498.0 130.3h1.30M503.8 130.5h1.30M496.6 130.6h1.30M505.6 130.1h1.30M502.8 130.4h1.30M505.3 130.5h1.30M495.7 130.7h1.30M505.2 130.4h1.30M504.6 130.1h1.30M504.3 130.5h1.30M499.4 130.2h1.30M498.3 130.0h1.30M497.2 130.2h1.30M501.1 130.0h1.30M495.4 130.5h1.30M500.9 130.5h1.30M501.1 129.8h1.30M501.9 130.6h1.30M504.2 130.5h1.30M507.3 130.3h1.30M504.7 130.1h1.30M131.3 213.9h1.30M121.0 213.8h1.30M129.0 214.7h1.30M124.5 214.6h1.30M124.0 214.6h1.30M119.9 213.9h1.30M122.1 214.4h1.30M127.7 214.1h1.30M121.5 214.5h1.30M121.1 214.1h1.30M121.0 214.3h1.30M120.9 214.3h1.30M314.1 214.5h1.30M316.5 213.8h1.30M312.5 214.1h1.30M307.6 214.0h1.30M318.2 214.7h1.30M314.0 214.1h1.30M307.9 214.4h1.30M310.0 214.5h1.30M306.3 214.6h1.30M307.1 214.6h1.30M312.6 214.4h1.30M311.2 214.4h1.30M310.8 214.1h1.30M316.9 214.5h1.30M312.7 213.9h1.30M315.3 213.8h1.30M307.9 214.6h1.30M306.1 214.1h1.30M309.7 214.5h1.30M306.8 214.4h1.30M305.5 213.9h1.30M317.6 213.9h1.30M317.1 213.9h1.30M311.8 214.6h1.30M306.6 214.1h1.30M315.8 214.1h1.30M313.5 214.0h1.30M309.6 213.8h1.30M311.8 214.6h1.30M492.2 213.9h1.30M486.1 214.2h1.30M483.2 214.3h1.30M483.2 214.5h1.30M485.1 214.0h1.30M488.4 214.3h1.30M485.6 213.9h1.30M485.4 214.5h1.30M483.1 214.4h1.30M489.1 213.8h1.30M484.9 214.7h1.30"/><path stroke="#85ffb1" stroke-width="1.60" d="M389.5 46.2h1.60M395.2 46.5h1.60M69.7 130.6h1.60M425.5 130.6h1.60M35.9 214.0h1.60M52.2 214.5h1.60M54.7 214.5h1.60M42.2 214.0h1.60M36.3 214.2h1.60M220.8 214.6h1.60M222.1 214.5h1.60M414.4 213.8h1.60M419.4 214.5h1.60M422.2 214.5h1.60M395.2 213.8h1.60"/><path stroke="#7affb7" stroke-width="1.30" d="M146.9 45.8h1.30M156.8 45.4h1.30M149.6 45.7h1.30M150.9 45.1h1.30M145.9 44.9h1.30M146.1 45.2h1.30M161.2 44.9h1.30M142.1 44.7h1.30M142.6 45.8h1.30M142.0 45.4h1.30M150.2 45.0h1.30M152.7 44.9h1.30M162.6 45.0h1.30M156.4 45.1h1.30M160.2 45.6h1.30M159.7 45.2h1.30M155.4 45.3h1.30M151.8 45.5h1.30M155.3 45.1h1.30M155.6 45.7h1.30M149.9 45.0h1.30M141.0 45.2h1.30M159.0 45.7h1.30M159.5 45.8h1.30M150.5 45.5h1.30M148.5 45.8h1.30M164.0 45.6h1.30M151.3 45.2h1.30M154.3 45.8h1.30M144.7 45.5h1.30M145.9 45.1h1.30M157.3 45.2h1.30M169.8 45.0h1.30M304.4 45.0h1.30M304.5 45.1h1.30M307.9 44.9h1.30M313.2 45.0h1.30M309.3 44.9h1.30M315.5 45.3h1.30M305.1 45.7h1.30M308.1 44.9h1.30M307.2 45.4h1.30M304.1 45.0h1.30M314.3 45.8h1.30M310.3 45.7h1.30M308.8 44.9h1.30M303.8 45.1h1.30M307.3 45.4h1.30M309.3 44.8h1.30M315.8 45.7h1.30M315.3 45.0h1.30M308.8 45.4h1.30M310.9 45.8h1.30M305.7 45.4h1.30M304.1 45.5h1.30M313.0 45.8h1.30M305.4 45.4h1.30M309.2 45.2h1.30M320.4 45.0h1.30M504.6 45.3h1.30M490.5 45.8h1.30M500.9 45.7h1.30M494.6 44.8h1.30M498.2 45.0h1.30M497.5 45.6h1.30M497.2 45.2h1.30M495.0 45.5h1.30M495.8 45.5h1.30M496.4 45.2h1.30M495.1 45.3h1.30M500.3 45.0h1.30M502.7 45.9h1.30M496.7 45.9h1.30M491.5 45.3h1.30M492.4 45.2h1.30M491.1 45.9h1.30M501.3 45.2h1.30M495.2 45.0h1.30M498.6 44.9h1.30M493.5 45.3h1.30M496.3 45.3h1.30M118.4 128.9h1.30M125.0 129.5h1.30M123.4 129.0h1.30M117.1 129.2h1.30M123.2 128.7h1.30M122.6 129.0h1.30M117.1 129.8h1.30M119.3 129.1h1.30M118.2 129.5h1.30M123.1 129.2h1.30M119.9 129.3h1.30M123.8 129.4h1.30M127.4 128.9h1.30M117.8 128.8h1.30M122.4 129.8h1.30M127.8 128.8h1.30M122.1 128.8h1.30M123.4 129.7h1.30M122.1 129.8h1.30M324.1 128.9h1.30M325.3 129.8h1.30M325.8 129.5h1.30M318.1 129.0h1.30M310.9 129.0h1.30M314.2 129.1h1.30M312.9 129.2h1.30M323.3 129.2h1.30M312.7 129.1h1.30M322.1 128.7h1.30M312.6 128.7h1.30M321.3 129.5h1.30M314.2 128.8h1.30M321.5 129.5h1.30M322.9 129.5h1.30M312.2 129.7h1.30M319.7 128.7h1.30M315.7 129.0h1.30M321.5 129.0h1.30M321.3 129.1h1.30M321.4 129.6h1.30M322.8 129.4h1.30M321.0 129.1h1.30M319.3 129.6h1.30M319.2 129.5h1.30M318.5 129.4h1.30M316.6 129.6h1.30M321.1 129.1h1.30M315.3 129.1h1.30M310.7 129.4h1.30M327.4 129.0h1.30M495.5 128.9h1.30M498.3 129.4h1.30M506.7 129.1h1.30M504.4 128.9h1.30M499.3 128.7h1.30M500.2 129.2h1.30M506.0 129.3h1.30M496.8 128.9h1.30M505.6 129.0h1.30M502.9 129.0h1.30M500.1 129.6h1.30M496.2 129.1h1.30M495.4 129.5h1.30M496.4 129.0h1.30M497.0 128.8h1.30M496.7 128.8h1.30M502.2 129.1h1.30M499.6 129.6h1.30M498.5 129.7h1.30M501.4 129.5h1.30M496.4 129.3h1.30M499.1 128.7h1.30M496.3 128.8h1.30M502.7 129.6h1.30M504.0 129.3h1.30M496.4 129.5h1.30M502.2 129.7h1.30M497.0 129.4h1.30M496.6 129.1h1.30M503.4 128.8h1.30M126.7 213.7h1.30M131.4 213.1h1.30M120.8 213.0h1.30M122.0 212.6h1.30M127.9 213.0h1.30M127.1 212.9h1.30M125.8 213.1h1.30M121.7 213.0h1.30M124.6 213.2h1.30M122.4 213.6h1.30M120.7 213.7h1.30M124.8 213.0h1.30M126.7 213.5h1.30M130.4 213.5h1.30M124.7 213.0h1.30M127.0 213.4h1.30M121.0 212.7h1.30M123.9 213.1h1.30M128.7 213.4h1.30M129.0 213.7h1.30M129.4 212.7h1.30M134.8 213.0h1.30M319.4 213.1h1.30M318.6 213.3h1.30M307.0 213.7h1.30M313.6 212.9h1.30M309.7 213.7h1.30M310.6 213.7h1.30M309.9 213.4h1.30M311.5 212.8h1.30M309.1 213.0h1.30M315.3 212.7h1.30M316.5 213.3h1.30M314.4 213.0h1.30M313.1 213.5h1.30M309.5 212.9h1.30M314.0 213.5h1.30M315.2 213.2h1.30M306.1 213.1h1.30M316.2 213.5h1.30M313.4 212.9h1.30M316.0 213.7h1.30M310.1 213.7h1.30M308.4 213.4h1.30M314.0 212.7h1.30M314.1 212.8h1.30M314.0 213.5h1.30M308.5 212.8h1.30M313.3 212.9h1.30M310.0 212.8h1.30M317.3 213.4h1.30M315.1 213.4h1.30M312.6 213.6h1.30M310.6 212.9h1.30M307.5 213.7h1.30M315.9 212.7h1.30M491.8 212.9h1.30M491.3 213.3h1.30M483.4 213.1h1.30M483.3 212.8h1.30M484.7 213.1h1.30M487.1 212.8h1.30M482.4 212.7h1.30M482.5 213.1h1.30M486.3 213.6h1.30M487.2 213.6h1.30M489.1 213.0h1.30M485.4 212.8h1.30M484.9 213.6h1.30"/><path stroke="#7affb7" stroke-width="1.60" d="M251.5 45.1h1.60M249.0 45.1h1.60M246.4 45.6h1.60M243.8 45.6h1.60M383.8 45.4h1.60M392.3 45.8h1.60M395.2 45.4h1.60M400.2 45.8h1.60M403.0 45.8h1.60M34.1 129.3h1.60M48.4 129.3h1.60M51.5 129.3h1.60M222.1 129.4h1.60M226.8 129.7h1.60M229.2 129.4h1.60M430.3 129.0h1.60M426.3 129.8h1.60M31.7 212.7h1.60M38.2 213.0h1.60M231.2 212.7h1.60M237.6 213.6h1.60"/><path stroke="#6ffebd" stroke-width="1.30" d="M155.0 44.5h1.30M141.0 44.5h1.30M154.4 44.7h1.30M150.7 44.2h1.30M142.9 43.7h1.30M143.6 44.0h1.30M163.0 44.1h1.30M160.4 44.5h1.30M148.8 44.6h1.30M162.3 44.0h1.30M153.6 44.0h1.30M147.8 43.5h1.30M149.2 43.8h1.30M150.2 43.6h1.30M145.8 43.8h1.30M162.4 43.6h1.30M155.7 43.9h1.30M151.6 44.1h1.30M139.9 43.7h1.30M146.6 44.2h1.30M152.1 43.7h1.30M148.5 43.5h1.30M158.0 44.3h1.30M157.3 43.5h1.30M153.5 44.5h1.30M148.7 43.7h1.30M136.3 44.0h1.30M318.3 43.6h1.30M317.7 43.8h1.30M309.9 43.9h1.30M316.4 44.5h1.30M312.3 43.7h1.30M306.2 44.7h1.30M310.4 44.2h1.30M310.5 44.2h1.30M314.1 44.1h1.30M312.0 44.3h1.30M311.6 43.7h1.30M313.6 44.4h1.30M308.9 43.5h1.30M303.5 44.0h1.30M315.1 43.8h1.30M306.9 43.6h1.30M312.5 43.6h1.30M309.0 43.9h1.30M314.8 43.9h1.30M309.1 44.4h1.30M310.9 44.4h1.30M308.4 43.9h1.30M309.3 43.5h1.30M309.6 43.5h1.30M503.9 44.1h1.30M494.8 43.6h1.30M490.0 44.5h1.30M492.2 43.7h1.30M493.9 44.3h1.30M495.3 44.2h1.30M494.9 44.6h1.30M494.1 44.4h1.30M489.8 43.5h1.30M495.8 43.8h1.30M494.9 44.4h1.30M491.1 44.7h1.30M498.3 44.5h1.30M500.4 44.6h1.30M500.2 44.1h1.30M491.2 44.7h1.30M500.0 44.4h1.30M494.3 44.1h1.30M492.6 44.6h1.30M493.4 43.9h1.30M491.1 44.2h1.30M494.2 44.7h1.30M498.4 44.5h1.30M502.1 43.7h1.30M502.3 43.8h1.30M495.9 44.0h1.30M490.9 43.8h1.30M500.1 44.0h1.30M127.8 128.3h1.30M123.9 128.4h1.30M119.5 127.7h1.30M120.4 128.1h1.30M122.2 128.5h1.30M122.6 127.7h1.30M120.7 127.7h1.30M121.4 128.6h1.30M121.8 128.5h1.30M117.7 128.1h1.30M118.5 127.9h1.30M117.1 127.7h1.30M124.0 128.3h1.30M121.4 128.2h1.30M125.5 127.5h1.30M117.8 128.0h1.30M124.3 127.8h1.30M120.8 127.6h1.30M321.8 127.6h1.30M311.3 127.8h1.30M323.9 128.2h1.30M314.7 128.1h1.30M310.0 127.5h1.30M319.6 127.9h1.30M321.4 128.5h1.30M317.4 127.6h1.30M321.1 128.6h1.30M313.8 128.7h1.30M320.3 127.6h1.30M321.7 127.6h1.30M314.1 127.5h1.30M316.5 127.6h1.30M321.5 128.7h1.30M316.2 127.9h1.30M312.3 127.6h1.30M318.6 127.8h1.30M320.3 128.4h1.30M310.2 128.1h1.30M321.4 127.8h1.30M320.3 128.0h1.30M314.8 128.3h1.30M320.5 128.1h1.30M310.1 127.5h1.30M324.0 128.0h1.30M310.1 127.7h1.30M495.8 128.1h1.30M503.3 128.6h1.30M498.5 128.0h1.30M504.0 128.2h1.30M496.5 128.4h1.30M501.7 128.4h1.30M501.3 127.9h1.30M495.7 128.0h1.30M504.3 127.6h1.30M502.6 127.8h1.30M503.8 127.9h1.30M507.6 128.6h1.30M504.0 128.2h1.30M498.3 127.7h1.30M508.1 127.8h1.30M493.8 127.7h1.30M510.9 128.0h1.30M132.6 212.2h1.30M124.9 212.6h1.30M119.5 211.4h1.30M123.4 211.7h1.30M122.4 211.4h1.30M119.0 212.2h1.30M129.2 212.5h1.30M122.6 211.9h1.30M124.3 212.5h1.30M129.2 212.2h1.30M124.5 211.9h1.30M124.3 211.5h1.30M124.9 212.3h1.30M120.9 212.6h1.30M128.6 211.5h1.30M123.3 212.5h1.30M131.3 211.6h1.30M128.4 211.5h1.30M120.7 211.9h1.30M128.5 212.4h1.30M131.0 211.6h1.30M119.2 211.5h1.30M320.0 212.3h1.30M317.9 212.0h1.30M307.7 211.9h1.30M311.9 211.6h1.30M307.6 211.6h1.30M306.5 211.7h1.30M315.1 212.3h1.30M317.3 211.9h1.30M307.7 212.0h1.30M319.4 212.2h1.30M310.2 212.1h1.30M309.8 211.9h1.30M311.7 212.5h1.30M309.8 211.7h1.30M309.5 212.4h1.30M306.7 212.6h1.30M308.4 211.6h1.30M308.0 212.1h1.30M308.0 212.0h1.30M318.9 212.3h1.30M311.8 212.3h1.30M313.0 211.9h1.30M315.5 211.7h1.30M312.8 212.2h1.30M315.7 212.6h1.30M309.2 212.3h1.30M314.4 211.6h1.30M309.6 212.6h1.30M306.3 211.5h1.30M323.9 212.0h1.30M484.2 212.4h1.30M486.8 212.1h1.30M484.7 212.4h1.30M488.7 212.0h1.30M487.8 211.6h1.30M486.5 211.8h1.30M483.5 212.3h1.30M485.3 211.8h1.30M481.5 211.4h1.30M481.3 212.3h1.30M482.4 211.9h1.30M491.0 212.1h1.30M490.9 212.2h1.30M490.1 212.6h1.30M482.3 211.6h1.30M490.0 211.9h1.30M481.8 212.2h1.30M487.5 211.6h1.30M489.1 211.8h1.30M484.4 211.5h1.30M488.3 212.6h1.30M488.2 211.7h1.30M482.0 212.0h1.30M483.7 212.0h1.30M481.6 212.4h1.30"/><path stroke="#6ffebd" stroke-width="1.60" d="M79.7 44.5h1.60M253.6 44.0h1.60M255.7 44.6h1.60M263.7 44.6h1.60M408.7 43.7h1.60M422.9 44.4h1.60M28.6 128.5h1.60M31.8 127.7h1.60M224.5 127.8h1.60M249.2 128.3h1.60M435.8 128.2h1.60M27.3 212.1h1.60M417.2 211.7h1.60M419.4 212.4h1.60M422.2 212.4h1.60"/><path stroke="#64fbc3" stroke-width="1.30" d="M144.0 42.3h1.30M148.0 42.8h1.30M156.4 42.9h1.30M145.6 42.4h1.30M153.8 42.7h1.30M160.3 42.6h1.30M149.6 43.2h1.30M156.1 42.9h1.30M152.8 43.0h1.30M156.0 43.0h1.30M144.2 43.5h1.30M154.3 42.5h1.30M147.5 43.4h1.30M140.1 42.6h1.30M142.0 42.7h1.30M148.2 42.5h1.30M159.3 43.4h1.30M142.9 42.4h1.30M159.7 42.3h1.30M157.9 43.2h1.30M159.8 42.3h1.30M157.9 42.3h1.30M155.2 42.7h1.30M148.3 42.6h1.30M144.6 42.3h1.30M155.4 43.1h1.30M145.7 43.3h1.30M149.8 43.3h1.30M156.7 43.1h1.30M159.2 43.0h1.30M138.3 43.0h1.30M311.3 42.4h1.30M306.1 43.1h1.30M303.5 42.8h1.30M310.6 42.6h1.30M316.7 43.3h1.30M308.6 43.5h1.30M303.7 42.6h1.30M303.4 43.1h1.30M308.4 42.3h1.30M310.1 42.9h1.30M305.2 43.1h1.30M306.7 43.5h1.30M311.5 43.3h1.30M311.2 42.5h1.30M313.1 42.3h1.30M304.3 43.2h1.30M305.2 43.3h1.30M303.9 43.2h1.30M311.6 43.4h1.30M313.1 43.1h1.30M312.5 43.5h1.30M314.8 42.6h1.30M303.4 42.9h1.30M504.8 43.1h1.30M499.7 43.4h1.30M495.4 43.5h1.30M500.5 43.4h1.30M501.8 43.2h1.30M495.1 43.3h1.30M499.4 43.3h1.30M489.5 43.5h1.30M499.4 42.3h1.30M494.4 42.6h1.30M494.9 42.3h1.30M491.8 42.8h1.30M493.9 42.4h1.30M502.0 42.4h1.30M491.0 43.0h1.30M489.4 42.4h1.30M495.5 42.9h1.30M501.3 43.3h1.30M502.7 43.0h1.30M495.5 42.4h1.30M490.2 43.0h1.30M499.5 42.6h1.30M491.8 43.0h1.30M498.4 43.2h1.30M491.5 43.2h1.30M498.8 43.0h1.30M500.8 42.8h1.30M495.6 42.8h1.30M497.6 42.6h1.30M496.6 42.6h1.30M128.8 127.2h1.30M120.7 126.5h1.30M122.2 126.4h1.30M119.2 127.0h1.30M121.3 126.3h1.30M125.3 126.6h1.30M123.7 126.9h1.30M118.6 126.6h1.30M118.0 127.4h1.30M120.4 126.9h1.30M119.6 126.9h1.30M121.7 126.6h1.30M125.9 127.3h1.30M124.9 126.4h1.30M120.1 126.6h1.30M123.7 126.7h1.30M121.7 126.5h1.30M124.6 126.9h1.30M123.9 126.3h1.30M119.7 127.1h1.30M121.9 127.4h1.30M122.7 127.0h1.30M124.6 126.9h1.30M120.9 127.1h1.30M130.8 127.0h1.30M325.6 126.8h1.30M320.7 127.2h1.30M321.1 126.5h1.30M315.4 126.7h1.30M322.5 126.3h1.30M323.0 126.8h1.30M320.1 126.8h1.30M311.8 127.2h1.30M324.4 126.3h1.30M313.1 126.9h1.30M319.4 126.4h1.30M320.4 126.5h1.30M319.2 127.1h1.30M309.6 126.4h1.30M316.3 127.0h1.30M313.6 127.0h1.30M313.2 127.4h1.30M313.4 126.7h1.30M318.2 126.3h1.30M322.1 127.2h1.30M320.8 127.1h1.30M314.3 126.9h1.30M315.1 127.0h1.30M317.1 127.2h1.30M317.8 126.3h1.30M315.5 126.8h1.30M319.6 126.4h1.30M316.1 127.4h1.30M314.4 126.6h1.30M321.4 127.3h1.30M507.4 126.3h1.30M508.8 126.3h1.30M497.1 127.1h1.30M499.2 127.1h1.30M506.3 127.2h1.30M504.6 127.2h1.30M506.5 126.5h1.30M499.9 126.8h1.30M500.9 127.1h1.30M498.4 127.4h1.30M494.7 126.5h1.30M500.4 126.6h1.30M501.1 126.5h1.30M501.6 127.4h1.30M503.3 127.1h1.30M500.3 126.8h1.30M502.1 127.0h1.30M499.5 127.1h1.30M496.9 126.9h1.30M503.4 126.8h1.30M507.7 126.7h1.30M495.3 126.6h1.30M501.7 126.7h1.30M497.3 126.4h1.30M504.5 127.2h1.30M499.3 126.9h1.30M497.9 126.4h1.30M496.8 126.9h1.30M493.6 126.7h1.30M505.9 126.4h1.30M505.2 126.6h1.30M131.0 210.6h1.30M130.7 210.7h1.30M127.3 210.4h1.30M119.2 211.3h1.30M125.9 210.2h1.30M127.0 211.1h1.30M127.6 211.1h1.30M118.7 210.3h1.30M128.0 210.6h1.30M129.7 211.3h1.30M125.9 211.3h1.30M120.4 210.6h1.30M119.3 210.9h1.30M122.9 210.4h1.30M121.5 210.3h1.30M126.6 210.4h1.30M125.0 210.5h1.30M126.0 210.3h1.30M124.0 210.4h1.30M126.4 211.1h1.30M125.9 211.4h1.30M118.8 211.3h1.30M124.2 210.8h1.30M128.5 210.4h1.30M121.3 211.0h1.30M121.1 210.6h1.30M126.6 210.7h1.30M306.2 210.9h1.30M314.3 210.9h1.30M310.3 211.1h1.30M305.9 210.7h1.30M317.6 210.5h1.30M306.2 210.6h1.30M316.3 210.8h1.30M310.3 210.4h1.30M315.2 210.9h1.30M316.0 210.8h1.30M315.7 211.0h1.30M314.1 211.3h1.30M305.8 211.2h1.30M313.9 210.7h1.30M313.7 210.2h1.30M307.8 211.0h1.30M315.4 210.9h1.30M317.2 210.4h1.30M319.1 211.1h1.30M309.1 210.8h1.30M318.2 210.8h1.30M310.9 210.7h1.30M315.2 211.2h1.30M308.3 210.8h1.30M308.0 210.7h1.30M310.9 211.3h1.30M491.8 210.6h1.30M481.2 210.4h1.30M486.7 210.5h1.30M482.1 210.5h1.30M488.8 210.3h1.30M483.1 210.4h1.30M488.9 211.1h1.30M482.2 210.7h1.30M488.8 210.4h1.30M487.5 210.8h1.30M487.5 210.7h1.30M483.0 210.6h1.30M487.5 210.3h1.30M489.0 211.3h1.30M484.8 210.8h1.30M484.2 211.0h1.30M483.8 210.5h1.30M484.1 210.5h1.30M482.9 210.6h1.30M487.9 211.2h1.30M486.1 210.9h1.30M487.7 211.2h1.30M486.2 211.1h1.30M485.6 210.3h1.30"/><path stroke="#64fbc3" stroke-width="1.60" d="M258.7 42.5h1.60M261.3 43.0h1.60M266.5 42.5h1.60M255.7 43.5h1.60M411.5 43.0h1.60M417.2 43.0h1.60M20.7 127.2h1.60M239.7 126.5h1.60M439.7 127.4h1.60M22.6 211.2h1.60M199.5 210.4h1.60M405.8 210.2h1.60M408.7 210.2h1.60M414.4 210.2h1.60M419.2 210.5h1.60"/><path stroke="#5af8c8" stroke-width="1.30" d="M149.6 41.8h1.30M139.1 40.9h1.30M150.6 42.0h1.30M154.8 40.8h1.30M156.6 41.2h1.30M149.3 41.2h1.30M150.6 41.0h1.30M150.4 41.9h1.30M145.0 41.7h1.30M149.5 41.2h1.30M145.7 41.2h1.30M149.3 41.3h1.30M156.3 42.1h1.30M158.4 41.6h1.30M156.1 41.6h1.30M146.3 41.9h1.30M140.8 41.9h1.30M148.1 41.9h1.30M140.9 41.5h1.30M151.9 41.5h1.30M141.6 41.7h1.30M142.9 41.1h1.30M157.1 41.5h1.30M155.9 41.7h1.30M143.6 41.1h1.30M139.6 40.9h1.30M143.9 41.3h1.30M157.0 41.4h1.30M143.8 41.9h1.30M139.6 41.0h1.30M141.5 41.4h1.30M146.6 41.6h1.30M151.2 41.8h1.30M144.6 40.9h1.30M152.5 41.9h1.30M135.8 41.5h1.30M167.3 41.0h1.30M315.3 40.9h1.30M313.3 40.8h1.30M306.0 41.0h1.30M309.9 41.6h1.30M308.9 41.3h1.30M310.7 41.0h1.30M315.9 40.9h1.30M313.6 41.0h1.30M306.1 41.7h1.30M311.2 41.7h1.30M308.8 40.9h1.30M313.7 41.8h1.30M311.2 41.9h1.30M312.7 41.7h1.30M304.7 42.2h1.30M306.7 42.1h1.30M312.7 41.2h1.30M312.5 42.0h1.30M311.4 41.4h1.30M314.6 40.8h1.30M313.1 41.1h1.30M305.3 41.4h1.30M307.8 42.1h1.30M304.4 41.3h1.30M306.8 42.2h1.30M309.2 41.4h1.30M309.8 40.8h1.30M309.5 41.3h1.30M316.3 41.6h1.30M305.0 42.1h1.30M314.9 41.2h1.30M311.6 40.8h1.30M306.8 41.3h1.30M315.4 41.1h1.30M308.9 42.1h1.30M308.3 42.2h1.30M312.0 41.8h1.30M316.1 41.7h1.30M306.5 41.3h1.30M308.9 42.2h1.30M501.6 42.1h1.30M490.2 41.3h1.30M496.9 42.1h1.30M502.3 41.3h1.30M501.3 41.5h1.30M498.2 40.8h1.30M500.0 41.3h1.30M497.7 41.3h1.30M496.9 40.9h1.30M497.8 42.1h1.30M497.3 41.1h1.30M490.7 41.2h1.30M499.5 41.1h1.30M497.7 41.4h1.30M496.0 42.1h1.30M498.4 42.0h1.30M491.6 42.0h1.30M499.7 41.4h1.30M493.9 41.9h1.30M500.8 40.9h1.30M497.3 41.6h1.30M490.5 42.0h1.30M501.5 41.9h1.30M497.5 41.0h1.30M497.3 41.8h1.30M490.1 40.9h1.30M495.4 41.1h1.30M495.0 42.2h1.30M490.3 41.0h1.30M506.4 42.0h1.30M129.8 125.4h1.30M124.1 125.7h1.30M122.8 126.0h1.30M121.2 125.7h1.30M124.1 125.1h1.30M123.8 126.2h1.30M124.1 125.2h1.30M122.7 125.4h1.30M122.3 126.0h1.30M123.3 125.0h1.30M118.3 125.3h1.30M119.5 125.4h1.30M121.5 126.0h1.30M128.0 124.8h1.30M117.8 125.0h1.30M125.2 125.2h1.30M122.1 126.1h1.30M123.9 125.3h1.30M127.2 125.6h1.30M124.3 125.5h1.30M124.6 125.3h1.30M125.6 125.1h1.30M119.9 125.2h1.30M124.1 124.9h1.30M126.7 125.8h1.30M125.0 124.9h1.30M122.2 125.0h1.30M117.7 125.5h1.30M119.3 126.1h1.30M119.5 125.6h1.30M117.4 125.2h1.30M123.8 125.2h1.30M127.1 126.1h1.30M119.9 126.1h1.30M126.5 125.1h1.30M122.5 126.2h1.30M321.3 124.7h1.30M309.3 125.2h1.30M322.1 124.8h1.30M321.8 125.6h1.30M310.0 125.2h1.30M315.3 125.8h1.30M311.8 125.4h1.30M312.9 125.4h1.30M312.0 125.6h1.30M316.6 124.8h1.30M323.9 125.0h1.30M309.1 124.8h1.30M315.8 125.8h1.30M317.2 125.1h1.30M320.5 126.1h1.30M315.7 126.2h1.30M309.8 124.8h1.30M323.3 124.9h1.30M311.4 126.2h1.30M319.6 125.6h1.30M313.3 125.6h1.30M321.6 125.4h1.30M321.0 125.4h1.30M319.5 126.0h1.30M319.7 126.1h1.30M309.7 125.1h1.30M314.9 124.7h1.30M313.3 125.3h1.30M314.9 125.3h1.30M309.8 124.8h1.30M326.9 125.0h1.30M507.9 125.8h1.30M507.1 126.2h1.30M507.5 125.0h1.30M503.1 125.4h1.30M501.2 125.8h1.30M494.5 126.0h1.30M496.5 125.1h1.30M504.3 125.3h1.30M500.2 125.0h1.30M504.1 126.0h1.30M502.5 124.9h1.30M495.3 124.9h1.30M503.2 126.1h1.30M501.7 125.2h1.30M505.6 126.1h1.30M493.8 124.9h1.30M500.8 125.5h1.30M494.5 125.7h1.30M493.4 125.8h1.30M507.7 126.1h1.30M498.1 126.2h1.30M501.6 125.4h1.30M501.6 125.1h1.30M499.0 125.4h1.30M503.0 125.3h1.30M498.2 125.1h1.30M501.4 124.8h1.30M499.1 125.5h1.30M507.8 126.0h1.30M505.0 126.1h1.30M494.3 125.8h1.30M503.8 124.9h1.30M502.9 124.9h1.30M497.1 125.5h1.30M507.5 126.2h1.30M505.3 125.2h1.30M506.4 124.9h1.30M506.0 125.7h1.30M130.7 209.3h1.30M128.0 209.9h1.30M118.9 209.7h1.30M122.3 209.6h1.30M126.1 209.9h1.30M122.8 208.8h1.30M130.0 210.0h1.30M127.0 208.7h1.30M118.2 209.9h1.30M128.4 209.5h1.30M128.7 208.9h1.30M122.6 208.9h1.30M119.2 210.0h1.30M121.8 209.0h1.30M127.7 208.9h1.30M125.5 209.3h1.30M128.9 209.4h1.30M124.6 209.3h1.30M121.7 209.5h1.30M128.1 209.7h1.30M126.1 208.8h1.30M122.8 209.9h1.30M120.5 209.8h1.30M123.4 209.5h1.30M120.1 209.9h1.30M129.3 209.2h1.30M119.1 209.6h1.30M125.1 209.4h1.30M125.7 209.6h1.30M121.3 209.9h1.30M119.9 208.9h1.30M124.0 209.4h1.30M120.1 209.1h1.30M122.8 209.2h1.30M124.8 209.6h1.30M129.0 209.9h1.30M311.5 209.8h1.30M309.7 210.1h1.30M311.3 208.8h1.30M307.4 209.7h1.30M317.7 209.1h1.30M312.2 209.8h1.30M305.9 210.0h1.30M305.3 209.7h1.30M312.7 209.6h1.30M317.2 209.7h1.30M306.5 208.7h1.30M310.3 208.9h1.30M312.0 209.7h1.30M315.2 210.0h1.30M313.3 209.5h1.30M313.0 209.5h1.30M316.7 209.4h1.30M315.3 208.7h1.30M309.8 209.6h1.30M306.2 208.8h1.30M307.8 210.1h1.30M317.6 209.8h1.30M313.0 208.8h1.30M318.9 209.2h1.30M308.7 210.0h1.30M316.7 209.8h1.30M308.0 209.2h1.30M316.0 209.5h1.30M307.7 209.5h1.30M313.1 210.0h1.30M307.0 209.9h1.30M317.0 208.8h1.30M314.2 209.3h1.30M316.9 210.1h1.30M313.6 210.1h1.30M315.9 210.1h1.30M310.7 210.0h1.30M310.4 209.7h1.30M311.1 209.5h1.30M306.2 209.2h1.30M305.3 209.8h1.30M307.4 209.5h1.30M488.8 209.8h1.30M488.8 209.4h1.30M486.0 209.5h1.30M486.4 210.1h1.30M487.7 210.1h1.30M487.3 209.2h1.30M481.3 209.2h1.30M484.4 209.0h1.30M482.9 209.3h1.30M483.9 209.7h1.30M487.8 208.8h1.30M482.7 210.1h1.30M483.5 209.1h1.30M485.2 209.2h1.30M481.3 209.6h1.30M480.8 208.7h1.30M482.3 210.0h1.30M485.6 209.2h1.30"/><path stroke="#5af8c8" stroke-width="1.60" d="M79.7 40.9h1.60M261.3 41.0h1.60M263.7 41.5h1.60M414.4 42.2h1.60M420.1 42.2h1.60M437.9 41.0h1.60M429.0 41.9h1.60M15.2 126.1h1.60M48.4 125.0h1.60M54.0 124.9h1.60M259.7 126.2h1.60M257.3 126.2h1.60M254.6 126.2h1.60M243.2 125.5h1.60M442.9 125.8h1.60M438.2 125.8h1.60M50.1 209.3h1.60M39.2 209.0h1.60M234.8 210.0h1.60M242.1 209.1h1.60M395.2 209.5h1.60M411.5 208.8h1.60"/><path stroke="#4ff4cd" stroke-width="1.30" d="M137.0 39.4h1.30M138.9 40.2h1.30M149.4 39.8h1.30M149.7 39.4h1.30M139.8 40.1h1.30M143.8 40.6h1.30M149.0 39.2h1.30M149.5 39.6h1.30M139.4 40.7h1.30M146.5 39.9h1.30M145.8 40.6h1.30M144.7 39.7h1.30M137.6 38.7h1.30M140.9 40.2h1.30M145.3 39.5h1.30M150.0 40.0h1.30M147.7 40.6h1.30M152.8 39.1h1.30M142.8 39.7h1.30M154.3 40.0h1.30M140.0 40.2h1.30M138.4 40.3h1.30M139.9 39.1h1.30M148.3 40.4h1.30M142.6 39.2h1.30M142.7 39.5h1.30M148.7 40.0h1.30M149.4 40.0h1.30M137.1 39.0h1.30M142.6 39.3h1.30M137.7 39.9h1.30M316.9 38.9h1.30M316.1 39.6h1.30M317.8 39.7h1.30M309.9 40.2h1.30M303.3 39.1h1.30M314.7 38.9h1.30M307.6 39.6h1.30M316.8 40.5h1.30M312.3 40.7h1.30M306.8 39.5h1.30M306.6 38.8h1.30M304.2 40.5h1.30M307.0 38.8h1.30M305.9 39.8h1.30M303.4 38.9h1.30M305.3 39.8h1.30M312.1 39.7h1.30M304.5 38.9h1.30M307.0 39.2h1.30M316.0 40.3h1.30M308.6 40.8h1.30M306.3 40.8h1.30M311.8 39.2h1.30M305.3 39.1h1.30M307.0 38.7h1.30M307.5 39.6h1.30M312.7 39.7h1.30M313.4 39.9h1.30M304.2 38.8h1.30M306.8 39.3h1.30M304.2 39.8h1.30M308.8 38.9h1.30M304.6 40.0h1.30M310.3 40.3h1.30M305.9 38.8h1.30M315.1 40.3h1.30M313.9 40.1h1.30M309.9 39.9h1.30M307.8 40.2h1.30M310.3 39.4h1.30M307.6 38.8h1.30M312.9 39.1h1.30M500.9 40.4h1.30M500.9 39.0h1.30M503.0 39.7h1.30M499.4 40.0h1.30M496.0 39.3h1.30M490.5 39.0h1.30M492.6 39.5h1.30M492.4 39.9h1.30M492.7 40.6h1.30M493.1 38.9h1.30M492.7 38.8h1.30M492.6 39.3h1.30M489.2 40.4h1.30M500.7 39.3h1.30M498.2 40.3h1.30M495.4 39.1h1.30M489.1 40.2h1.30M491.2 39.1h1.30M488.7 39.8h1.30M498.9 39.3h1.30M501.2 39.8h1.30M489.1 38.9h1.30M488.6 40.5h1.30M497.1 39.9h1.30M499.3 39.6h1.30M494.7 39.6h1.30M490.4 39.6h1.30M489.2 39.0h1.30M491.1 40.5h1.30M488.5 39.5h1.30M496.0 39.9h1.30M498.0 40.4h1.30M494.5 39.8h1.30M488.7 40.6h1.30M491.1 40.0h1.30M494.0 39.8h1.30M487.5 39.1h1.30M491.5 39.9h1.30M493.0 39.8h1.30M494.3 39.2h1.30M497.7 39.9h1.30M495.6 39.8h1.30M496.7 38.8h1.30M488.7 40.7h1.30M492.4 39.6h1.30M491.7 40.3h1.30M491.2 39.2h1.30M499.5 40.1h1.30M491.0 38.9h1.30M489.4 39.2h1.30M501.5 40.4h1.30M498.2 39.2h1.30M491.5 39.7h1.30M494.4 40.0h1.30M127.2 123.8h1.30M126.6 123.3h1.30M128.4 124.5h1.30M122.9 124.5h1.30M121.0 123.3h1.30M117.3 123.4h1.30M124.4 123.3h1.30M125.8 123.0h1.30M127.5 124.6h1.30M125.4 123.8h1.30M120.7 123.8h1.30M124.8 122.7h1.30M127.8 124.5h1.30M125.1 124.3h1.30M122.4 124.0h1.30M116.5 122.9h1.30M122.6 123.0h1.30M120.4 124.6h1.30M120.4 123.7h1.30M119.8 123.6h1.30M123.5 123.0h1.30M121.9 124.4h1.30M119.7 123.7h1.30M122.0 124.4h1.30M124.2 124.0h1.30M117.5 122.6h1.30M117.7 123.0h1.30M119.6 123.1h1.30M123.6 124.4h1.30M126.9 124.3h1.30M122.4 123.4h1.30M125.1 124.7h1.30M118.3 123.5h1.30M121.1 123.3h1.30M123.1 124.7h1.30M116.5 122.8h1.30M130.3 123.0h1.30M322.6 124.4h1.30M321.3 123.4h1.30M324.3 124.2h1.30M323.8 123.8h1.30M316.3 123.4h1.30M319.1 124.1h1.30M322.9 124.7h1.30M321.8 123.0h1.30M308.3 123.2h1.30M320.6 124.1h1.30M310.3 123.0h1.30M311.9 123.0h1.30M321.3 124.0h1.30M320.8 122.9h1.30M318.5 122.8h1.30M310.6 123.7h1.30M309.4 123.3h1.30M315.2 123.3h1.30M319.7 123.7h1.30M316.6 122.8h1.30M314.6 124.7h1.30M315.1 123.5h1.30M320.1 123.7h1.30M319.6 123.3h1.30M313.6 124.1h1.30M314.8 124.2h1.30M318.4 124.2h1.30M318.8 122.8h1.30M312.4 124.1h1.30M308.5 123.7h1.30M313.3 122.7h1.30M308.9 122.7h1.30M309.0 123.8h1.30M312.2 124.7h1.30M307.7 123.4h1.30M318.3 123.5h1.30M308.6 124.6h1.30M316.7 124.6h1.30M320.9 122.9h1.30M308.8 123.3h1.30M308.9 124.4h1.30M308.8 123.6h1.30M316.9 123.1h1.30M312.8 124.4h1.30M308.4 123.8h1.30M311.3 123.9h1.30M314.6 123.9h1.30M504.7 124.2h1.30M506.1 124.0h1.30M495.1 124.7h1.30M502.4 123.7h1.30M492.1 123.3h1.30M500.5 122.7h1.30M496.3 123.1h1.30M496.9 122.7h1.30M500.4 124.0h1.30M504.4 124.4h1.30M502.8 122.9h1.30M505.3 123.6h1.30M498.5 124.0h1.30M492.6 122.7h1.30M493.1 123.4h1.30M503.4 123.2h1.30M503.7 124.4h1.30M503.4 123.0h1.30M503.9 122.7h1.30M502.1 124.5h1.30M496.0 124.6h1.30M504.5 123.1h1.30M502.8 124.1h1.30M502.4 122.7h1.30M502.8 123.6h1.30M492.4 123.7h1.30M499.1 124.5h1.30M494.0 122.8h1.30M504.9 123.7h1.30M500.2 122.9h1.30M494.2 124.4h1.30M497.5 122.8h1.30M502.5 124.1h1.30M504.7 124.5h1.30M501.2 123.2h1.30M493.1 122.8h1.30M493.9 124.0h1.30M500.3 123.2h1.30M503.6 124.6h1.30M499.6 123.4h1.30M497.4 124.4h1.30M500.0 123.6h1.30M491.9 123.1h1.30M493.9 123.9h1.30M504.5 123.8h1.30M505.4 123.8h1.30M494.8 124.6h1.30M502.0 123.9h1.30M505.4 123.1h1.30M494.6 124.0h1.30M497.1 122.9h1.30M500.7 122.6h1.30M502.7 123.1h1.30M498.5 124.6h1.30M498.4 123.9h1.30M511.4 124.0h1.30M129.5 207.0h1.30M131.4 208.3h1.30M123.3 206.8h1.30M123.0 208.5h1.30M125.4 207.3h1.30M121.5 207.7h1.30M118.0 207.6h1.30M120.4 208.5h1.30M121.7 208.3h1.30M125.9 207.7h1.30M122.0 208.6h1.30M129.2 207.9h1.30M124.2 207.7h1.30M125.1 208.2h1.30M121.2 208.4h1.30M124.0 207.3h1.30M123.0 207.8h1.30M122.1 206.9h1.30M124.1 208.6h1.30M127.7 207.6h1.30M125.7 208.0h1.30M125.1 206.7h1.30M126.0 207.6h1.30M129.0 208.6h1.30M128.6 207.0h1.30M129.3 207.6h1.30M129.3 207.5h1.30M126.8 207.5h1.30M126.4 207.2h1.30M128.5 206.8h1.30M117.6 206.7h1.30M122.3 208.2h1.30M120.5 206.7h1.30M122.2 207.7h1.30M126.0 208.6h1.30M121.1 207.7h1.30M124.5 208.4h1.30M125.5 208.1h1.30M123.3 206.8h1.30M124.0 207.7h1.30M129.3 206.9h1.30M126.9 206.9h1.30M121.4 206.6h1.30M122.2 208.3h1.30M118.8 206.7h1.30M119.7 207.9h1.30M123.2 208.1h1.30M129.9 208.2h1.30M120.6 206.9h1.30M119.3 206.8h1.30M318.8 206.7h1.30M317.8 208.4h1.30M320.1 208.7h1.30M320.1 207.8h1.30M306.4 208.5h1.30M306.1 207.1h1.30M311.2 207.0h1.30M309.7 207.5h1.30M305.5 208.5h1.30M307.3 207.5h1.30M306.9 207.8h1.30M316.5 208.3h1.30M307.9 207.1h1.30M308.4 208.1h1.30M313.0 207.8h1.30M316.7 206.8h1.30M315.3 206.7h1.30M308.0 208.7h1.30M307.5 208.3h1.30M309.9 207.0h1.30M315.4 208.0h1.30M316.9 207.8h1.30M306.4 208.0h1.30M307.4 207.9h1.30M307.6 208.1h1.30M317.6 207.2h1.30M313.7 207.7h1.30M309.8 208.0h1.30M306.5 208.1h1.30M316.8 208.0h1.30M317.2 206.7h1.30M313.7 206.7h1.30M305.8 207.9h1.30M313.3 207.0h1.30M311.0 207.9h1.30M307.5 208.2h1.30M307.8 208.4h1.30M316.8 207.4h1.30M316.9 207.4h1.30M307.8 207.1h1.30M316.4 208.0h1.30M304.4 207.0h1.30M313.7 207.6h1.30M314.5 208.0h1.30M305.7 207.6h1.30M305.2 207.2h1.30M489.4 207.1h1.30M484.1 208.3h1.30M480.7 207.8h1.30M484.9 208.0h1.30M489.5 208.0h1.30M480.7 208.0h1.30M486.9 208.1h1.30M488.3 208.4h1.30M480.6 207.1h1.30M487.5 208.6h1.30M488.8 207.4h1.30M480.7 207.5h1.30M485.8 208.6h1.30M483.4 206.9h1.30M484.4 208.5h1.30M489.3 206.9h1.30M481.8 207.4h1.30M487.5 207.3h1.30M486.1 207.8h1.30M480.4 206.6h1.30M488.7 207.6h1.30M488.6 208.5h1.30M488.4 208.1h1.30M481.9 207.4h1.30M482.8 207.9h1.30M488.1 207.2h1.30M483.7 208.0h1.30M488.4 207.6h1.30M480.6 207.7h1.30M482.7 208.1h1.30M485.1 208.5h1.30M488.3 206.8h1.30M481.2 208.1h1.30M486.5 208.6h1.30M484.5 207.2h1.30M482.7 208.3h1.30M486.4 208.1h1.30M482.1 207.3h1.30M481.7 208.2h1.30M487.2 206.8h1.30M480.4 207.9h1.30M479.7 207.0h1.30M485.6 207.9h1.30M481.6 207.7h1.30M483.2 206.7h1.30M484.9 207.4h1.30M480.8 207.0h1.30M483.7 208.6h1.30M484.6 207.1h1.30M481.5 208.7h1.30M480.0 207.6h1.30M480.7 206.9h1.30"/><path stroke="#4ff4cd" stroke-width="1.60" d="M266.5 39.4h1.60M258.7 40.5h1.60M45.2 123.7h1.60M48.4 123.0h1.60M59.7 123.5h1.60M249.2 122.9h1.60M254.6 123.6h1.60M265.4 124.2h1.60M248.0 124.4h1.60M42.5 208.3h1.60M52.0 207.5h1.60M43.2 208.0h1.60M223.0 207.3h1.60M234.8 208.2h1.60M247.6 207.3h1.60M389.5 208.5h1.60M398.0 206.7h1.60M403.0 208.5h1.60M408.7 208.1h1.60M414.4 207.4h1.60M419.4 206.7h1.60"/><path stroke="#44eed2" stroke-width="1.30" d="M133.9 37.2h1.30M138.7 37.7h1.30M142.0 37.7h1.30M143.9 38.4h1.30M144.9 37.3h1.30M139.4 38.6h1.30M146.4 38.2h1.30M129.3 37.1h1.30M137.8 38.3h1.30M135.7 38.2h1.30M147.3 37.6h1.30M141.6 38.6h1.30M133.9 37.7h1.30M147.1 37.6h1.30M141.3 37.3h1.30M132.2 37.6h1.30M136.9 37.4h1.30M135.7 37.3h1.30M137.1 37.7h1.30M133.0 37.1h1.30M142.4 37.4h1.30M134.7 37.7h1.30M136.8 38.6h1.30M139.7 38.3h1.30M149.6 38.6h1.30M139.0 37.9h1.30M148.8 38.4h1.30M143.5 38.1h1.30M144.9 37.2h1.30M143.1 38.1h1.30M137.7 37.7h1.30M166.3 38.5h1.30M313.3 38.0h1.30M313.0 37.5h1.30M304.1 37.9h1.30M313.3 38.0h1.30M312.7 37.3h1.30M303.0 38.4h1.30M302.3 38.1h1.30M308.3 38.5h1.30M307.2 38.5h1.30M308.3 37.6h1.30M311.1 38.6h1.30M307.2 37.3h1.30M308.2 38.0h1.30M310.6 38.4h1.30M305.8 38.2h1.30M306.5 37.4h1.30M308.5 38.4h1.30M306.1 38.2h1.30M305.3 38.1h1.30M311.7 37.4h1.30M302.5 38.3h1.30M306.8 38.5h1.30M303.1 37.1h1.30M304.4 38.1h1.30M313.9 38.5h1.30M307.1 37.4h1.30M310.6 37.4h1.30M309.5 37.4h1.30M303.3 37.5h1.30M311.2 38.2h1.30M305.9 38.2h1.30M313.9 38.1h1.30M308.1 37.3h1.30M498.6 38.0h1.30M498.9 38.4h1.30M497.0 38.7h1.30M498.4 37.7h1.30M494.0 38.5h1.30M490.2 38.2h1.30M490.1 37.4h1.30M493.7 38.5h1.30M489.9 37.5h1.30M498.5 37.4h1.30M488.6 37.9h1.30M500.2 38.4h1.30M495.5 38.4h1.30M497.1 37.5h1.30M496.3 37.4h1.30M488.2 37.2h1.30M496.2 38.5h1.30M489.7 37.5h1.30M493.1 38.0h1.30M492.9 37.6h1.30M494.5 38.5h1.30M492.6 38.0h1.30M491.6 38.6h1.30M493.9 38.3h1.30M494.9 37.1h1.30M491.9 37.3h1.30M487.7 37.7h1.30M498.9 37.2h1.30M496.0 38.0h1.30M492.9 38.1h1.30M488.5 37.7h1.30M125.7 122.4h1.30M118.4 121.4h1.30M121.1 122.1h1.30M118.1 122.2h1.30M124.8 122.6h1.30M120.4 121.7h1.30M119.8 122.2h1.30M120.1 121.3h1.30M125.5 122.0h1.30M122.1 121.1h1.30M124.0 121.3h1.30M115.6 121.9h1.30M122.0 122.2h1.30M125.3 121.8h1.30M116.4 121.3h1.30M115.4 121.7h1.30M115.7 121.7h1.30M118.7 121.6h1.30M124.6 121.0h1.30M121.4 122.2h1.30M118.9 121.5h1.30M121.0 121.5h1.30M122.6 121.1h1.30M123.4 121.3h1.30M122.7 122.6h1.30M318.9 121.0h1.30M309.4 121.0h1.30M318.5 122.6h1.30M315.0 122.6h1.30M312.9 121.9h1.30M308.2 121.0h1.30M315.7 121.2h1.30M319.5 121.5h1.30M305.9 121.2h1.30M312.3 121.8h1.30M309.2 122.2h1.30M308.5 122.2h1.30M312.4 121.0h1.30M310.0 121.9h1.30M309.5 121.9h1.30M311.4 121.9h1.30M315.8 121.0h1.30M319.9 122.0h1.30M318.7 121.1h1.30M306.5 121.5h1.30M307.7 121.2h1.30M308.3 121.3h1.30M311.7 121.0h1.30M315.5 122.2h1.30M315.7 122.2h1.30M309.8 121.6h1.30M312.6 121.1h1.30M312.2 121.7h1.30M305.4 121.5h1.30M308.3 122.2h1.30M306.4 121.9h1.30M318.9 121.2h1.30M313.2 122.4h1.30M308.1 121.3h1.30M313.2 121.5h1.30M503.0 122.0h1.30M496.6 122.0h1.30M494.7 122.2h1.30M503.6 122.2h1.30M490.9 121.4h1.30M500.4 121.2h1.30M494.4 121.6h1.30M495.3 122.4h1.30M498.1 121.0h1.30M490.2 121.7h1.30M497.8 121.2h1.30M503.2 122.1h1.30M497.1 122.6h1.30M497.7 122.2h1.30M495.6 121.4h1.30M495.9 121.3h1.30M503.4 122.5h1.30M504.9 122.6h1.30M494.5 121.4h1.30M494.4 121.7h1.30M492.1 121.9h1.30M493.2 122.1h1.30M503.5 122.2h1.30M501.4 121.9h1.30M494.0 121.5h1.30M492.8 121.1h1.30M503.4 121.5h1.30M492.9 121.7h1.30M502.7 121.8h1.30M496.4 121.5h1.30M491.4 122.6h1.30M500.6 121.7h1.30M495.9 122.3h1.30M501.7 121.1h1.30M490.8 122.5h1.30M500.6 122.5h1.30M490.7 122.3h1.30M500.0 122.1h1.30M492.0 121.4h1.30M491.1 122.1h1.30M496.2 121.9h1.30M498.7 121.0h1.30M131.3 206.3h1.30M118.9 205.5h1.30M128.1 205.8h1.30M122.3 205.1h1.30M121.6 205.3h1.30M120.1 205.8h1.30M128.3 206.2h1.30M121.7 206.0h1.30M117.2 206.4h1.30M127.7 205.9h1.30M120.2 205.1h1.30M128.2 206.1h1.30M126.7 206.2h1.30M127.8 206.0h1.30M117.4 205.1h1.30M118.1 206.3h1.30M126.5 205.6h1.30M116.5 205.2h1.30M124.5 206.2h1.30M118.1 205.6h1.30M125.4 205.7h1.30M125.1 205.2h1.30M117.4 205.8h1.30M117.7 205.6h1.30M117.6 206.1h1.30M121.1 205.4h1.30M125.9 205.8h1.30M122.7 205.5h1.30M119.8 206.3h1.30M125.4 206.0h1.30M117.3 205.9h1.30M122.7 205.6h1.30M305.1 206.1h1.30M305.5 206.1h1.30M310.0 205.3h1.30M307.6 205.8h1.30M307.2 205.1h1.30M306.0 205.4h1.30M316.1 206.2h1.30M312.9 206.0h1.30M312.7 206.0h1.30M307.0 205.8h1.30M311.1 205.2h1.30M307.5 206.2h1.30M309.5 206.4h1.30M308.7 206.4h1.30M304.8 206.5h1.30M310.6 206.5h1.30M305.2 206.5h1.30M317.3 206.5h1.30M316.6 206.4h1.30M315.5 206.3h1.30M304.3 206.2h1.30M316.1 206.5h1.30M314.0 206.2h1.30M316.7 205.9h1.30M304.8 206.0h1.30M314.8 205.7h1.30M313.5 205.8h1.30M312.1 206.0h1.30M306.4 205.1h1.30M311.8 205.3h1.30M312.5 205.2h1.30M316.3 205.9h1.30M305.3 205.3h1.30M305.3 206.3h1.30M316.9 205.8h1.30M304.8 205.8h1.30M306.0 205.2h1.30M310.0 205.2h1.30M308.9 206.3h1.30M310.5 206.2h1.30M305.4 205.1h1.30M312.7 205.1h1.30M489.0 206.2h1.30M481.0 205.0h1.30M479.3 206.2h1.30M484.1 206.3h1.30M479.2 205.3h1.30M483.1 206.2h1.30M482.0 206.1h1.30M479.2 205.1h1.30M479.6 205.7h1.30M482.9 206.1h1.30M480.6 206.2h1.30M484.3 206.4h1.30M486.4 205.6h1.30M486.5 205.5h1.30M488.7 206.2h1.30M482.3 205.7h1.30M482.0 205.3h1.30M480.0 205.4h1.30M485.7 206.5h1.30M486.2 205.8h1.30M486.3 205.2h1.30M483.3 205.2h1.30M487.5 205.6h1.30M482.9 206.2h1.30M484.7 206.1h1.30M483.6 206.5h1.30M484.5 205.5h1.30"/><path stroke="#44eed2" stroke-width="1.60" d="M79.7 37.3h1.60M261.3 37.4h1.60M263.7 38.4h1.60M433.5 37.7h1.60M31.8 122.2h1.60M56.9 122.1h1.60M75.3 122.1h1.60M259.7 122.2h1.60M262.4 122.2h1.60M447.6 122.1h1.60M54.9 206.1h1.60M53.2 206.0h1.60M56.7 206.0h1.60M422.2 205.3h1.60M433.3 205.0h1.60M423.5 206.1h1.60"/><path stroke="#39e7d7" stroke-width="1.30" d="M131.8 36.5h1.30M135.6 35.4h1.30M123.7 35.5h1.30M134.5 35.5h1.30M142.0 36.1h1.30M126.3 36.2h1.30M129.1 35.4h1.30M124.9 35.6h1.30M136.8 36.1h1.30M141.9 36.6h1.30M127.3 35.7h1.30M134.6 36.0h1.30M131.1 35.9h1.30M132.9 36.4h1.30M142.0 36.5h1.30M128.2 35.4h1.30M132.4 36.1h1.30M133.0 36.4h1.30M129.1 36.4h1.30M127.5 36.3h1.30M135.7 36.8h1.30M133.7 36.5h1.30M136.1 36.5h1.30M130.4 35.4h1.30M136.3 35.7h1.30M143.2 36.0h1.30M142.4 36.2h1.30M128.6 36.6h1.30M140.9 35.9h1.30M130.5 36.4h1.30M134.3 36.7h1.30M124.4 35.5h1.30M138.8 35.7h1.30M134.4 36.2h1.30M135.3 36.5h1.30M128.5 36.7h1.30M126.3 36.1h1.30M130.1 36.0h1.30M131.0 36.7h1.30M129.2 36.0h1.30M126.1 35.5h1.30M133.8 36.8h1.30M127.5 36.6h1.30M143.1 36.8h1.30M129.6 35.6h1.30M136.9 35.4h1.30M125.5 35.7h1.30M133.1 35.6h1.30M136.4 36.8h1.30M143.2 36.6h1.30M134.3 36.1h1.30M134.9 36.7h1.30M135.8 36.2h1.30M142.0 36.1h1.30M131.1 37.0h1.30M312.9 37.0h1.30M302.7 37.0h1.30M311.7 37.0h1.30M308.8 36.8h1.30M306.6 35.6h1.30M305.4 36.0h1.30M310.5 36.0h1.30M297.9 35.5h1.30M307.1 35.4h1.30M310.9 36.3h1.30M300.8 36.5h1.30M307.5 35.5h1.30M300.9 35.9h1.30M306.7 35.9h1.30M303.2 37.0h1.30M302.1 36.4h1.30M309.2 35.5h1.30M304.3 36.9h1.30M299.9 36.0h1.30M307.4 36.3h1.30M302.6 35.8h1.30M304.3 36.9h1.30M309.4 35.8h1.30M299.6 35.8h1.30M307.3 36.6h1.30M304.5 35.7h1.30M307.0 35.9h1.30M306.2 36.2h1.30M307.0 35.7h1.30M310.2 36.4h1.30M309.3 35.7h1.30M301.5 36.9h1.30M299.2 35.5h1.30M304.2 36.9h1.30M307.9 35.8h1.30M498.8 35.8h1.30M488.4 35.7h1.30M486.7 36.2h1.30M495.4 36.9h1.30M491.7 37.0h1.30M485.8 36.0h1.30M494.2 35.4h1.30M495.1 35.5h1.30M487.5 35.7h1.30M489.9 36.6h1.30M494.4 36.2h1.30M486.9 36.7h1.30M486.8 35.4h1.30M486.1 35.7h1.30M493.2 36.4h1.30M496.8 36.5h1.30M489.1 36.4h1.30M494.2 36.2h1.30M488.0 36.2h1.30M488.7 36.3h1.30M494.3 36.9h1.30M494.9 35.6h1.30M494.7 35.9h1.30M489.9 35.6h1.30M491.9 36.8h1.30M494.3 36.2h1.30M490.0 36.7h1.30M493.6 35.9h1.30M486.7 36.2h1.30M491.7 36.1h1.30M492.8 35.7h1.30M493.2 36.7h1.30M492.7 36.3h1.30M495.7 35.5h1.30M494.6 36.8h1.30M486.0 36.5h1.30M489.1 35.7h1.30M489.1 35.4h1.30M502.4 36.0h1.30M124.5 120.6h1.30M125.3 120.5h1.30M120.5 120.5h1.30M123.3 119.3h1.30M122.5 120.3h1.30M121.5 120.2h1.30M120.5 120.8h1.30M122.1 119.8h1.30M115.0 119.6h1.30M117.4 119.9h1.30M123.7 120.7h1.30M123.5 120.7h1.30M123.0 119.5h1.30M118.1 119.5h1.30M117.7 120.9h1.30M119.0 120.0h1.30M118.3 120.9h1.30M123.3 120.4h1.30M118.0 119.8h1.30M117.9 120.3h1.30M118.8 120.7h1.30M118.9 120.1h1.30M118.1 120.7h1.30M121.2 120.3h1.30M119.8 120.5h1.30M118.1 120.2h1.30M123.8 119.7h1.30M116.2 120.3h1.30M124.0 120.1h1.30M115.4 120.2h1.30M115.4 120.3h1.30M118.8 120.9h1.30M120.3 120.8h1.30M121.5 120.5h1.30M116.4 119.9h1.30M123.4 119.9h1.30M114.9 119.4h1.30M124.4 120.4h1.30M123.6 120.2h1.30M123.1 119.7h1.30M122.8 119.8h1.30M123.4 119.7h1.30M316.6 120.8h1.30M312.3 119.6h1.30M315.5 119.9h1.30M305.8 120.7h1.30M317.2 120.4h1.30M305.2 120.4h1.30M308.3 119.5h1.30M315.3 120.6h1.30M316.0 119.3h1.30M307.3 119.3h1.30M309.8 120.4h1.30M310.4 119.8h1.30M314.3 119.4h1.30M310.2 119.9h1.30M314.6 119.4h1.30M313.7 120.1h1.30M317.7 120.0h1.30M314.0 119.8h1.30M314.3 120.2h1.30M314.6 120.3h1.30M305.8 119.6h1.30M309.6 120.5h1.30M315.1 120.6h1.30M311.3 120.0h1.30M315.1 120.9h1.30M305.5 120.7h1.30M316.2 120.6h1.30M307.6 119.7h1.30M306.3 120.2h1.30M316.1 120.0h1.30M306.3 120.2h1.30M317.5 119.9h1.30M312.3 120.7h1.30M306.4 120.6h1.30M311.9 120.1h1.30M502.3 119.9h1.30M501.9 120.0h1.30M497.2 119.9h1.30M489.0 119.7h1.30M493.2 119.4h1.30M492.8 120.4h1.30M495.2 120.2h1.30M489.7 120.1h1.30M499.9 120.0h1.30M490.9 120.4h1.30M498.5 120.8h1.30M501.0 119.7h1.30M493.7 120.8h1.30M495.6 120.3h1.30M491.9 120.7h1.30M491.0 120.5h1.30M490.3 119.5h1.30M488.2 119.4h1.30M490.1 119.7h1.30M497.8 120.0h1.30M496.4 119.7h1.30M494.3 120.5h1.30M496.0 119.9h1.30M490.9 120.0h1.30M491.9 119.3h1.30M499.7 120.8h1.30M495.8 119.5h1.30M497.8 120.6h1.30M502.4 120.5h1.30M497.7 120.6h1.30M493.1 119.8h1.30M489.7 119.9h1.30M497.1 120.5h1.30M491.7 119.6h1.30M499.9 120.1h1.30M502.6 120.7h1.30M126.6 204.7h1.30M128.0 203.8h1.30M125.9 203.6h1.30M124.0 203.3h1.30M116.4 203.5h1.30M118.6 203.7h1.30M122.2 203.8h1.30M122.5 203.9h1.30M124.6 203.9h1.30M124.3 203.5h1.30M116.4 204.2h1.30M122.9 203.3h1.30M125.5 203.8h1.30M124.5 203.4h1.30M118.6 204.7h1.30M125.8 204.3h1.30M119.0 203.9h1.30M121.8 203.6h1.30M125.0 203.5h1.30M122.6 204.1h1.30M116.3 203.9h1.30M115.3 203.3h1.30M117.3 204.3h1.30M118.1 204.3h1.30M126.0 204.5h1.30M126.8 204.7h1.30M124.9 204.2h1.30M125.9 203.9h1.30M122.1 203.4h1.30M123.4 204.4h1.30M126.7 204.2h1.30M123.3 204.2h1.30M317.3 203.9h1.30M316.6 203.8h1.30M316.6 204.8h1.30M310.0 203.4h1.30M312.1 204.4h1.30M311.3 204.7h1.30M307.4 204.7h1.30M310.5 204.7h1.30M302.6 203.3h1.30M308.9 204.6h1.30M302.6 203.7h1.30M314.7 204.3h1.30M310.7 203.5h1.30M308.5 204.2h1.30M313.1 204.3h1.30M312.8 203.3h1.30M311.9 203.4h1.30M306.9 203.9h1.30M303.4 204.8h1.30M314.7 204.3h1.30M307.1 203.9h1.30M303.5 203.9h1.30M313.0 204.8h1.30M303.3 204.5h1.30M307.5 203.4h1.30M312.4 203.4h1.30M307.7 204.8h1.30M304.9 204.8h1.30M303.6 204.2h1.30M304.0 204.1h1.30M312.5 204.1h1.30M307.7 203.3h1.30M309.6 203.8h1.30M315.8 204.4h1.30M315.5 204.6h1.30M313.4 203.9h1.30M314.6 203.9h1.30M315.5 204.3h1.30M314.3 204.3h1.30M308.6 204.7h1.30M313.8 204.5h1.30M304.0 204.8h1.30M303.3 203.6h1.30M305.0 203.8h1.30M485.7 204.6h1.30M486.6 204.8h1.30M477.2 203.7h1.30M479.8 203.4h1.30M479.0 204.7h1.30M481.9 204.0h1.30M478.3 204.8h1.30M477.5 203.3h1.30M481.7 203.9h1.30M478.6 203.8h1.30M477.4 203.4h1.30M481.8 203.7h1.30M478.7 204.5h1.30M484.4 203.5h1.30M482.0 203.7h1.30M483.7 203.3h1.30M477.2 203.8h1.30M478.4 204.2h1.30M481.5 204.8h1.30M483.8 204.5h1.30M484.4 204.3h1.30M480.8 204.5h1.30M484.1 204.7h1.30M485.3 204.4h1.30M485.5 203.8h1.30M478.3 204.7h1.30M481.9 204.3h1.30M478.5 203.5h1.30M484.8 204.8h1.30M480.8 203.4h1.30"/><path stroke="#39e7d7" stroke-width="1.60" d="M446.7 36.5h1.60M442.3 36.6h1.60M34.1 119.8h1.60M38.9 119.8h1.60M257.3 119.5h1.60M259.7 120.2h1.60M262.4 120.2h1.60M61.9 204.3h1.60M65.9 203.6h1.60M76.0 204.3h1.60M77.3 203.6h1.60M233.0 203.6h1.60M419.4 204.5h1.60M441.3 204.3h1.60M420.6 203.3h1.60M430.6 203.3h1.60"/><path stroke="#2ee0db" stroke-width="1.30" d="M132.4 35.0h1.30M126.8 33.7h1.30M124.2 33.7h1.30M123.0 35.1h1.30M132.8 33.7h1.30M129.7 34.4h1.30M131.4 34.6h1.30M139.9 35.1h1.30M126.2 34.0h1.30M131.8 35.0h1.30M133.0 34.1h1.30M129.0 34.1h1.30M121.2 33.9h1.30M130.4 34.9h1.30M130.0 34.8h1.30M125.4 34.9h1.30M130.7 34.8h1.30M122.8 34.5h1.30M131.5 34.4h1.30M131.5 34.9h1.30M132.4 33.9h1.30M129.7 34.9h1.30M124.0 35.3h1.30M124.3 34.3h1.30M121.3 34.5h1.30M130.0 34.9h1.30M130.1 33.7h1.30M126.2 35.3h1.30M135.5 34.7h1.30M119.6 33.7h1.30M136.3 35.1h1.30M128.4 33.5h1.30M121.8 34.1h1.30M130.4 34.3h1.30M130.8 33.7h1.30M126.5 34.7h1.30M130.7 34.2h1.30M133.4 34.8h1.30M129.1 35.0h1.30M132.3 35.3h1.30M133.1 33.9h1.30M127.5 35.3h1.30M127.2 34.1h1.30M133.0 35.3h1.30M123.4 35.1h1.30M130.1 34.9h1.30M122.5 34.7h1.30M124.7 33.7h1.30M129.8 35.0h1.30M128.0 34.5h1.30M133.1 34.6h1.30M126.2 34.8h1.30M129.9 35.0h1.30M128.3 34.8h1.30M129.2 35.2h1.30M133.7 35.2h1.30M124.0 34.7h1.30M125.2 33.5h1.30M122.5 33.6h1.30M129.0 34.7h1.30M133.6 34.2h1.30M126.9 33.7h1.30M131.1 33.9h1.30M306.1 34.9h1.30M306.3 34.7h1.30M295.3 34.1h1.30M298.6 33.6h1.30M300.3 34.3h1.30M300.3 35.3h1.30M298.9 34.4h1.30M295.4 33.7h1.30M297.4 34.6h1.30M295.1 33.7h1.30M300.1 34.1h1.30M296.5 34.8h1.30M296.3 34.1h1.30M301.3 34.8h1.30M304.5 34.0h1.30M302.6 35.3h1.30M300.8 34.6h1.30M302.6 33.7h1.30M302.7 34.0h1.30M293.2 33.6h1.30M298.9 34.6h1.30M305.7 34.6h1.30M303.1 34.3h1.30M295.3 33.6h1.30M298.3 34.9h1.30M304.0 35.0h1.30M303.8 34.6h1.30M303.9 34.5h1.30M298.8 33.8h1.30M300.7 34.3h1.30M299.8 35.0h1.30M305.4 35.1h1.30M304.6 34.1h1.30M301.8 34.5h1.30M293.0 33.7h1.30M299.5 34.2h1.30M298.6 35.0h1.30M296.4 34.8h1.30M492.5 35.0h1.30M493.7 33.7h1.30M494.2 34.6h1.30M496.6 35.2h1.30M496.4 34.5h1.30M485.4 34.4h1.30M496.2 34.2h1.30M492.3 34.3h1.30M486.7 34.6h1.30M489.7 34.3h1.30M489.2 33.7h1.30M489.6 34.2h1.30M491.5 34.9h1.30M488.2 35.2h1.30M487.0 34.4h1.30M490.4 34.7h1.30M494.9 33.7h1.30M488.8 33.6h1.30M489.9 34.1h1.30M486.0 35.2h1.30M489.4 34.1h1.30M494.2 33.6h1.30M485.3 34.5h1.30M488.2 35.3h1.30M485.6 34.8h1.30M489.2 33.6h1.30M483.8 33.7h1.30M492.7 34.7h1.30M485.4 34.4h1.30M495.7 34.2h1.30M493.5 33.8h1.30M489.9 34.5h1.30M492.7 35.0h1.30M120.9 118.7h1.30M115.8 118.1h1.30M121.6 118.1h1.30M120.2 117.9h1.30M116.6 118.3h1.30M122.0 119.0h1.30M116.5 117.8h1.30M116.8 118.6h1.30M115.8 117.5h1.30M119.3 117.9h1.30M116.3 118.5h1.30M115.1 118.7h1.30M123.2 119.1h1.30M113.8 119.1h1.30M119.1 118.5h1.30M113.1 117.7h1.30M118.6 118.7h1.30M117.8 118.4h1.30M119.9 117.9h1.30M117.7 117.7h1.30M120.3 118.5h1.30M122.1 118.4h1.30M121.3 118.5h1.30M112.6 117.6h1.30M118.8 117.6h1.30M120.6 118.9h1.30M119.6 118.7h1.30M120.4 118.6h1.30M120.2 117.5h1.30M112.6 117.5h1.30M120.8 117.6h1.30M120.8 118.6h1.30M114.4 117.9h1.30M309.7 118.7h1.30M311.8 119.1h1.30M309.1 117.8h1.30M306.2 118.6h1.30M311.0 118.9h1.30M310.7 117.9h1.30M306.4 118.2h1.30M312.9 118.2h1.30M312.9 118.7h1.30M306.2 117.8h1.30M304.8 119.2h1.30M302.8 117.6h1.30M304.7 117.5h1.30M307.0 118.3h1.30M309.3 117.7h1.30M310.2 118.1h1.30M305.9 118.0h1.30M306.5 119.2h1.30M309.0 118.6h1.30M303.4 118.9h1.30M304.2 119.2h1.30M314.7 118.7h1.30M313.8 119.1h1.30M303.3 119.0h1.30M303.2 118.2h1.30M306.4 118.7h1.30M305.9 118.3h1.30M308.8 117.7h1.30M305.2 118.8h1.30M304.7 117.7h1.30M305.6 118.7h1.30M304.8 117.8h1.30M307.5 118.4h1.30M499.3 118.5h1.30M498.5 117.8h1.30M487.8 117.6h1.30M492.9 119.1h1.30M488.0 119.0h1.30M487.9 118.2h1.30M489.2 117.9h1.30M497.0 118.3h1.30M489.3 118.1h1.30M489.7 118.4h1.30M493.3 118.8h1.30M494.0 118.6h1.30M489.6 119.0h1.30M489.2 118.1h1.30M489.1 119.1h1.30M494.0 118.5h1.30M495.5 118.2h1.30M499.9 119.0h1.30M496.5 119.1h1.30M499.9 119.1h1.30M491.9 118.8h1.30M491.8 118.2h1.30M489.6 119.1h1.30M489.3 118.8h1.30M490.8 117.9h1.30M487.4 118.1h1.30M492.0 117.8h1.30M499.5 119.2h1.30M497.2 118.2h1.30M494.8 118.0h1.30M498.7 118.6h1.30M488.3 117.6h1.30M495.8 118.4h1.30M492.9 117.6h1.30M491.1 119.1h1.30M494.6 117.9h1.30M492.3 118.5h1.30M490.9 117.8h1.30M493.6 118.6h1.30M493.4 117.8h1.30M499.1 117.9h1.30M493.7 118.8h1.30M496.5 118.7h1.30M498.5 118.0h1.30M493.9 117.8h1.30M490.4 118.8h1.30M489.8 119.0h1.30M490.8 117.7h1.30M488.2 118.2h1.30M123.6 203.0h1.30M123.3 202.0h1.30M120.9 201.5h1.30M123.1 201.9h1.30M118.9 202.1h1.30M115.8 202.4h1.30M120.9 202.1h1.30M122.6 203.1h1.30M120.0 202.9h1.30M119.1 203.0h1.30M122.0 203.2h1.30M124.7 201.9h1.30M125.5 202.6h1.30M124.3 202.1h1.30M120.5 202.4h1.30M116.2 202.1h1.30M121.6 202.1h1.30M121.7 202.5h1.30M120.8 202.9h1.30M114.7 202.4h1.30M117.9 202.8h1.30M114.0 201.7h1.30M125.2 202.2h1.30M123.5 202.0h1.30M123.2 201.4h1.30M125.0 201.8h1.30M124.7 201.9h1.30M121.9 202.7h1.30M115.5 202.4h1.30M116.9 203.1h1.30M116.0 201.6h1.30M114.6 201.5h1.30M121.5 202.7h1.30M121.5 202.2h1.30M118.5 203.0h1.30M125.2 201.8h1.30M124.8 202.2h1.30M123.6 202.1h1.30M118.9 202.0h1.30M114.9 202.7h1.30M120.0 202.9h1.30M121.7 202.1h1.30M120.8 202.6h1.30M125.5 203.1h1.30M115.5 202.2h1.30M312.1 201.9h1.30M303.8 202.0h1.30M304.5 201.4h1.30M306.1 202.4h1.30M309.1 203.2h1.30M310.9 202.5h1.30M307.9 202.1h1.30M309.8 203.0h1.30M307.1 201.8h1.30M308.8 202.5h1.30M306.9 202.6h1.30M304.8 202.3h1.30M310.9 203.2h1.30M314.2 203.1h1.30M303.5 201.7h1.30M301.8 201.5h1.30M311.6 201.8h1.30M306.4 202.0h1.30M303.1 202.9h1.30M312.1 201.7h1.30M305.4 201.7h1.30M312.8 201.8h1.30M304.4 202.6h1.30M313.2 203.2h1.30M309.7 202.2h1.30M311.2 201.5h1.30M311.5 201.8h1.30M313.6 202.8h1.30M306.1 202.6h1.30M313.1 202.1h1.30M314.0 202.6h1.30M307.6 203.2h1.30M310.8 201.5h1.30M308.9 202.5h1.30M306.1 203.1h1.30M309.4 203.0h1.30M313.2 202.8h1.30M312.6 201.9h1.30M313.2 202.5h1.30M305.6 202.9h1.30M306.2 202.4h1.30M307.3 202.9h1.30M303.4 202.5h1.30M480.0 202.5h1.30M480.2 202.0h1.30M482.7 202.0h1.30M484.6 202.9h1.30M479.7 203.1h1.30M481.5 202.2h1.30M479.6 203.2h1.30M481.3 201.8h1.30M483.1 203.0h1.30M478.8 202.8h1.30M483.2 203.0h1.30M481.0 202.3h1.30M476.6 201.9h1.30M483.7 201.7h1.30M482.6 202.6h1.30M478.6 202.3h1.30M477.0 201.8h1.30M476.6 202.7h1.30M476.9 203.2h1.30M478.0 203.1h1.30M483.5 202.1h1.30M484.2 202.3h1.30M481.6 202.3h1.30M476.8 201.7h1.30M479.7 203.0h1.30M481.2 202.7h1.30M476.3 201.8h1.30M481.3 202.5h1.30M482.0 202.9h1.30M482.7 202.3h1.30M483.6 201.9h1.30M479.3 202.2h1.30M483.5 202.9h1.30M478.1 201.8h1.30M477.5 202.2h1.30M482.1 201.8h1.30M480.0 201.8h1.30M482.8 201.8h1.30M480.7 203.1h1.30"/><path stroke="#2ee0db" stroke-width="1.60" d="M263.7 33.8h1.60M263.7 35.3h1.60M446.7 34.5h1.60M444.5 35.0h1.60M31.8 119.0h1.60M42.1 119.0h1.60M48.4 118.2h1.60M50.8 119.0h1.60M262.4 117.5h1.60M265.4 118.8h1.60M451.9 117.8h1.60M449.0 119.2h1.60M64.8 201.8h1.60M226.7 201.8h1.60M446.7 202.2h1.60"/><path stroke="#23d7e0" stroke-width="1.30" d="M124.2 32.2h1.30M119.3 31.9h1.30M121.8 33.3h1.30M114.0 32.6h1.30M122.9 31.8h1.30M115.4 31.6h1.30M119.5 32.5h1.30M111.7 32.1h1.30M131.0 33.4h1.30M126.1 32.2h1.30M126.1 32.4h1.30M126.2 32.6h1.30M129.0 33.1h1.30M112.0 31.9h1.30M114.4 32.1h1.30M119.5 32.1h1.30M122.9 32.0h1.30M115.0 32.7h1.30M127.2 32.2h1.30M128.9 32.7h1.30M127.7 32.5h1.30M112.8 31.8h1.30M116.5 32.8h1.30M121.1 32.8h1.30M112.9 31.7h1.30M128.3 32.0h1.30M120.9 31.6h1.30M120.5 33.3h1.30M125.2 32.2h1.30M128.1 33.3h1.30M111.8 31.7h1.30M129.9 33.0h1.30M123.9 32.8h1.30M120.3 32.0h1.30M125.5 32.8h1.30M121.1 33.1h1.30M115.5 31.7h1.30M126.7 32.0h1.30M134.9 33.5h1.30M124.1 31.6h1.30M112.8 31.7h1.30M124.2 32.0h1.30M120.0 31.7h1.30M116.3 31.7h1.30M117.4 31.7h1.30M123.2 32.6h1.30M120.2 32.3h1.30M128.5 33.5h1.30M117.9 32.4h1.30M120.6 32.8h1.30M122.2 32.4h1.30M129.3 33.4h1.30M120.1 33.5h1.30M113.4 31.6h1.30M124.3 32.1h1.30M122.2 31.6h1.30M117.2 32.2h1.30M123.1 33.3h1.30M123.9 32.5h1.30M126.9 33.5h1.30M121.2 31.6h1.30M117.0 32.3h1.30M122.4 32.1h1.30M127.5 32.3h1.30M123.6 32.2h1.30M120.5 32.9h1.30M119.0 33.1h1.30M115.8 32.1h1.30M126.6 32.3h1.30M114.4 32.4h1.30M124.4 31.8h1.30M120.8 33.1h1.30M111.0 32.0h1.30M121.6 33.3h1.30M118.5 33.4h1.30M114.2 32.4h1.30M120.2 33.2h1.30M116.2 31.6h1.30M119.1 31.5h1.30M116.3 32.5h1.30M119.3 33.4h1.30M129.0 33.5h1.30M112.1 31.6h1.30M117.5 32.6h1.30M304.1 33.3h1.30M293.6 33.1h1.30M291.8 32.6h1.30M296.4 33.3h1.30M292.7 32.8h1.30M294.1 32.3h1.30M296.6 33.1h1.30M299.9 33.0h1.30M295.2 33.4h1.30M303.2 33.2h1.30M297.6 32.5h1.30M298.9 32.8h1.30M298.8 32.3h1.30M290.3 32.2h1.30M301.8 32.2h1.30M294.4 32.0h1.30M297.9 32.6h1.30M296.2 32.8h1.30M296.3 31.9h1.30M298.5 33.0h1.30M300.0 32.2h1.30M295.5 32.1h1.30M296.0 32.0h1.30M296.6 32.0h1.30M300.6 32.0h1.30M295.6 32.2h1.30M294.6 33.1h1.30M297.6 32.6h1.30M299.6 31.6h1.30M294.4 33.4h1.30M296.8 31.9h1.30M290.2 32.3h1.30M295.6 33.3h1.30M300.3 33.4h1.30M300.5 33.2h1.30M294.3 32.4h1.30M294.2 31.9h1.30M295.8 31.9h1.30M292.8 33.3h1.30M300.6 32.0h1.30M301.3 32.6h1.30M290.8 32.1h1.30M293.7 32.8h1.30M296.8 33.4h1.30M299.0 31.8h1.30M292.4 32.0h1.30M298.7 31.8h1.30M298.2 32.0h1.30M485.7 33.5h1.30M492.9 32.5h1.30M492.1 32.4h1.30M492.2 32.3h1.30M483.6 31.9h1.30M483.3 32.0h1.30M488.5 33.0h1.30M492.7 33.3h1.30M487.3 32.7h1.30M485.2 32.6h1.30M493.8 33.1h1.30M484.9 31.6h1.30M491.4 33.1h1.30M488.3 32.8h1.30M490.6 32.1h1.30M492.1 33.4h1.30M487.4 31.9h1.30M485.9 33.2h1.30M486.8 32.7h1.30M489.3 32.7h1.30M487.0 32.0h1.30M490.7 31.7h1.30M493.0 33.0h1.30M486.4 32.0h1.30M483.4 32.6h1.30M493.5 32.7h1.30M485.3 31.9h1.30M492.8 33.0h1.30M490.9 33.3h1.30M489.8 31.6h1.30M487.5 32.0h1.30M490.0 33.1h1.30M481.9 31.9h1.30M484.8 33.3h1.30M483.2 32.2h1.30M486.5 32.7h1.30M488.0 32.9h1.30M122.4 116.7h1.30M114.0 115.5h1.30M120.3 117.4h1.30M111.4 115.5h1.30M112.1 116.8h1.30M117.6 116.6h1.30M118.9 116.9h1.30M111.7 115.8h1.30M116.0 116.0h1.30M113.3 115.7h1.30M116.5 116.6h1.30M119.1 117.2h1.30M111.9 116.0h1.30M116.9 116.1h1.30M119.7 116.1h1.30M115.7 116.0h1.30M116.2 115.8h1.30M112.4 116.8h1.30M110.8 115.6h1.30M113.7 116.8h1.30M116.5 117.2h1.30M112.9 117.1h1.30M115.4 116.2h1.30M116.5 116.9h1.30M117.6 115.6h1.30M112.3 116.3h1.30M112.2 115.6h1.30M116.3 115.9h1.30M113.1 115.5h1.30M112.4 116.0h1.30M116.6 116.6h1.30M114.4 116.9h1.30M111.6 116.2h1.30M116.0 117.5h1.30M111.2 115.7h1.30M303.9 115.5h1.30M302.0 115.7h1.30M304.2 115.9h1.30M309.5 115.6h1.30M304.6 116.4h1.30M300.0 116.8h1.30M298.1 115.6h1.30M303.5 117.0h1.30M304.9 115.5h1.30M308.3 115.8h1.30M299.2 115.8h1.30M303.0 115.7h1.30M304.3 116.1h1.30M302.5 117.4h1.30M306.8 115.6h1.30M309.6 116.8h1.30M308.1 116.4h1.30M308.4 117.0h1.30M307.1 116.1h1.30M306.6 116.0h1.30M311.3 116.5h1.30M304.6 116.7h1.30M298.3 115.6h1.30M297.8 115.6h1.30M301.0 116.5h1.30M304.8 117.2h1.30M312.9 117.3h1.30M307.2 116.7h1.30M305.8 116.3h1.30M301.9 116.5h1.30M306.4 115.8h1.30M305.3 116.7h1.30M305.0 117.3h1.30M303.8 115.4h1.30M309.8 116.9h1.30M309.4 116.4h1.30M308.9 116.6h1.30M308.4 117.2h1.30M305.7 115.9h1.30M301.5 116.8h1.30M309.9 117.4h1.30M308.5 115.5h1.30M299.9 115.5h1.30M304.0 116.1h1.30M311.7 116.9h1.30M306.4 116.6h1.30M303.4 116.2h1.30M495.1 117.0h1.30M486.9 116.5h1.30M490.3 116.9h1.30M488.0 117.3h1.30M487.2 117.5h1.30M484.5 115.9h1.30M488.8 117.2h1.30M486.4 115.7h1.30M486.8 115.8h1.30M484.1 115.8h1.30M493.6 117.4h1.30M489.5 117.3h1.30M498.0 117.1h1.30M489.1 115.8h1.30M486.3 116.5h1.30M491.5 116.9h1.30M485.5 116.1h1.30M496.1 117.1h1.30M486.1 116.4h1.30M491.7 116.9h1.30M496.6 117.1h1.30M496.5 117.3h1.30M490.9 116.7h1.30M491.0 116.1h1.30M486.3 117.2h1.30M486.4 116.1h1.30M494.2 117.2h1.30M494.5 117.2h1.30M488.8 117.4h1.30M494.1 116.1h1.30M491.2 116.5h1.30M492.8 117.0h1.30M493.9 116.3h1.30M493.9 116.5h1.30M488.8 116.7h1.30M493.5 116.7h1.30M490.2 116.1h1.30M485.9 117.4h1.30M488.4 117.0h1.30M496.3 116.4h1.30M493.4 116.7h1.30M486.7 116.9h1.30M486.4 116.4h1.30M494.5 117.0h1.30M119.7 199.7h1.30M119.9 200.6h1.30M121.6 199.6h1.30M120.2 201.4h1.30M120.0 200.4h1.30M116.4 200.8h1.30M117.9 200.3h1.30M116.7 200.7h1.30M117.4 200.1h1.30M115.3 201.0h1.30M112.9 200.0h1.30M114.5 200.2h1.30M119.6 201.2h1.30M119.0 200.9h1.30M121.5 199.5h1.30M115.6 200.9h1.30M118.8 199.5h1.30M119.1 201.2h1.30M119.8 201.3h1.30M119.5 199.8h1.30M114.4 199.6h1.30M115.6 199.6h1.30M123.6 201.3h1.30M121.4 200.8h1.30M116.0 199.7h1.30M121.8 200.6h1.30M121.1 201.1h1.30M114.8 199.6h1.30M118.2 201.0h1.30M117.5 200.1h1.30M119.9 199.7h1.30M122.0 201.1h1.30M118.2 200.4h1.30M117.9 200.8h1.30M113.3 199.7h1.30M112.6 199.9h1.30M313.6 201.3h1.30M310.5 201.2h1.30M302.5 200.7h1.30M301.6 200.6h1.30M300.0 199.6h1.30M298.2 199.5h1.30M304.3 201.0h1.30M298.7 200.1h1.30M301.5 200.5h1.30M302.4 200.7h1.30M308.4 199.5h1.30M304.2 201.4h1.30M306.4 199.9h1.30M309.5 199.7h1.30M305.9 200.8h1.30M306.0 201.2h1.30M302.1 200.3h1.30M307.9 200.8h1.30M306.7 199.5h1.30M304.1 200.0h1.30M309.8 199.5h1.30M312.1 201.2h1.30M306.6 201.1h1.30M305.2 200.9h1.30M306.9 201.3h1.30M301.7 200.0h1.30M309.6 199.6h1.30M303.6 200.5h1.30M299.3 200.4h1.30M300.5 199.9h1.30M305.0 199.9h1.30M310.7 201.2h1.30M306.8 200.6h1.30M310.8 200.5h1.30M309.2 199.5h1.30M300.3 200.8h1.30M302.7 200.4h1.30M307.4 201.3h1.30M306.0 200.1h1.30M311.5 200.4h1.30M309.1 201.3h1.30M304.5 201.0h1.30M301.0 199.6h1.30M310.4 201.3h1.30M307.1 201.0h1.30M310.1 200.7h1.30M301.7 200.1h1.30M307.3 200.3h1.30M476.3 200.2h1.30M475.0 200.0h1.30M482.6 201.2h1.30M481.5 200.5h1.30M481.5 201.2h1.30M473.6 200.5h1.30M481.9 201.0h1.30M480.2 201.2h1.30M477.3 200.5h1.30M475.4 200.0h1.30M479.3 201.2h1.30M476.2 201.2h1.30M481.8 200.1h1.30M475.9 199.6h1.30M474.9 200.3h1.30M476.1 201.2h1.30M476.0 200.7h1.30M478.0 200.0h1.30M479.2 199.9h1.30M474.4 199.5h1.30M477.3 199.8h1.30M475.2 200.3h1.30M475.1 199.8h1.30M477.1 200.3h1.30M476.9 199.7h1.30M477.2 201.2h1.30M481.4 200.5h1.30M479.9 199.8h1.30M478.4 199.6h1.30"/><path stroke="#23d7e0" stroke-width="1.60" d="M446.7 32.5h1.60M442.3 33.3h1.60M455.6 33.3h1.60M15.2 116.6h1.60M20.7 117.1h1.60M26.2 115.8h1.60M31.8 116.6h1.60M37.3 117.1h1.60M39.7 115.8h1.60M42.1 115.5h1.60M54.0 116.4h1.60M259.7 116.2h1.60M71.3 200.2h1.60M73.3 200.9h1.60M75.3 200.2h1.60M438.6 200.9h1.60M441.3 200.9h1.60M444.0 200.9h1.60M449.4 200.2h1.60M454.8 200.2h1.60M427.7 200.4h1.60"/><path stroke="#18cde4" stroke-width="1.30" d="M112.7 30.6h1.30M108.1 30.5h1.30M117.0 30.4h1.30M121.9 31.3h1.30M108.5 30.7h1.30M114.2 30.6h1.30M117.2 30.7h1.30M104.4 29.6h1.30M106.9 30.0h1.30M118.6 31.0h1.30M116.7 31.0h1.30M122.1 30.9h1.30M116.3 29.6h1.30M119.3 29.7h1.30M111.4 31.2h1.30M116.1 30.2h1.30M111.0 29.8h1.30M110.6 31.4h1.30M106.3 30.3h1.30M105.7 30.2h1.30M122.9 31.0h1.30M119.4 31.2h1.30M120.2 30.0h1.30M113.9 29.8h1.30M122.2 30.7h1.30M118.2 31.2h1.30M118.0 30.8h1.30M114.4 30.4h1.30M116.0 30.1h1.30M111.6 30.3h1.30M106.5 30.0h1.30M122.1 30.9h1.30M111.7 29.7h1.30M116.4 29.9h1.30M117.9 30.3h1.30M120.1 29.7h1.30M121.0 30.7h1.30M122.2 31.4h1.30M122.8 30.9h1.30M120.9 30.6h1.30M111.5 31.0h1.30M109.5 29.7h1.30M111.4 30.8h1.30M117.4 30.9h1.30M112.3 31.3h1.30M112.1 30.3h1.30M104.4 29.8h1.30M110.0 30.1h1.30M118.5 30.4h1.30M116.9 30.5h1.30M115.7 30.7h1.30M107.0 29.9h1.30M114.9 29.8h1.30M113.1 30.9h1.30M123.6 31.4h1.30M120.3 30.2h1.30M115.6 29.9h1.30M113.0 30.3h1.30M114.0 30.3h1.30M108.6 30.5h1.30M113.5 30.6h1.30M117.1 29.9h1.30M106.5 30.7h1.30M118.4 30.9h1.30M104.0 29.7h1.30M117.7 30.1h1.30M112.6 30.2h1.30M110.3 29.8h1.30M111.5 29.9h1.30M114.0 29.6h1.30M115.1 30.1h1.30M105.8 30.5h1.30M119.5 29.8h1.30M287.7 30.6h1.30M290.0 30.7h1.30M297.5 30.5h1.30M294.7 31.2h1.30M294.3 30.8h1.30M291.9 31.4h1.30M294.6 30.3h1.30M288.5 30.7h1.30M291.6 31.3h1.30M292.5 30.7h1.30M287.4 29.8h1.30M296.4 31.0h1.30M290.6 29.6h1.30M291.8 31.2h1.30M294.1 31.4h1.30M288.6 31.1h1.30M297.2 30.7h1.30M290.4 31.3h1.30M285.9 29.7h1.30M287.3 30.4h1.30M297.6 30.7h1.30M294.2 31.1h1.30M288.5 30.3h1.30M290.1 30.4h1.30M293.6 29.7h1.30M290.0 30.2h1.30M289.6 29.9h1.30M296.4 30.9h1.30M293.1 30.2h1.30M293.8 31.1h1.30M482.5 30.5h1.30M488.7 30.4h1.30M484.0 29.9h1.30M485.1 31.4h1.30M482.2 29.6h1.30M480.5 29.8h1.30M482.9 30.3h1.30M481.1 30.2h1.30M485.7 29.9h1.30M489.4 30.8h1.30M477.8 29.7h1.30M478.7 30.2h1.30M479.1 30.6h1.30M480.5 29.7h1.30M484.6 30.4h1.30M482.1 30.6h1.30M488.1 31.4h1.30M478.0 30.1h1.30M484.0 31.2h1.30M484.6 30.7h1.30M486.4 30.3h1.30M480.8 29.6h1.30M481.4 30.2h1.30M484.6 29.7h1.30M487.8 29.8h1.30M486.9 30.0h1.30M480.7 30.9h1.30M482.9 31.0h1.30M484.4 29.8h1.30M485.9 30.8h1.30M479.7 30.1h1.30M480.5 31.3h1.30M485.4 31.4h1.30M481.8 30.8h1.30M480.8 30.1h1.30M486.6 31.5h1.30M488.5 30.4h1.30M111.5 114.2h1.30M110.7 114.1h1.30M107.4 113.8h1.30M116.8 115.4h1.30M115.4 114.5h1.30M112.5 114.4h1.30M114.0 114.8h1.30M111.2 113.7h1.30M111.6 113.7h1.30M116.4 115.2h1.30M116.6 115.2h1.30M113.0 114.8h1.30M115.4 113.5h1.30M113.5 114.6h1.30M115.3 115.0h1.30M112.5 114.4h1.30M111.6 115.0h1.30M112.5 114.4h1.30M108.3 113.8h1.30M113.2 115.1h1.30M110.3 115.1h1.30M117.9 115.0h1.30M113.7 114.7h1.30M114.2 115.2h1.30M112.9 114.6h1.30M114.6 113.9h1.30M112.0 113.8h1.30M109.1 114.2h1.30M114.9 114.0h1.30M112.2 115.0h1.30M114.9 115.0h1.30M112.9 114.1h1.30M109.6 114.2h1.30M112.2 114.9h1.30M110.3 113.8h1.30M111.9 114.6h1.30M109.2 114.0h1.30M109.1 113.6h1.30M110.9 115.0h1.30M108.0 114.1h1.30M110.8 114.1h1.30M304.7 114.7h1.30M304.4 114.3h1.30M303.2 115.0h1.30M296.6 113.6h1.30M296.8 114.1h1.30M305.0 113.7h1.30M304.9 115.2h1.30M294.8 113.9h1.30M296.9 115.4h1.30M294.8 114.3h1.30M302.6 114.9h1.30M305.7 114.9h1.30M301.3 115.0h1.30M297.6 114.6h1.30M295.6 114.3h1.30M305.9 114.8h1.30M298.5 113.7h1.30M302.6 113.5h1.30M302.6 114.5h1.30M305.1 114.4h1.30M306.9 115.1h1.30M305.4 114.9h1.30M297.8 115.4h1.30M297.9 114.7h1.30M297.8 113.7h1.30M298.2 114.3h1.30M303.0 114.9h1.30M303.0 114.5h1.30M295.8 114.0h1.30M301.1 115.1h1.30M298.3 114.2h1.30M296.2 114.6h1.30M301.3 114.8h1.30M301.7 113.6h1.30M300.8 114.8h1.30M297.9 113.5h1.30M305.2 114.8h1.30M305.0 114.0h1.30M299.0 114.6h1.30M489.1 113.8h1.30M486.0 115.2h1.30M485.5 113.7h1.30M484.6 114.5h1.30M490.7 114.5h1.30M481.6 115.0h1.30M491.3 114.1h1.30M484.0 113.8h1.30M486.0 114.8h1.30M494.5 115.3h1.30M485.7 115.3h1.30M482.7 113.8h1.30M492.1 115.0h1.30M492.9 114.3h1.30M489.0 115.2h1.30M486.8 113.7h1.30M489.7 115.1h1.30M488.8 113.5h1.30M491.8 114.7h1.30M485.6 114.6h1.30M480.4 114.2h1.30M480.9 114.0h1.30M481.4 114.0h1.30M489.6 115.0h1.30M486.1 113.5h1.30M488.4 115.1h1.30M483.4 113.6h1.30M491.3 115.3h1.30M488.9 113.8h1.30M486.9 115.4h1.30M487.9 113.5h1.30M493.1 115.2h1.30M481.6 114.5h1.30M483.2 113.5h1.30M479.4 113.7h1.30M481.1 114.6h1.30M487.1 114.4h1.30M485.3 114.1h1.30M488.0 113.5h1.30M492.6 115.3h1.30M484.8 115.2h1.30M490.7 113.8h1.30M483.7 115.2h1.30M481.1 114.4h1.30M490.7 113.5h1.30M491.0 113.6h1.30M487.0 115.2h1.30M110.6 198.4h1.30M118.9 197.6h1.30M114.2 198.3h1.30M117.0 198.8h1.30M113.0 198.3h1.30M119.3 199.2h1.30M110.9 198.1h1.30M112.9 197.9h1.30M116.1 198.0h1.30M117.5 197.8h1.30M120.2 198.6h1.30M112.2 198.0h1.30M111.6 198.6h1.30M110.8 198.9h1.30M120.3 199.0h1.30M120.0 198.7h1.30M118.6 197.7h1.30M116.3 198.9h1.30M115.1 197.7h1.30M118.0 197.8h1.30M112.9 198.2h1.30M117.3 198.1h1.30M116.0 199.2h1.30M117.4 198.3h1.30M110.9 197.6h1.30M118.3 198.9h1.30M110.1 198.1h1.30M114.9 198.9h1.30M112.8 197.6h1.30M113.2 197.5h1.30M119.3 198.6h1.30M305.5 197.8h1.30M309.1 199.3h1.30M304.0 197.8h1.30M302.4 197.4h1.30M298.5 198.3h1.30M306.4 198.9h1.30M301.5 198.9h1.30M307.6 198.0h1.30M306.0 198.2h1.30M298.8 198.5h1.30M307.3 199.3h1.30M299.0 197.8h1.30M301.3 199.1h1.30M305.7 198.9h1.30M298.8 199.2h1.30M299.8 197.4h1.30M298.0 198.2h1.30M301.7 198.9h1.30M304.9 198.6h1.30M307.0 198.5h1.30M307.7 198.6h1.30M300.4 197.6h1.30M296.6 197.8h1.30M297.5 198.9h1.30M303.6 198.6h1.30M301.0 198.4h1.30M302.8 198.1h1.30M305.6 198.1h1.30M298.9 198.1h1.30M306.2 198.5h1.30M302.4 197.8h1.30M301.0 198.0h1.30M303.0 197.6h1.30M303.5 197.7h1.30M305.4 198.5h1.30M307.2 198.4h1.30M301.3 198.2h1.30M299.9 198.0h1.30M309.0 199.2h1.30M298.6 198.9h1.30M308.8 199.1h1.30M308.5 198.8h1.30M302.6 199.3h1.30M472.7 197.5h1.30M473.3 198.9h1.30M477.6 198.8h1.30M473.3 197.9h1.30M477.3 198.0h1.30M477.0 199.2h1.30M477.9 198.1h1.30M473.0 198.4h1.30M473.5 199.3h1.30M475.3 199.3h1.30M475.2 198.3h1.30M472.4 198.1h1.30M477.9 198.8h1.30M471.8 198.3h1.30M477.4 198.5h1.30M473.0 197.8h1.30M475.7 198.9h1.30M470.8 198.4h1.30M474.7 198.7h1.30M473.0 199.0h1.30M475.4 197.5h1.30M475.1 199.3h1.30M475.2 198.4h1.30M478.1 198.6h1.30M477.0 198.5h1.30"/><path stroke="#18cde4" stroke-width="1.60" d="M446.7 30.5h1.60M454.5 31.0h1.60M45.2 115.0h1.60M53.1 114.2h1.60M66.9 113.5h1.60M54.9 115.0h1.60M59.7 113.6h1.60M262.4 114.8h1.60M453.9 115.0h1.60M449.2 114.0h1.60M73.3 198.2h1.60M78.0 198.9h1.60M67.7 198.5h1.60M243.9 198.2h1.60M244.3 198.0h1.60M430.6 197.5h1.60M441.3 197.5h1.60M441.3 198.9h1.60M444.0 198.2h1.60M446.7 198.9h1.60M449.4 198.2h1.60"/><path stroke="#0ec3e7" stroke-width="1.30" d="M104.2 29.1h1.30M109.1 28.1h1.30M103.4 28.4h1.30M111.0 29.3h1.30M101.3 29.0h1.30M98.2 28.3h1.30M110.4 29.5h1.30M101.4 27.9h1.30M111.1 28.7h1.30M106.5 28.7h1.30M108.7 27.8h1.30M102.7 27.9h1.30M105.3 29.0h1.30M118.4 29.0h1.30M102.4 28.5h1.30M116.2 29.1h1.30M104.5 28.7h1.30M112.0 28.1h1.30M110.2 27.9h1.30M107.1 29.1h1.30M115.5 28.8h1.30M107.0 29.1h1.30M107.8 29.1h1.30M100.7 28.5h1.30M96.2 28.4h1.30M104.1 29.3h1.30M111.2 28.7h1.30M99.6 28.2h1.30M103.8 28.0h1.30M110.7 28.5h1.30M113.6 29.3h1.30M98.8 28.2h1.30M107.5 29.0h1.30M108.7 28.5h1.30M107.0 29.5h1.30M103.6 29.2h1.30M111.2 28.6h1.30M113.7 28.7h1.30M99.6 29.1h1.30M112.9 28.9h1.30M102.8 28.4h1.30M108.4 28.4h1.30M98.6 28.1h1.30M104.5 28.8h1.30M109.9 29.1h1.30M105.0 29.0h1.30M110.9 29.0h1.30M96.5 28.5h1.30M104.1 28.3h1.30M117.0 29.3h1.30M113.0 28.4h1.30M102.4 28.6h1.30M112.9 28.9h1.30M109.5 28.0h1.30M112.3 28.7h1.30M111.0 29.1h1.30M110.0 28.0h1.30M110.3 29.4h1.30M109.3 28.8h1.30M102.2 29.0h1.30M111.3 29.5h1.30M109.7 28.6h1.30M98.1 28.8h1.30M115.4 28.8h1.30M100.0 29.0h1.30M110.3 28.9h1.30M105.4 28.3h1.30M283.4 28.4h1.30M293.7 29.5h1.30M285.0 29.5h1.30M289.6 28.7h1.30M292.1 29.0h1.30M288.0 28.7h1.30M288.2 29.3h1.30M285.9 29.1h1.30M289.2 28.8h1.30M285.1 28.4h1.30M283.1 28.0h1.30M289.4 28.3h1.30M290.8 28.8h1.30M285.9 29.4h1.30M288.0 29.1h1.30M294.6 29.5h1.30M288.1 28.6h1.30M293.3 28.7h1.30M286.3 28.8h1.30M290.5 28.9h1.30M285.2 28.7h1.30M294.6 29.4h1.30M285.8 29.2h1.30M286.0 28.7h1.30M286.6 29.2h1.30M294.1 29.2h1.30M286.7 29.5h1.30M291.1 29.4h1.30M293.2 28.7h1.30M286.0 27.9h1.30M291.8 29.2h1.30M289.7 28.1h1.30M287.6 28.2h1.30M290.9 28.4h1.30M291.7 29.4h1.30M288.2 27.9h1.30M292.2 28.9h1.30M286.0 28.2h1.30M295.2 29.4h1.30M482.6 29.3h1.30M483.0 29.2h1.30M475.4 29.1h1.30M476.7 29.2h1.30M476.6 29.3h1.30M474.5 28.2h1.30M481.5 29.0h1.30M477.9 28.6h1.30M486.9 29.2h1.30M482.5 28.9h1.30M479.3 28.3h1.30M480.9 28.0h1.30M475.0 28.3h1.30M481.9 28.7h1.30M478.5 28.2h1.30M485.1 28.6h1.30M481.6 28.8h1.30M485.2 29.1h1.30M473.5 27.9h1.30M478.8 28.8h1.30M478.0 28.8h1.30M479.0 29.1h1.30M476.7 27.9h1.30M474.3 28.3h1.30M480.6 29.5h1.30M473.7 28.4h1.30M482.7 28.5h1.30M477.7 28.7h1.30M481.7 28.0h1.30M485.9 28.7h1.30M474.4 28.2h1.30M476.8 27.9h1.30M475.1 28.1h1.30M480.5 29.3h1.30M481.1 28.5h1.30M475.7 28.8h1.30M475.5 28.9h1.30M479.9 28.1h1.30M483.9 28.6h1.30M479.6 28.7h1.30M109.1 111.8h1.30M110.3 111.8h1.30M112.9 111.9h1.30M107.4 113.4h1.30M110.6 111.9h1.30M113.2 112.7h1.30M115.0 113.1h1.30M114.5 113.3h1.30M114.3 113.1h1.30M107.0 111.8h1.30M110.0 113.3h1.30M107.4 112.8h1.30M106.2 112.4h1.30M110.7 112.5h1.30M112.8 112.7h1.30M107.5 111.8h1.30M108.7 111.9h1.30M112.1 113.1h1.30M112.0 113.3h1.30M304.7 113.4h1.30M296.8 113.0h1.30M302.1 112.8h1.30M303.2 113.3h1.30M292.2 112.9h1.30M294.7 112.4h1.30M294.2 113.0h1.30M302.2 113.2h1.30M295.5 112.6h1.30M300.8 113.4h1.30M296.5 112.4h1.30M296.7 113.4h1.30M300.1 113.1h1.30M297.4 111.9h1.30M299.5 113.1h1.30M298.3 112.4h1.30M299.1 113.2h1.30M292.9 113.1h1.30M294.6 112.5h1.30M294.3 112.8h1.30M295.2 112.1h1.30M295.1 112.0h1.30M295.6 112.3h1.30M300.1 112.1h1.30M294.1 112.8h1.30M294.1 113.2h1.30M295.2 113.0h1.30M296.2 112.9h1.30M301.5 113.2h1.30M293.7 113.3h1.30M299.3 112.5h1.30M303.0 113.4h1.30M479.8 112.1h1.30M479.2 112.0h1.30M488.0 113.3h1.30M487.1 112.5h1.30M482.4 112.7h1.30M480.7 112.4h1.30M487.7 112.6h1.30M478.4 113.0h1.30M480.7 112.7h1.30M484.8 113.1h1.30M487.1 113.0h1.30M487.5 113.1h1.30M488.2 113.4h1.30M487.5 112.4h1.30M485.9 113.3h1.30M481.8 112.6h1.30M487.5 112.5h1.30M479.3 112.4h1.30M478.3 112.6h1.30M480.8 113.2h1.30M477.2 111.9h1.30M481.0 112.1h1.30M484.2 112.4h1.30M482.9 111.8h1.30M487.3 112.8h1.30M484.9 112.0h1.30M476.6 112.2h1.30M487.5 112.9h1.30M484.4 112.6h1.30M477.9 112.6h1.30M483.3 113.3h1.30M107.4 195.7h1.30M110.9 196.4h1.30M115.3 197.2h1.30M111.4 196.6h1.30M110.3 196.3h1.30M114.0 196.1h1.30M115.8 196.5h1.30M111.2 195.8h1.30M113.9 195.9h1.30M116.0 197.0h1.30M113.5 196.2h1.30M114.2 196.1h1.30M116.4 196.3h1.30M113.9 196.8h1.30M111.1 195.8h1.30M109.1 196.9h1.30M107.7 196.7h1.30M115.0 197.3h1.30M115.2 196.3h1.30M110.7 196.9h1.30M114.0 197.0h1.30M115.6 197.4h1.30M113.2 197.1h1.30M114.6 197.0h1.30M107.2 196.3h1.30M115.8 196.2h1.30M112.4 197.2h1.30M111.8 197.2h1.30M112.8 196.3h1.30M111.3 196.3h1.30M108.4 196.2h1.30M115.4 196.9h1.30M109.5 197.1h1.30M300.2 196.8h1.30M303.9 197.1h1.30M301.2 197.0h1.30M305.4 196.1h1.30M304.5 197.2h1.30M297.6 196.0h1.30M295.1 196.5h1.30M304.0 196.7h1.30M300.9 195.9h1.30M294.7 197.4h1.30M301.6 196.4h1.30M299.2 196.4h1.30M293.8 196.2h1.30M295.8 196.6h1.30M303.2 195.9h1.30M295.6 195.8h1.30M303.2 195.8h1.30M294.0 196.4h1.30M298.2 197.1h1.30M295.1 196.5h1.30M304.1 196.1h1.30M305.3 197.2h1.30M297.7 196.2h1.30M296.2 197.2h1.30M301.8 196.4h1.30M300.7 195.9h1.30M305.2 196.1h1.30M298.5 195.9h1.30M305.4 196.4h1.30M303.1 196.7h1.30M295.7 196.1h1.30M300.7 195.9h1.30M302.6 196.8h1.30M301.8 196.9h1.30M475.5 197.2h1.30M470.8 196.9h1.30M476.5 196.7h1.30M470.0 196.8h1.30M475.6 196.6h1.30M473.6 195.9h1.30M476.4 197.4h1.30M475.8 196.9h1.30M473.6 196.4h1.30M469.2 196.3h1.30M469.8 196.4h1.30M476.1 196.9h1.30M476.0 197.0h1.30M474.7 197.3h1.30M475.1 196.9h1.30M469.5 196.6h1.30M475.4 196.4h1.30M470.1 196.9h1.30M473.0 197.1h1.30M469.3 196.0h1.30M475.6 196.6h1.30M469.4 196.1h1.30M472.0 196.2h1.30M474.5 196.0h1.30M473.2 197.4h1.30M467.7 195.8h1.30M471.3 196.1h1.30M471.4 197.3h1.30M472.6 195.8h1.30M471.7 196.9h1.30M471.7 196.7h1.30M467.7 196.3h1.30M474.2 195.8h1.30M469.5 197.2h1.30"/><path stroke="#0ec3e7" stroke-width="1.60" d="M263.7 27.9h1.60M446.7 28.8h1.60M69.9 112.3h1.60M259.7 112.1h1.60M262.4 112.1h1.60M451.9 113.0h1.60M450.2 112.0h1.60M75.3 196.2h1.60M71.3 196.9h1.60M236.7 197.3h1.60M238.5 197.3h1.60M234.8 196.4h1.60M438.6 196.9h1.60M454.8 196.9h1.60"/><path stroke="#03b7eb" stroke-width="1.30" d="M110.6 27.6h1.30M107.8 27.4h1.30M95.7 26.8h1.30M100.7 27.7h1.30M102.5 27.7h1.30M109.7 27.8h1.30M95.6 26.7h1.30M96.4 27.5h1.30M97.5 27.4h1.30M97.6 27.6h1.30M95.7 27.3h1.30M105.3 27.1h1.30M101.0 26.8h1.30M105.6 27.4h1.30M93.8 26.9h1.30M97.5 27.2h1.30M106.7 27.7h1.30M97.8 27.5h1.30M102.4 26.2h1.30M101.0 27.1h1.30M101.3 27.6h1.30M100.1 26.9h1.30M94.7 26.4h1.30M103.1 26.5h1.30M107.9 27.3h1.30M97.0 26.9h1.30M95.1 27.1h1.30M100.8 27.4h1.30M97.5 27.2h1.30M108.7 27.1h1.30M102.9 27.0h1.30M97.4 26.8h1.30M101.3 27.6h1.30M95.0 27.2h1.30M107.2 26.7h1.30M96.7 27.3h1.30M101.8 26.7h1.30M109.0 27.6h1.30M101.1 27.8h1.30M99.9 27.1h1.30M106.1 27.7h1.30M98.7 27.8h1.30M103.9 27.4h1.30M110.1 27.8h1.30M101.3 27.4h1.30M99.1 26.2h1.30M102.2 26.8h1.30M105.9 27.7h1.30M105.6 27.7h1.30M95.4 26.3h1.30M96.2 27.1h1.30M98.9 27.8h1.30M93.6 26.9h1.30M101.2 27.6h1.30M104.0 26.5h1.30M105.5 27.8h1.30M285.1 27.3h1.30M288.0 27.3h1.30M288.2 26.4h1.30M288.0 26.9h1.30M282.5 27.6h1.30M285.4 27.6h1.30M288.4 27.5h1.30M290.9 27.4h1.30M286.2 27.2h1.30M284.9 26.6h1.30M289.7 26.8h1.30M288.1 26.6h1.30M285.8 27.5h1.30M284.8 27.4h1.30M286.2 27.7h1.30M283.5 26.4h1.30M282.6 27.4h1.30M283.4 27.4h1.30M282.0 26.6h1.30M288.7 26.8h1.30M285.4 27.0h1.30M285.6 26.8h1.30M284.4 27.8h1.30M284.5 26.9h1.30M281.9 26.5h1.30M285.4 26.6h1.30M289.8 27.1h1.30M286.3 26.4h1.30M283.3 26.2h1.30M281.4 26.3h1.30M290.2 27.7h1.30M471.4 26.5h1.30M474.0 26.4h1.30M479.3 26.4h1.30M479.9 26.4h1.30M477.5 27.8h1.30M470.0 26.6h1.30M476.4 27.0h1.30M479.0 27.5h1.30M473.4 26.8h1.30M472.8 26.7h1.30M474.5 27.5h1.30M473.0 26.8h1.30M470.3 26.4h1.30M477.5 27.3h1.30M479.0 26.4h1.30M472.2 26.1h1.30M473.1 26.7h1.30M476.0 26.9h1.30M481.4 27.7h1.30M473.3 26.5h1.30M474.1 26.9h1.30M476.4 27.3h1.30M479.0 27.2h1.30M475.2 26.5h1.30M473.5 26.4h1.30M478.2 27.5h1.30M481.0 27.1h1.30M472.7 26.4h1.30M471.2 26.1h1.30M476.1 26.7h1.30M475.1 26.7h1.30M480.4 27.7h1.30M477.1 27.5h1.30M481.1 27.8h1.30M471.4 26.8h1.30M473.4 27.1h1.30M482.5 27.4h1.30M480.7 26.9h1.30M480.5 27.2h1.30M476.0 27.4h1.30M478.1 26.2h1.30M472.3 26.7h1.30M472.8 26.4h1.30M476.7 27.5h1.30M476.3 27.7h1.30M479.5 27.3h1.30M474.1 27.5h1.30M472.4 27.1h1.30M104.8 111.3h1.30M107.8 110.6h1.30M103.2 110.8h1.30M110.5 111.2h1.30M110.6 110.4h1.30M103.9 111.2h1.30M103.9 111.3h1.30M104.9 110.4h1.30M107.3 110.6h1.30M109.2 111.7h1.30M105.9 110.9h1.30M105.9 111.6h1.30M107.3 110.5h1.30M108.1 110.5h1.30M109.7 111.1h1.30M110.3 111.5h1.30M105.2 111.2h1.30M107.0 110.4h1.30M103.7 110.2h1.30M110.1 111.7h1.30M110.3 111.6h1.30M109.1 110.2h1.30M108.3 111.7h1.30M103.7 111.0h1.30M109.2 110.8h1.30M104.4 111.2h1.30M109.7 111.6h1.30M301.2 111.6h1.30M290.6 110.6h1.30M291.1 111.0h1.30M295.3 111.1h1.30M293.1 110.1h1.30M293.5 111.0h1.30M297.8 111.6h1.30M297.7 111.3h1.30M291.8 110.5h1.30M298.0 110.9h1.30M295.9 111.1h1.30M292.7 111.7h1.30M292.1 111.3h1.30M294.5 111.4h1.30M297.6 111.6h1.30M289.5 110.1h1.30M296.8 111.1h1.30M290.0 110.4h1.30M289.2 111.1h1.30M296.4 111.2h1.30M288.5 110.6h1.30M293.6 111.6h1.30M291.2 111.7h1.30M297.0 111.5h1.30M296.9 110.9h1.30M296.2 111.6h1.30M298.4 111.2h1.30M289.1 110.8h1.30M294.2 110.7h1.30M291.2 110.5h1.30M297.5 111.2h1.30M288.2 110.4h1.30M293.9 110.7h1.30M291.3 111.2h1.30M295.6 111.1h1.30M296.6 111.6h1.30M300.0 111.1h1.30M296.3 110.2h1.30M291.1 110.1h1.30M291.1 110.5h1.30M289.7 110.2h1.30M292.5 111.6h1.30M473.2 110.6h1.30M478.8 111.0h1.30M484.9 111.2h1.30M484.4 111.0h1.30M479.2 110.8h1.30M484.1 111.2h1.30M477.7 110.8h1.30M485.4 111.5h1.30M476.8 110.8h1.30M479.5 111.4h1.30M481.1 111.4h1.30M483.9 111.6h1.30M481.9 110.1h1.30M486.0 111.6h1.30M479.4 110.5h1.30M485.6 110.8h1.30M476.8 110.5h1.30M483.4 110.9h1.30M479.5 111.2h1.30M477.9 110.9h1.30M483.5 110.5h1.30M484.7 110.5h1.30M480.6 110.7h1.30M479.2 110.5h1.30M482.8 110.4h1.30M474.7 110.9h1.30M479.2 110.7h1.30M477.9 110.3h1.30M482.1 111.7h1.30M477.2 110.6h1.30M480.9 111.4h1.30M476.2 110.2h1.30M111.8 195.7h1.30M105.9 194.1h1.30M113.0 194.9h1.30M106.8 195.0h1.30M111.4 194.7h1.30M111.0 194.8h1.30M113.6 195.7h1.30M112.4 194.2h1.30M113.7 194.9h1.30M107.7 195.6h1.30M106.8 194.6h1.30M107.3 195.7h1.30M107.8 194.9h1.30M112.0 194.5h1.30M109.1 195.5h1.30M111.5 195.1h1.30M105.7 195.1h1.30M107.6 194.2h1.30M105.2 194.8h1.30M110.5 195.0h1.30M106.8 194.4h1.30M110.2 195.3h1.30M108.0 194.2h1.30M112.7 195.4h1.30M108.0 195.4h1.30M107.7 195.6h1.30M109.2 194.9h1.30M112.1 194.4h1.30M107.6 195.3h1.30M107.6 194.5h1.30M108.8 194.3h1.30M111.7 194.5h1.30M111.6 194.3h1.30M109.6 194.5h1.30M114.8 195.3h1.30M110.8 195.1h1.30M114.9 195.5h1.30M110.6 195.1h1.30M109.2 195.0h1.30M111.6 194.6h1.30M106.2 194.3h1.30M111.8 195.4h1.30M111.5 195.2h1.30M106.3 194.2h1.30M113.2 195.7h1.30M106.8 194.5h1.30M107.8 195.6h1.30M106.6 195.2h1.30M299.6 194.3h1.30M296.4 195.3h1.30M301.1 194.7h1.30M295.0 194.1h1.30M296.6 195.5h1.30M296.4 194.1h1.30M303.1 195.7h1.30M295.5 195.5h1.30M296.2 195.0h1.30M300.7 194.1h1.30M294.8 195.0h1.30M292.5 194.6h1.30M302.4 194.5h1.30M292.3 194.7h1.30M294.9 195.4h1.30M296.6 194.4h1.30M298.4 194.8h1.30M295.4 195.6h1.30M297.8 195.6h1.30M293.0 194.0h1.30M300.0 195.5h1.30M301.1 195.0h1.30M293.7 194.1h1.30M298.5 194.3h1.30M294.9 195.2h1.30M295.8 195.3h1.30M298.6 194.7h1.30M293.9 195.0h1.30M301.7 195.3h1.30M295.0 194.9h1.30M293.2 195.6h1.30M298.0 194.2h1.30M298.4 194.8h1.30M300.5 195.4h1.30M296.4 195.7h1.30M298.4 195.4h1.30M301.5 194.7h1.30M294.5 195.3h1.30M296.3 194.5h1.30M296.9 195.6h1.30M302.1 195.7h1.30M294.5 194.8h1.30M291.5 194.3h1.30M294.4 194.7h1.30M294.3 194.3h1.30M291.2 194.5h1.30M302.6 195.7h1.30M297.6 194.8h1.30M470.8 194.9h1.30M469.1 195.6h1.30M468.2 194.5h1.30M467.3 195.4h1.30M471.9 194.7h1.30M469.6 195.1h1.30M472.0 195.1h1.30M467.3 195.1h1.30M470.8 194.3h1.30M467.9 194.5h1.30M470.9 194.7h1.30M467.5 195.4h1.30M468.3 195.3h1.30M469.3 194.4h1.30M470.7 195.4h1.30M467.4 194.3h1.30M472.3 195.7h1.30M467.6 195.2h1.30M466.9 194.2h1.30M468.9 195.6h1.30M472.6 195.0h1.30M471.8 195.3h1.30M466.4 195.4h1.30M470.6 195.4h1.30"/><path stroke="#03b7eb" stroke-width="1.60" d="M75.8 111.7h1.60M72.8 111.7h1.60M67.5 111.1h1.60M64.5 110.5h1.60M453.9 111.0h1.60M73.3 194.2h1.60M78.0 195.5h1.60M246.5 194.1h1.60M248.2 194.7h1.60M438.6 194.8h1.60M444.0 195.5h1.60"/><path stroke="#08abee" stroke-width="1.30" d="M93.8 25.7h1.30M96.5 24.7h1.30M98.3 25.1h1.30M95.6 25.1h1.30M101.9 25.6h1.30M100.0 25.7h1.30M100.2 25.9h1.30M95.3 24.7h1.30M97.1 26.1h1.30M97.2 25.7h1.30M97.2 24.8h1.30M98.8 25.8h1.30M96.1 25.6h1.30M97.9 25.6h1.30M95.0 25.8h1.30M99.3 26.1h1.30M98.7 26.1h1.30M97.1 25.7h1.30M98.8 25.8h1.30M95.0 25.6h1.30M97.4 25.6h1.30M281.9 25.4h1.30M281.6 24.7h1.30M283.1 26.0h1.30M284.6 25.5h1.30M283.1 25.9h1.30M285.5 25.8h1.30M284.9 25.0h1.30M285.7 25.8h1.30M282.7 25.9h1.30M285.3 24.5h1.30M281.3 25.0h1.30M287.2 25.9h1.30M281.3 25.0h1.30M283.7 25.5h1.30M280.5 25.3h1.30M281.9 24.7h1.30M282.8 25.7h1.30M281.1 25.3h1.30M281.1 25.8h1.30M284.3 25.9h1.30M280.2 24.4h1.30M287.3 25.7h1.30M283.9 25.5h1.30M286.5 26.0h1.30M286.2 26.0h1.30M466.8 24.7h1.30M473.6 24.6h1.30M468.7 25.7h1.30M475.6 25.8h1.30M477.7 26.1h1.30M474.9 25.6h1.30M474.1 25.8h1.30M470.0 25.2h1.30M475.0 26.0h1.30M478.7 25.9h1.30M474.2 26.1h1.30M470.0 25.2h1.30M476.7 25.8h1.30M477.0 25.6h1.30M474.9 24.9h1.30M470.2 25.7h1.30M469.5 24.4h1.30M477.1 25.0h1.30M470.1 25.8h1.30M472.5 25.7h1.30M466.0 24.5h1.30M467.4 25.0h1.30M473.0 25.9h1.30M475.3 24.4h1.30M469.6 26.1h1.30M475.3 24.7h1.30M470.0 25.1h1.30M474.7 24.9h1.30M473.8 25.0h1.30M471.0 26.0h1.30M468.6 25.7h1.30M472.9 24.4h1.30M477.0 25.9h1.30M107.4 108.5h1.30M102.4 108.5h1.30M109.4 109.2h1.30M102.6 109.7h1.30M103.2 109.2h1.30M107.2 108.9h1.30M105.7 109.6h1.30M101.9 109.4h1.30M105.0 108.5h1.30M101.1 108.5h1.30M101.4 108.7h1.30M104.3 108.8h1.30M102.7 108.6h1.30M108.3 109.7h1.30M103.6 109.1h1.30M102.3 109.6h1.30M104.0 109.2h1.30M102.3 109.7h1.30M100.6 108.8h1.30M106.0 108.9h1.30M101.8 108.3h1.30M102.8 108.9h1.30M103.5 110.0h1.30M108.2 109.4h1.30M104.9 108.7h1.30M107.2 109.7h1.30M106.1 108.4h1.30M103.8 109.2h1.30M107.0 109.0h1.30M104.8 109.7h1.30M107.2 108.3h1.30M100.8 108.3h1.30M107.4 109.1h1.30M284.9 108.7h1.30M291.8 109.5h1.30M287.8 108.4h1.30M293.7 108.9h1.30M295.0 109.8h1.30M294.7 108.8h1.30M293.0 109.1h1.30M289.7 108.8h1.30M284.8 108.8h1.30M292.4 110.0h1.30M289.3 109.3h1.30M286.3 109.3h1.30M295.7 109.7h1.30M286.6 109.9h1.30M286.1 108.4h1.30M294.4 109.8h1.30M287.4 109.5h1.30M289.7 109.1h1.30M291.1 109.6h1.30M284.5 108.9h1.30M291.8 108.7h1.30M294.1 109.7h1.30M293.2 109.6h1.30M290.0 109.8h1.30M292.6 108.5h1.30M285.1 108.5h1.30M285.6 109.6h1.30M286.0 108.4h1.30M290.2 109.4h1.30M286.9 108.7h1.30M285.9 109.0h1.30M293.4 109.0h1.30M296.5 109.9h1.30M295.0 109.3h1.30M286.5 109.6h1.30M295.8 109.5h1.30M285.5 109.1h1.30M291.4 108.9h1.30M289.9 109.7h1.30M295.2 109.5h1.30M286.6 109.6h1.30M291.9 109.4h1.30M296.7 109.6h1.30M292.7 108.4h1.30M295.7 110.1h1.30M480.3 109.3h1.30M479.3 108.8h1.30M476.4 108.6h1.30M482.1 109.8h1.30M476.1 109.0h1.30M476.8 109.8h1.30M474.1 109.8h1.30M474.1 108.5h1.30M475.9 109.6h1.30M478.6 109.9h1.30M478.4 109.7h1.30M479.8 109.6h1.30M482.6 109.7h1.30M473.3 110.0h1.30M478.2 109.6h1.30M477.6 108.7h1.30M479.2 109.5h1.30M474.9 108.9h1.30M479.1 109.2h1.30M471.1 109.4h1.30M478.0 110.0h1.30M473.5 109.1h1.30M480.9 109.3h1.30M478.2 109.2h1.30M475.5 109.8h1.30M476.4 109.2h1.30M476.7 108.9h1.30M473.4 110.0h1.30M480.4 109.8h1.30M469.9 108.6h1.30M478.5 109.8h1.30M478.8 108.8h1.30M476.8 110.1h1.30M478.1 109.8h1.30M472.9 109.8h1.30M472.5 108.7h1.30M472.7 109.1h1.30M474.2 108.3h1.30M473.0 109.5h1.30M479.7 109.0h1.30M471.7 109.1h1.30M478.7 109.1h1.30M473.9 109.1h1.30M478.7 109.5h1.30M474.5 109.7h1.30M472.3 109.4h1.30M473.1 108.7h1.30M472.6 109.2h1.30M109.8 193.0h1.30M109.0 193.2h1.30M107.6 193.8h1.30M101.7 192.3h1.30M104.0 192.8h1.30M109.1 193.3h1.30M108.6 192.5h1.30M103.1 192.6h1.30M102.3 192.9h1.30M107.8 192.9h1.30M104.0 193.8h1.30M104.9 192.4h1.30M109.1 193.9h1.30M111.0 193.4h1.30M108.0 192.8h1.30M105.1 193.1h1.30M108.4 193.4h1.30M108.7 193.8h1.30M110.5 192.9h1.30M103.1 192.5h1.30M108.9 192.8h1.30M105.6 192.3h1.30M112.1 193.8h1.30M107.4 192.3h1.30M109.6 193.1h1.30M106.2 192.8h1.30M295.7 193.3h1.30M289.0 192.9h1.30M290.8 192.7h1.30M295.5 193.3h1.30M295.9 193.1h1.30M298.7 193.3h1.30M292.3 192.6h1.30M296.0 193.0h1.30M290.4 193.0h1.30M290.0 193.9h1.30M296.5 193.8h1.30M295.5 192.6h1.30M298.7 193.9h1.30M295.0 193.4h1.30M298.2 193.5h1.30M294.2 192.5h1.30M291.6 192.5h1.30M291.1 192.7h1.30M295.4 193.0h1.30M297.4 193.9h1.30M295.0 193.5h1.30M296.5 192.5h1.30M291.0 193.2h1.30M292.1 192.5h1.30M298.3 193.1h1.30M296.6 193.4h1.30M293.1 193.3h1.30M297.4 192.3h1.30M290.8 192.6h1.30M296.2 192.7h1.30M287.9 193.0h1.30M295.7 193.5h1.30M293.6 192.8h1.30M291.9 193.4h1.30M292.9 192.7h1.30M295.1 193.8h1.30M294.0 194.0h1.30M468.7 193.4h1.30M465.1 192.5h1.30M464.1 193.5h1.30M466.4 192.3h1.30M466.8 192.7h1.30M466.4 193.2h1.30M470.7 193.6h1.30M470.7 193.8h1.30M469.2 193.2h1.30M470.2 193.0h1.30M465.8 193.6h1.30M469.7 193.8h1.30M467.8 193.6h1.30M464.9 192.4h1.30M467.9 193.8h1.30M464.9 192.7h1.30M468.4 192.6h1.30M469.6 193.2h1.30M467.2 193.2h1.30"/><path stroke="#08abee" stroke-width="1.60" d="M78.2 109.9h1.60M75.2 108.7h1.60M259.7 109.4h1.60M262.4 109.4h1.60M451.9 109.0h1.60M80.0 192.8h1.60M246.2 193.0h1.60M252.1 192.5h1.60M433.3 193.5h1.60M441.3 193.5h1.60"/><path stroke="#139ef1" stroke-width="1.30" d="M95.5 23.8h1.30M94.0 22.5h1.30M94.3 22.7h1.30M94.5 22.5h1.30M94.5 23.1h1.30M93.9 23.4h1.30M94.2 22.7h1.30M94.8 22.9h1.30M93.9 22.8h1.30M93.8 22.4h1.30M95.2 23.5h1.30M94.6 23.9h1.30M94.2 23.5h1.30M278.5 23.4h1.30M282.0 24.3h1.30M280.5 22.5h1.30M278.5 23.9h1.30M280.7 22.4h1.30M282.9 23.7h1.30M282.4 24.3h1.30M282.7 24.3h1.30M281.8 23.0h1.30M278.6 23.1h1.30M280.0 22.8h1.30M279.0 24.1h1.30M280.6 22.8h1.30M279.9 23.2h1.30M279.7 24.0h1.30M284.4 24.2h1.30M280.5 22.6h1.30M282.7 23.8h1.30M281.9 23.4h1.30M279.2 22.5h1.30M279.7 22.8h1.30M281.4 22.5h1.30M281.4 23.4h1.30M279.9 23.2h1.30M283.6 24.2h1.30M281.8 24.2h1.30M281.1 24.2h1.30M279.4 23.2h1.30M279.3 24.0h1.30M281.8 23.0h1.30M465.5 23.1h1.30M471.6 23.1h1.30M467.6 23.5h1.30M469.8 23.8h1.30M474.1 23.7h1.30M471.1 23.0h1.30M473.9 23.9h1.30M474.2 23.9h1.30M469.7 22.9h1.30M465.9 22.4h1.30M472.2 23.3h1.30M471.8 23.0h1.30M468.9 23.1h1.30M467.0 23.7h1.30M467.8 22.7h1.30M464.2 23.4h1.30M466.2 22.9h1.30M470.1 22.4h1.30M468.5 24.3h1.30M467.7 22.7h1.30M469.1 23.6h1.30M470.2 24.1h1.30M470.0 23.0h1.30M467.8 24.1h1.30M468.6 22.8h1.30M470.6 23.6h1.30M470.0 22.4h1.30M468.9 23.8h1.30M471.2 22.6h1.30M469.7 23.8h1.30M468.1 24.2h1.30M470.7 22.4h1.30M466.2 23.2h1.30M467.8 24.2h1.30M469.2 23.7h1.30M470.6 24.1h1.30M467.0 23.5h1.30M467.7 23.8h1.30M467.6 22.6h1.30M465.2 22.8h1.30M466.1 22.3h1.30M469.3 24.0h1.30M468.0 23.3h1.30M471.4 24.0h1.30M472.0 23.1h1.30M470.9 23.6h1.30M465.5 23.7h1.30M475.3 24.1h1.30M466.9 23.4h1.30M467.5 23.9h1.30M465.7 22.7h1.30M471.4 23.7h1.30M466.9 23.9h1.30M101.0 107.7h1.30M104.2 106.4h1.30M100.4 106.6h1.30M99.0 106.6h1.30M100.1 108.0h1.30M104.0 108.3h1.30M102.5 108.1h1.30M102.5 106.4h1.30M100.1 106.3h1.30M101.6 107.5h1.30M106.9 107.5h1.30M101.6 106.5h1.30M103.9 106.8h1.30M98.7 106.4h1.30M100.7 107.8h1.30M104.0 107.7h1.30M98.3 106.3h1.30M98.7 106.4h1.30M100.3 107.1h1.30M104.7 108.2h1.30M100.2 107.2h1.30M102.5 107.9h1.30M105.0 106.8h1.30M105.1 107.1h1.30M98.9 107.1h1.30M100.1 107.3h1.30M103.9 107.4h1.30M100.9 107.7h1.30M106.2 107.9h1.30M104.5 107.9h1.30M97.3 106.5h1.30M104.3 107.5h1.30M101.8 106.3h1.30M100.4 107.7h1.30M101.3 106.7h1.30M102.6 107.2h1.30M106.2 107.4h1.30M289.0 106.5h1.30M287.9 107.2h1.30M288.5 107.1h1.30M284.4 107.1h1.30M286.1 106.5h1.30M290.8 107.5h1.30M282.8 107.4h1.30M287.4 107.2h1.30M290.4 107.7h1.30M290.1 108.1h1.30M286.3 107.2h1.30M282.3 106.6h1.30M282.2 106.5h1.30M283.6 107.2h1.30M288.1 107.8h1.30M288.0 106.7h1.30M285.5 107.7h1.30M291.5 107.9h1.30M283.3 107.3h1.30M287.4 107.1h1.30M285.1 108.0h1.30M286.1 107.3h1.30M284.2 107.9h1.30M287.4 106.8h1.30M289.0 107.9h1.30M285.7 107.6h1.30M286.1 107.9h1.30M285.6 108.0h1.30M281.7 106.7h1.30M284.3 106.7h1.30M289.6 107.7h1.30M286.6 106.7h1.30M289.7 106.9h1.30M283.8 106.3h1.30M289.4 107.6h1.30M288.0 108.0h1.30M283.9 107.6h1.30M287.0 106.7h1.30M290.5 107.6h1.30M475.4 107.1h1.30M470.6 107.5h1.30M476.4 106.8h1.30M469.1 107.6h1.30M466.2 106.4h1.30M475.2 107.0h1.30M474.0 108.0h1.30M470.8 107.0h1.30M475.7 107.1h1.30M468.4 106.9h1.30M473.0 106.5h1.30M475.4 107.5h1.30M468.5 107.9h1.30M477.5 107.9h1.30M471.2 107.1h1.30M468.6 107.4h1.30M469.2 107.5h1.30M472.7 108.2h1.30M472.8 106.9h1.30M472.4 108.1h1.30M471.5 107.4h1.30M476.2 107.2h1.30M477.1 107.6h1.30M472.9 107.5h1.30M472.7 107.7h1.30M474.3 108.2h1.30M469.1 108.0h1.30M474.0 107.2h1.30M468.6 106.5h1.30M475.7 107.7h1.30M471.9 107.8h1.30M467.0 107.0h1.30M475.3 108.2h1.30M472.0 106.9h1.30M473.9 107.2h1.30M101.1 190.8h1.30M102.1 192.0h1.30M103.2 191.9h1.30M103.4 190.3h1.30M107.3 191.7h1.30M103.9 191.7h1.30M105.2 191.8h1.30M100.2 191.0h1.30M106.0 191.0h1.30M101.4 191.4h1.30M104.6 191.0h1.30M106.3 190.4h1.30M101.9 190.4h1.30M107.2 192.1h1.30M103.4 191.1h1.30M102.5 190.5h1.30M108.7 192.2h1.30M104.0 190.4h1.30M103.8 190.8h1.30M104.2 191.6h1.30M100.2 190.3h1.30M100.6 191.7h1.30M106.0 192.1h1.30M107.8 191.0h1.30M99.5 190.3h1.30M99.3 190.9h1.30M103.5 191.1h1.30M101.0 190.6h1.30M103.4 191.6h1.30M103.6 191.0h1.30M102.1 191.9h1.30M102.3 190.7h1.30M103.3 190.4h1.30M296.1 192.0h1.30M292.3 192.1h1.30M290.0 191.1h1.30M291.6 190.5h1.30M289.1 191.6h1.30M295.6 191.9h1.30M294.5 192.0h1.30M286.9 192.0h1.30M296.7 192.2h1.30M289.1 192.2h1.30M292.1 190.7h1.30M287.0 191.8h1.30M289.2 191.5h1.30M285.4 190.6h1.30M294.4 191.3h1.30M291.4 190.3h1.30M296.0 191.8h1.30M292.6 190.4h1.30M285.9 191.0h1.30M286.9 191.1h1.30M287.4 191.4h1.30M289.0 191.8h1.30M296.9 191.8h1.30M291.8 192.1h1.30M288.9 190.3h1.30M296.2 191.2h1.30M292.8 192.2h1.30M293.8 191.0h1.30M288.9 190.5h1.30M290.8 192.1h1.30M288.1 191.0h1.30M287.5 191.0h1.30M290.5 190.9h1.30M292.8 192.1h1.30M294.1 191.1h1.30M295.1 192.0h1.30M290.9 190.9h1.30M286.2 191.7h1.30M287.8 191.1h1.30M285.7 190.7h1.30M292.4 191.8h1.30M293.0 192.0h1.30M290.4 191.0h1.30M292.0 190.7h1.30M465.9 191.2h1.30M463.7 192.2h1.30M463.7 191.7h1.30M466.3 191.2h1.30M465.8 191.9h1.30M466.8 191.8h1.30M464.4 191.8h1.30M466.0 192.0h1.30M467.2 192.2h1.30M463.5 191.6h1.30M465.3 190.3h1.30M465.7 191.3h1.30M466.2 190.4h1.30M466.6 191.7h1.30M467.1 192.1h1.30M462.6 190.7h1.30M467.1 191.9h1.30M463.4 191.4h1.30M465.2 191.5h1.30"/><path stroke="#139ef1" stroke-width="1.60" d="M72.8 107.0h1.60M75.8 106.4h1.60M78.2 107.0h1.60M259.7 107.4h1.60M262.4 107.4h1.60M453.9 107.0h1.60M75.3 191.5h1.60M82.0 190.8h1.60M255.9 190.8h1.60M243.0 191.0h1.60M244.8 191.0h1.60M244.3 191.4h1.60M444.0 190.8h1.60M446.7 191.5h1.60M427.9 192.2h1.60M441.3 191.5h1.60"/><path stroke="#1e90f4" stroke-width="1.30" d="M93.9 21.3h1.30M95.0 20.5h1.30M94.3 21.4h1.30M93.8 21.2h1.30M279.5 20.5h1.30M279.8 21.5h1.30M281.0 21.7h1.30M280.9 21.6h1.30M279.9 21.6h1.30M280.7 21.2h1.30M278.5 20.7h1.30M281.3 22.2h1.30M279.7 20.4h1.30M279.7 22.1h1.30M279.3 21.1h1.30M464.2 20.5h1.30M464.3 21.9h1.30M464.4 20.5h1.30M463.6 22.0h1.30M465.1 22.3h1.30M464.2 22.1h1.30M462.7 21.1h1.30M468.4 21.7h1.30M463.8 22.1h1.30M463.0 21.9h1.30M464.7 21.0h1.30M468.9 21.1h1.30M467.7 21.1h1.30M464.6 21.7h1.30M469.1 21.8h1.30M465.3 20.9h1.30M466.0 21.3h1.30M464.4 20.6h1.30M467.8 22.2h1.30M466.3 22.3h1.30M101.3 105.8h1.30M98.5 105.8h1.30M101.4 105.7h1.30M102.5 104.8h1.30M100.3 104.7h1.30M100.5 105.7h1.30M103.8 106.1h1.30M98.7 104.8h1.30M97.9 105.7h1.30M98.0 105.2h1.30M96.7 106.1h1.30M102.6 106.1h1.30M101.8 105.3h1.30M100.3 105.1h1.30M98.4 105.5h1.30M99.9 105.5h1.30M100.7 105.2h1.30M97.6 105.7h1.30M100.0 105.0h1.30M99.0 104.9h1.30M101.6 106.0h1.30M101.3 105.0h1.30M98.2 105.1h1.30M100.3 105.0h1.30M99.5 104.4h1.30M101.3 106.0h1.30M97.3 104.7h1.30M98.3 105.4h1.30M102.6 105.8h1.30M104.5 106.1h1.30M102.4 106.3h1.30M101.0 104.6h1.30M98.7 105.8h1.30M99.1 106.0h1.30M96.9 104.8h1.30M100.6 106.1h1.30M102.0 105.3h1.30M283.2 106.2h1.30M280.1 104.6h1.30M284.3 106.1h1.30M279.8 104.4h1.30M279.7 104.5h1.30M282.8 105.3h1.30M281.0 104.7h1.30M284.7 105.0h1.30M283.2 105.3h1.30M285.4 105.5h1.30M285.3 105.0h1.30M281.9 105.3h1.30M282.9 104.6h1.30M284.0 105.1h1.30M279.0 104.5h1.30M285.3 105.6h1.30M287.1 106.2h1.30M284.8 105.1h1.30M284.6 106.1h1.30M288.0 105.9h1.30M284.7 106.2h1.30M282.8 104.7h1.30M286.6 105.4h1.30M285.1 105.2h1.30M284.7 105.1h1.30M280.6 105.5h1.30M279.1 104.6h1.30M285.6 105.7h1.30M282.3 106.2h1.30M280.9 105.6h1.30M286.3 104.9h1.30M283.5 105.4h1.30M282.0 104.4h1.30M472.4 105.5h1.30M467.2 104.8h1.30M468.8 105.5h1.30M466.7 105.1h1.30M473.1 105.6h1.30M465.6 105.4h1.30M466.0 105.5h1.30M464.2 104.4h1.30M467.5 104.4h1.30M465.4 105.2h1.30M471.1 105.6h1.30M472.3 105.6h1.30M466.0 104.5h1.30M469.3 105.7h1.30M472.3 105.1h1.30M475.4 106.2h1.30M472.0 105.2h1.30M466.1 106.1h1.30M467.1 104.3h1.30M467.7 106.0h1.30M473.5 105.8h1.30M470.5 105.3h1.30M469.7 106.1h1.30M468.2 104.8h1.30M474.4 105.9h1.30M465.4 105.3h1.30M466.5 104.9h1.30M471.0 104.8h1.30M467.1 106.1h1.30M468.3 104.5h1.30M470.7 105.4h1.30M465.6 105.2h1.30M467.8 105.9h1.30M465.6 105.2h1.30M468.1 105.6h1.30M472.8 106.2h1.30M466.9 105.5h1.30M471.6 106.0h1.30M100.3 189.3h1.30M103.5 189.4h1.30M101.7 189.1h1.30M101.2 189.4h1.30M98.3 190.2h1.30M104.8 189.4h1.30M101.4 188.5h1.30M101.3 188.7h1.30M102.2 188.3h1.30M98.2 189.3h1.30M103.5 188.6h1.30M99.7 189.1h1.30M101.9 189.5h1.30M101.7 189.1h1.30M98.7 188.9h1.30M96.6 188.7h1.30M99.5 188.8h1.30M104.5 189.4h1.30M97.9 189.2h1.30M101.5 189.5h1.30M100.1 189.6h1.30M100.6 188.9h1.30M101.0 190.0h1.30M100.6 189.0h1.30M98.7 188.6h1.30M98.2 189.0h1.30M97.6 189.4h1.30M104.4 189.8h1.30M98.5 188.8h1.30M101.9 189.1h1.30M99.2 189.9h1.30M99.9 189.5h1.30M98.6 189.1h1.30M99.7 188.9h1.30M100.3 189.2h1.30M102.7 189.3h1.30M285.9 189.0h1.30M288.4 189.9h1.30M289.5 189.7h1.30M290.6 188.7h1.30M287.4 188.7h1.30M287.4 188.3h1.30M291.4 189.3h1.30M284.3 188.5h1.30M291.0 188.8h1.30M283.3 188.3h1.30M291.2 189.2h1.30M288.2 189.7h1.30M286.0 189.6h1.30M287.8 189.0h1.30M287.5 188.3h1.30M292.9 189.6h1.30M292.1 189.6h1.30M285.3 189.1h1.30M282.8 189.0h1.30M290.9 190.0h1.30M291.0 188.6h1.30M287.9 189.5h1.30M288.0 189.0h1.30M289.5 188.4h1.30M288.7 189.3h1.30M285.7 188.5h1.30M291.9 190.0h1.30M284.4 188.4h1.30M291.6 189.3h1.30M282.8 188.2h1.30M283.0 188.5h1.30M287.0 189.7h1.30M288.8 190.2h1.30M288.7 189.2h1.30M289.0 188.4h1.30M287.8 189.1h1.30M290.9 188.2h1.30M285.9 189.0h1.30M464.3 188.5h1.30M464.1 189.0h1.30M464.2 190.1h1.30M464.9 190.1h1.30M463.4 189.9h1.30M465.4 189.3h1.30M463.0 188.6h1.30M462.9 189.1h1.30M464.8 188.4h1.30M464.2 189.9h1.30M463.1 188.5h1.30M464.9 189.6h1.30M466.3 190.1h1.30M465.4 189.1h1.30M462.6 188.6h1.30"/><path stroke="#1e90f4" stroke-width="1.60" d="M78.2 104.6h1.60M72.8 104.6h1.60M451.9 105.0h1.60M80.0 189.5h1.60M259.8 189.2h1.60M252.1 188.6h1.60M441.3 189.5h1.60"/><path stroke="#2982f6" stroke-width="1.30" d="M93.9 20.1h1.30M94.5 19.2h1.30M94.0 18.7h1.30M94.1 19.8h1.30M93.6 19.6h1.30M93.9 19.1h1.30M94.0 18.9h1.30M94.4 20.0h1.30M94.6 18.8h1.30M279.5 19.6h1.30M279.5 19.4h1.30M279.8 18.9h1.30M279.2 19.2h1.30M278.6 20.0h1.30M279.2 19.0h1.30M463.2 18.9h1.30M466.2 19.8h1.30M464.9 20.1h1.30M463.9 20.2h1.30M465.2 18.9h1.30M462.8 19.5h1.30M463.3 20.2h1.30M464.4 18.7h1.30M465.6 19.4h1.30M464.1 19.9h1.30M464.4 20.3h1.30M465.1 19.4h1.30M462.7 19.8h1.30M96.0 104.1h1.30M95.1 103.2h1.30M97.1 103.2h1.30M95.4 104.2h1.30M96.3 103.5h1.30M96.7 103.1h1.30M94.3 103.7h1.30M98.5 104.0h1.30M96.4 103.4h1.30M98.6 102.7h1.30M98.6 103.2h1.30M96.7 103.4h1.30M95.9 103.0h1.30M98.4 103.1h1.30M98.5 103.1h1.30M100.8 103.9h1.30M99.6 103.4h1.30M99.7 103.4h1.30M94.8 103.3h1.30M100.5 103.9h1.30M96.6 103.4h1.30M94.7 103.5h1.30M96.7 102.7h1.30M98.3 103.2h1.30M100.5 103.5h1.30M279.9 104.2h1.30M281.0 104.0h1.30M282.3 103.6h1.30M281.7 103.7h1.30M280.1 103.3h1.30M280.0 103.4h1.30M282.0 103.5h1.30M283.8 104.1h1.30M279.3 103.0h1.30M278.6 103.2h1.30M280.1 104.1h1.30M283.1 103.0h1.30M280.2 103.7h1.30M282.7 103.1h1.30M281.9 103.9h1.30M280.2 104.0h1.30M278.9 103.5h1.30M464.2 103.0h1.30M464.9 102.9h1.30M468.2 103.4h1.30M467.9 103.1h1.30M465.9 103.4h1.30M466.4 102.8h1.30M464.3 104.1h1.30M463.9 102.8h1.30M469.1 104.0h1.30M466.6 103.3h1.30M463.8 102.9h1.30M467.3 103.1h1.30M466.2 103.8h1.30M467.1 103.6h1.30M466.9 102.6h1.30M465.3 103.0h1.30M465.0 102.7h1.30M465.0 103.2h1.30M99.3 187.9h1.30M96.2 188.0h1.30M96.0 186.7h1.30M101.2 187.5h1.30M99.9 187.6h1.30M94.5 186.9h1.30M95.8 188.2h1.30M98.1 187.9h1.30M96.3 186.8h1.30M97.1 188.1h1.30M97.2 187.4h1.30M98.3 187.5h1.30M99.3 188.0h1.30M99.8 187.1h1.30M101.2 187.6h1.30M101.2 187.7h1.30M98.5 186.9h1.30M100.5 187.6h1.30M99.1 187.1h1.30M98.0 186.7h1.30M98.3 187.1h1.30M286.5 187.9h1.30M284.8 188.2h1.30M287.2 186.8h1.30M283.8 186.8h1.30M289.2 187.7h1.30M281.5 186.9h1.30M283.1 187.6h1.30M285.5 186.9h1.30M281.9 187.6h1.30M284.3 186.5h1.30M289.8 187.4h1.30M289.1 188.0h1.30M286.8 186.8h1.30M290.0 187.3h1.30M284.4 186.6h1.30M288.2 187.7h1.30M285.1 187.0h1.30M288.8 188.0h1.30M288.3 187.7h1.30M284.3 187.7h1.30M283.7 188.1h1.30M286.7 187.6h1.30M281.7 186.9h1.30M284.5 187.4h1.30M291.9 188.1h1.30M289.2 186.9h1.30M286.1 186.6h1.30M286.5 187.8h1.30M281.7 187.2h1.30M463.2 187.9h1.30M463.0 187.8h1.30M464.2 187.5h1.30M463.5 186.6h1.30M463.5 186.9h1.30M464.1 187.3h1.30M464.8 187.1h1.30"/><path stroke="#2982f6" stroke-width="1.60" d="M75.8 103.4h1.60M78.2 102.8h1.60M257.6 188.1h1.60M259.8 187.5h1.60M446.7 187.5h1.60M436.0 187.5h1.60M438.6 188.1h1.60"/><path stroke="#3473f8" stroke-width="1.30" d="M279.3 17.7h1.30M278.3 17.3h1.30M278.9 18.2h1.30M278.3 17.3h1.30M279.6 18.3h1.30M279.5 17.3h1.30M278.5 17.1h1.30M464.0 17.2h1.30M464.4 18.0h1.30M462.4 17.8h1.30M463.8 17.8h1.30M462.9 17.0h1.30M463.9 17.3h1.30M463.6 17.4h1.30M462.7 18.4h1.30M465.0 17.7h1.30M94.3 101.8h1.30M96.1 102.1h1.30M96.1 101.3h1.30M97.2 101.7h1.30M94.1 102.2h1.30M94.8 101.1h1.30M96.2 101.9h1.30M94.6 101.7h1.30M98.7 102.5h1.30M94.5 101.3h1.30M95.3 101.9h1.30M97.6 102.0h1.30M98.8 102.5h1.30M281.5 102.4h1.30M280.3 101.9h1.30M280.3 101.6h1.30M280.5 101.0h1.30M280.1 101.2h1.30M278.0 101.3h1.30M280.7 101.5h1.30M280.0 102.4h1.30M279.5 102.1h1.30M280.5 102.2h1.30M282.1 102.2h1.30M278.8 102.3h1.30M280.4 101.6h1.30M278.8 101.3h1.30M281.3 101.9h1.30M280.6 101.9h1.30M465.9 102.3h1.30M465.5 101.7h1.30M465.7 101.1h1.30M464.2 101.2h1.30M465.9 102.3h1.30M467.5 102.6h1.30M465.2 101.8h1.30M463.8 101.1h1.30M465.3 101.6h1.30M464.3 101.7h1.30M465.4 101.5h1.30M463.6 101.1h1.30M463.3 102.3h1.30M94.8 185.7h1.30M96.8 186.0h1.30M94.0 184.9h1.30M94.9 186.1h1.30M98.9 186.3h1.30M95.3 185.0h1.30M97.8 186.1h1.30M99.0 186.2h1.30M95.8 186.3h1.30M98.2 185.7h1.30M96.2 185.8h1.30M94.4 186.0h1.30M96.3 186.5h1.30M93.8 186.0h1.30M96.1 185.4h1.30M97.2 185.5h1.30M96.1 186.0h1.30M96.7 185.1h1.30M94.5 185.0h1.30M96.1 185.8h1.30M95.0 185.3h1.30M95.4 186.4h1.30M96.0 186.4h1.30M287.0 185.1h1.30M284.2 185.7h1.30M286.1 186.2h1.30M286.3 186.4h1.30M284.2 185.3h1.30M284.9 186.2h1.30M285.4 186.2h1.30M282.0 186.3h1.30M286.1 185.6h1.30M283.8 186.0h1.30M281.9 184.9h1.30M284.7 185.9h1.30M282.7 186.0h1.30M287.9 185.9h1.30M281.7 186.5h1.30M285.1 184.9h1.30M284.4 185.5h1.30M288.2 185.9h1.30M285.7 185.2h1.30M284.0 186.3h1.30M286.0 185.1h1.30M284.1 185.7h1.30M287.3 186.3h1.30M286.9 186.2h1.30M283.0 185.3h1.30M281.5 186.3h1.30M284.4 186.1h1.30M282.6 186.5h1.30M283.3 186.0h1.30M289.0 186.4h1.30M284.5 185.2h1.30M286.4 185.7h1.30M288.2 186.3h1.30M279.8 185.3h1.30M282.4 185.9h1.30M464.5 185.3h1.30M463.0 185.7h1.30M462.5 185.6h1.30M463.2 185.5h1.30M463.3 185.9h1.30"/><path stroke="#3473f8" stroke-width="1.60" d="M259.7 101.6h1.60M262.4 102.5h1.60M78.0 185.4h1.60M80.0 185.4h1.60M246.5 185.8h1.60M254.3 185.3h1.60M252.1 186.4h1.60M446.7 185.4h1.60"/><path stroke="#3e64fa" stroke-width="1.30" d="M93.7 16.7h1.30M278.1 16.2h1.30M278.4 16.9h1.30M278.5 16.3h1.30M278.1 16.4h1.30M462.5 16.2h1.30M463.4 16.2h1.30M462.7 16.0h1.30M463.2 16.3h1.30M462.9 15.5h1.30M94.2 99.6h1.30M93.8 100.8h1.30M96.3 99.6h1.30M95.6 100.7h1.30M93.7 99.7h1.30M96.6 100.9h1.30M94.4 99.8h1.30M94.8 100.2h1.30M96.4 100.1h1.30M95.4 100.3h1.30M95.9 99.4h1.30M94.4 99.6h1.30M280.4 100.1h1.30M279.6 100.8h1.30M278.5 100.8h1.30M278.0 99.7h1.30M278.8 100.5h1.30M279.0 100.7h1.30M279.6 100.2h1.30M279.9 99.4h1.30M280.6 100.7h1.30M278.1 100.5h1.30M462.6 100.8h1.30M464.2 100.3h1.30M462.8 100.2h1.30M464.7 100.1h1.30M94.1 184.7h1.30M96.5 184.9h1.30M95.7 184.4h1.30M96.2 183.4h1.30M94.3 184.0h1.30M95.5 184.7h1.30M95.2 184.1h1.30M94.4 184.0h1.30M94.5 184.0h1.30M96.1 184.0h1.30M279.5 183.7h1.30M281.6 183.6h1.30M279.1 183.4h1.30M283.9 184.0h1.30M281.2 184.2h1.30M281.1 183.9h1.30M282.6 184.3h1.30M282.4 183.9h1.30M285.0 183.9h1.30M283.0 184.2h1.30M280.1 183.8h1.30M285.2 184.1h1.30M283.1 184.8h1.30M281.6 183.3h1.30M281.4 183.7h1.30M463.4 183.8h1.30M464.4 184.1h1.30M463.5 183.8h1.30M462.6 183.3h1.30M464.2 183.9h1.30M462.9 184.1h1.30"/><path stroke="#3e64fa" stroke-width="1.60" d="M258.2 184.7h1.60M261.5 183.6h1.60"/><path stroke="#4954fb" stroke-width="1.30" d="M93.8 15.2h1.30M278.1 15.1h1.30M278.9 14.9h1.30M278.9 15.2h1.30M278.5 14.6h1.30M278.5 15.1h1.30M462.9 15.2h1.30M463.9 14.7h1.30M463.6 14.2h1.30M463.8 14.4h1.30M95.3 98.6h1.30M95.5 99.0h1.30M93.9 98.5h1.30M278.9 99.3h1.30M279.1 98.9h1.30M278.5 99.2h1.30M278.8 99.2h1.30M278.1 98.2h1.30M278.6 98.8h1.30M464.3 98.9h1.30M462.6 99.1h1.30M463.7 98.7h1.30M464.7 99.2h1.30M462.5 99.3h1.30M463.5 99.0h1.30M96.0 183.0h1.30M96.0 182.8h1.30M94.0 182.7h1.30M281.1 182.7h1.30M278.5 182.8h1.30M279.3 182.7h1.30M284.2 182.6h1.30M281.7 183.1h1.30M283.6 183.3h1.30M280.1 182.7h1.30M284.9 182.8h1.30M283.5 183.0h1.30M281.7 183.2h1.30M281.1 182.9h1.30M284.5 183.1h1.30M463.1 183.1h1.30M463.0 183.1h1.30M463.1 182.3h1.30M463.8 182.5h1.30M463.3 182.8h1.30"/><path stroke="#4954fb" stroke-width="1.60" d="M250.4 182.5h1.60M258.2 183.1h1.60M444.7 182.8h1.60"/><path stroke="#5443fd" stroke-width="1.30" d="M94.0 14.2h1.30M278.5 13.6h1.30M278.7 13.4h1.30M95.3 98.2h1.30M94.9 98.0h1.30M278.2 97.6h1.30M278.6 97.1h1.30M462.6 97.9h1.30M463.1 97.6h1.30M462.6 97.1h1.30M463.7 97.3h1.30M463.0 97.3h1.30M93.7 181.7h1.30M94.9 181.8h1.30M95.0 181.7h1.30M278.7 181.3h1.30M279.8 182.0h1.30M280.9 181.2h1.30M282.5 182.1h1.30M283.7 181.4h1.30M282.2 181.2h1.30M278.1 181.2h1.30M280.5 181.8h1.30M280.3 181.4h1.30M464.0 181.5h1.30M463.4 182.0h1.30M463.6 181.1h1.30M463.7 181.5h1.30M463.1 181.7h1.30"/><path stroke="#5443fd" stroke-width="1.60" d="M72.8 97.5h1.60M78.2 98.1h1.60M80.0 182.1h1.60M273.4 181.8h1.60M444.7 181.4h1.60M447.4 182.1h1.60"/><path stroke="#5f33fe" stroke-width="1.30" d="M93.8 12.6h1.30M93.6 12.1h1.30M278.1 12.9h1.30M463.4 12.8h1.30M463.0 12.3h1.30M93.6 95.9h1.30M279.2 96.9h1.30M278.5 96.6h1.30M279.4 97.0h1.30M278.8 96.7h1.30M278.6 96.5h1.30M463.6 96.4h1.30M94.9 180.6h1.30M93.8 180.2h1.30M279.4 180.6h1.30M280.4 180.5h1.30M278.9 180.8h1.30M280.0 180.1h1.30M282.2 180.7h1.30M278.6 180.9h1.30M281.6 180.3h1.30M279.4 180.7h1.30M279.9 180.6h1.30M281.6 179.9h1.30M278.2 180.2h1.30M280.4 180.4h1.30M279.2 180.7h1.30M462.5 180.0h1.30M463.9 180.6h1.30M462.7 180.4h1.30M462.6 180.0h1.30M462.4 180.6h1.30"/><path stroke="#5f33fe" stroke-width="1.60" d="M75.8 96.9h1.60M82.0 180.3h1.60M265.9 180.9h1.60M438.6 180.1h1.60M442.0 180.7h1.60"/><path stroke="#6a22fe" stroke-width="1.30" d="M278.7 11.2h1.30M278.2 11.9h1.30M94.4 94.9h1.30M279.0 95.2h1.30M279.2 95.1h1.30M278.3 95.8h1.30M278.2 95.1h1.30M278.3 95.5h1.30M462.5 95.8h1.30M462.9 95.4h1.30M462.5 94.9h1.30M93.7 178.8h1.30M94.2 178.7h1.30M94.1 178.8h1.30M281.8 179.5h1.30M280.3 178.8h1.30M279.4 178.8h1.30M279.0 179.1h1.30M280.4 178.9h1.30M281.3 179.1h1.30M281.7 179.6h1.30M279.6 179.4h1.30M280.9 179.7h1.30M281.2 179.8h1.30M280.2 179.7h1.30M281.4 179.5h1.30M280.0 179.0h1.30M280.5 179.7h1.30M278.8 179.0h1.30M462.7 179.5h1.30M462.8 179.1h1.30M462.6 178.7h1.30M462.5 178.8h1.30"/><path stroke="#6a22fe" stroke-width="1.60" d="M75.3 179.4h1.60M80.0 179.4h1.60M262.0 179.8h1.60M263.7 179.2h1.60"/><path stroke="#7511ff" stroke-width="1.30" d="M93.7 10.2h1.30M94.0 94.0h1.30M93.8 93.7h1.30M93.6 94.1h1.30M93.7 94.3h1.30M94.0 94.0h1.30M278.1 94.1h1.30M278.6 94.0h1.30M278.5 94.0h1.30M280.3 177.5h1.30M278.6 177.9h1.30M278.1 177.8h1.30M281.3 178.5h1.30M463.0 177.5h1.30M462.5 177.9h1.30M462.8 177.7h1.30"/><path stroke="#7511ff" stroke-width="1.60" d="M80.0 177.6h1.60M265.9 178.6h1.60M454.8 178.0h1.60"/><path stroke="#8000ff" stroke-width="1.30" d="M93.9 8.9h1.30M94.1 8.9h1.30M462.8 9.0h1.30M94.2 93.0h1.30M278.9 93.0h1.30M278.7 92.9h1.30M278.5 93.4h1.30M278.4 93.1h1.30M462.9 92.4h1.30M94.2 176.8h1.30M94.1 176.7h1.30M94.2 177.3h1.30M94.0 177.5h1.30M93.8 177.4h1.30M278.5 176.7h1.30M279.2 177.0h1.30"/><path stroke="#8000ff" stroke-width="1.60" d="M78.2 93.3h1.60M259.8 177.0h1.60M263.7 176.4h1.60M446.7 177.4h1.60"/></g>
<g opacity="0.995"><text x="53.0" y="5.0" class="t">Lichess 2013</text><text x="134.2" y="5.0" class="t">Lichess 2013</text><text x="11.2" y="74.5" class="yt">0.0</text><text x="11.2" y="61.8" class="yt">0.2</text><text x="11.2" y="49.1" class="yt">0.4</text><text x="11.2" y="36.5" class="yt">0.6</text><text x="11.2" y="23.8" class="yt">0.8</text><text x="11.2" y="11.1" class="yt">1.0</text><text x="12.5" y="79.9" class="xt">25</text><text x="93.6" y="79.9" class="xt">0</text><text x="28.7" y="79.9" class="xt">20</text><text x="109.8" y="79.9" class="xt">3204</text><text x="44.9" y="79.9" class="xt">15</text><text x="126.1" y="79.9" class="xt">6408</text><text x="61.2" y="79.9" class="xt">10</text><text x="142.3" y="79.9" class="xt">9613</text><text x="77.4" y="79.9" class="xt">5</text><text x="158.6" y="79.9" class="xt">12817</text><text x="93.6" y="79.9" class="xt">0</text><text x="174.8" y="79.9" class="xt">16021</text><text x="53.0" y="83.7" class="xl">Cluster Size</text><text x="134.2" y="83.7" class="xl">RPS Cycles</text><text transform="translate(4.8 40.3) rotate(-90)" class="yl">Win ratio</text><text x="237.4" y="5.0" class="t">Lichess 2014</text><text x="318.6" y="5.0" class="t">Lichess 2014</text><text x="195.6" y="74.5" class="yt">0.0</text><text x="195.6" y="61.8" class="yt">0.2</text><text x="195.6" y="49.1" class="yt">0.4</text><text x="195.6" y="36.5" class="yt">0.6</text><text x="195.6" y="23.8" class="yt">0.8</text><text x="195.6" y="11.1" class="yt">1.0</text><text x="196.9" y="79.9" class="xt">32</text><text x="278.0" y="79.9" class="xt">0</text><text x="213.1" y="79.9" class="xt">26</text><text x="294.2" y="79.9" class="xt">6058</text><text x="229.3" y="79.9" class="xt">19</text><text x="310.5" y="79.9" class="xt">12115</text><text x="245.6" y="79.9" class="xt">13</text><text x="326.7" y="79.9" class="xt">18173</text><text x="261.8" y="79.9" class="xt">6</text><text x="343.0" y="79.9" class="xt">24231</text><text x="278.0" y="79.9" class="xt">0</text><text x="359.2" y="79.9" class="xt">30289</text><text x="237.4" y="83.7" class="xl">Cluster Size</text><text x="318.6" y="83.7" class="xl">RPS Cycles</text><text transform="translate(189.2 40.3) rotate(-90)" class="yl">Win ratio</text><text x="421.9" y="5.0" class="t">Lichess 2015</text><text x="503.0" y="5.0" class="t">Lichess 2015</text><text x="380.0" y="74.5" class="yt">0.0</text><text x="380.0" y="61.8" class="yt">0.2</text><text x="380.0" y="49.1" class="yt">0.4</text><text x="380.0" y="36.5" class="yt">0.6</text><text x="380.0" y="23.8" class="yt">0.8</text><text x="380.0" y="11.1" class="yt">1.0</text><text x="381.3" y="79.9" class="xt">29</text><text x="462.4" y="79.9" class="xt">0</text><text x="397.5" y="79.9" class="xt">23</text><text x="478.6" y="79.9" class="xt">6012</text><text x="413.7" y="79.9" class="xt">17</text><text x="494.9" y="79.9" class="xt">12023</text><text x="430.0" y="79.9" class="xt">11</text><text x="511.1" y="79.9" class="xt">18035</text><text x="446.2" y="79.9" class="xt">5</text><text x="527.4" y="79.9" class="xt">24047</text><text x="462.4" y="79.9" class="xt">0</text><text x="543.6" y="79.9" class="xt">30058</text><text x="421.9" y="83.7" class="xl">Cluster Size</text><text x="503.0" y="83.7" class="xl">RPS Cycles</text><text transform="translate(373.6 40.3) rotate(-90)" class="yl">Win ratio</text><text x="53.0" y="88.9" class="t">Lichess 2016</text><text x="134.2" y="88.9" class="t">Lichess 2016</text><text x="11.2" y="158.5" class="yt">0.0</text><text x="11.2" y="145.8" class="yt">0.2</text><text x="11.2" y="133.1" class="yt">0.4</text><text x="11.2" y="120.4" class="yt">0.6</text><text x="11.2" y="107.7" class="yt">0.8</text><text x="11.2" y="95.1" class="yt">1.0</text><text x="12.5" y="163.8" class="xt">29</text><text x="93.6" y="163.8" class="xt">0</text><text x="28.7" y="163.8" class="xt">23</text><text x="109.8" y="163.8" class="xt">7082</text><text x="44.9" y="163.8" class="xt">17</text><text x="126.1" y="163.8" class="xt">14164</text><text x="61.2" y="163.8" class="xt">11</text><text x="142.3" y="163.8" class="xt">21246</text><text x="77.4" y="163.8" class="xt">5</text><text x="158.6" y="163.8" class="xt">28328</text><text x="93.6" y="163.8" class="xt">0</text><text x="174.8" y="163.8" class="xt">35410</text><text x="53.0" y="167.7" class="xl">Cluster Size</text><text x="134.2" y="167.7" class="xl">RPS Cycles</text><text transform="translate(4.8 124.2) rotate(-90)" class="yl">Win ratio</text><text x="237.4" y="88.9" class="t">Lichess 2017</text><text x="318.6" y="88.9" class="t">Lichess 2017</text><text x="195.6" y="158.5" class="yt">0.0</text><text x="195.6" y="145.8" class="yt">0.2</text><text x="195.6" y="133.1" class="yt">0.4</text><text x="195.6" y="120.4" class="yt">0.6</text><text x="195.6" y="107.7" class="yt">0.8</text><text x="195.6" y="95.1" class="yt">1.0</text><text x="196.9" y="163.8" class="xt">29</text><text x="278.0" y="163.8" class="xt">0</text><text x="213.1" y="163.8" class="xt">23</text><text x="294.2" y="163.8" class="xt">5415</text><text x="229.3" y="163.8" class="xt">17</text><text x="310.5" y="163.8" class="xt">10831</text><text x="245.6" y="163.8" class="xt">11</text><text x="326.7" y="163.8" class="xt">16246</text><text x="261.8" y="163.8" class="xt">5</text><text x="343.0" y="163.8" class="xt">21662</text><text x="278.0" y="163.8" class="xt">0</text><text x="359.2" y="163.8" class="xt">27077</text><text x="237.4" y="167.7" class="xl">Cluster Size</text><text x="318.6" y="167.7" class="xl">RPS Cycles</text><text transform="translate(189.2 124.2) rotate(-90)" class="yl">Win ratio</text><text x="421.9" y="88.9" class="t">Lichess 2018</text><text x="503.0" y="88.9" class="t">Lichess 2018</text><text x="380.0" y="158.5" class="yt">0.0</text><text x="380.0" y="145.8" class="yt">0.2</text><text x="380.0" y="133.1" class="yt">0.4</text><text x="380.0" y="120.4" class="yt">0.6</text><text x="380.0" y="107.7" class="yt">0.8</text><text x="380.0" y="95.1" class="yt">1.0</text><text x="381.3" y="163.8" class="xt">57</text><text x="462.4" y="163.8" class="xt">0</text><text x="397.5" y="163.8" class="xt">46</text><text x="478.6" y="163.8" class="xt">5807</text><text x="413.7" y="163.8" class="xt">34</text><text x="494.9" y="163.8" class="xt">11614</text><text x="430.0" y="163.8" class="xt">23</text><text x="511.1" y="163.8" class="xt">17421</text><text x="446.2" y="163.8" class="xt">11</text><text x="527.4" y="163.8" class="xt">23228</text><text x="462.4" y="163.8" class="xt">0</text><text x="543.6" y="163.8" class="xt">29035</text><text x="421.9" y="167.7" class="xl">Cluster Size</text><text x="503.0" y="167.7" class="xl">RPS Cycles</text><text transform="translate(373.6 124.2) rotate(-90)" class="yl">Win ratio</text><text x="53.0" y="172.9" class="t">Lichess 2019</text><text x="134.2" y="172.9" class="t">Lichess 2019</text><text x="11.2" y="242.4" class="yt">0.0</text><text x="11.2" y="229.7" class="yt">0.2</text><text x="11.2" y="217.0" class="yt">0.4</text><text x="11.2" y="204.4" class="yt">0.6</text><text x="11.2" y="191.7" class="yt">0.8</text><text x="11.2" y="179.0" class="yt">1.0</text><text x="12.5" y="247.8" class="xt">34</text><text x="93.6" y="247.8" class="xt">0</text><text x="28.7" y="247.8" class="xt">27</text><text x="109.8" y="247.8" class="xt">6776</text><text x="44.9" y="247.8" class="xt">20</text><text x="126.1" y="247.8" class="xt">13551</text><text x="61.2" y="247.8" class="xt">13</text><text x="142.3" y="247.8" class="xt">20327</text><text x="77.4" y="247.8" class="xt">6</text><text x="158.6" y="247.8" class="xt">27103</text><text x="93.6" y="247.8" class="xt">0</text><text x="174.8" y="247.8" class="xt">33878</text><text x="53.0" y="251.6" class="xl">Cluster Size</text><text x="134.2" y="251.6" class="xl">RPS Cycles</text><text transform="translate(4.8 208.2) rotate(-90)" class="yl">Win ratio</text><text x="237.4" y="172.9" class="t">Lichess 2020</text><text x="318.6" y="172.9" class="t">Lichess 2020</text><text x="195.6" y="242.4" class="yt">0.0</text><text x="195.6" y="229.7" class="yt">0.2</text><text x="195.6" y="217.0" class="yt">0.4</text><text x="195.6" y="204.4" class="yt">0.6</text><text x="195.6" y="191.7" class="yt">0.8</text><text x="195.6" y="179.0" class="yt">1.0</text><text x="196.9" y="247.8" class="xt">40</text><text x="278.0" y="247.8" class="xt">0</text><text x="213.1" y="247.8" class="xt">32</text><text x="294.2" y="247.8" class="xt">6918</text><text x="229.3" y="247.8" class="xt">24</text><text x="310.5" y="247.8" class="xt">13837</text><text x="245.6" y="247.8" class="xt">16</text><text x="326.7" y="247.8" class="xt">20755</text><text x="261.8" y="247.8" class="xt">8</text><text x="343.0" y="247.8" class="xt">27674</text><text x="278.0" y="247.8" class="xt">0</text><text x="359.2" y="247.8" class="xt">34592</text><text x="237.4" y="251.6" class="xl">Cluster Size</text><text x="318.6" y="251.6" class="xl">RPS Cycles</text><text transform="translate(189.2 208.2) rotate(-90)" class="yl">Win ratio</text><text x="421.9" y="172.9" class="t">FICS 2018</text><text x="503.0" y="172.9" class="t">FICS 2018</text><text x="380.0" y="242.4" class="yt">0.0</text><text x="380.0" y="229.7" class="yt">0.2</text><text x="380.0" y="217.0" class="yt">0.4</text><text x="380.0" y="204.4" class="yt">0.6</text><text x="380.0" y="191.7" class="yt">0.8</text><text x="380.0" y="179.0" class="yt">1.0</text><text x="381.3" y="247.8" class="xt">28</text><text x="462.4" y="247.8" class="xt">0</text><text x="397.5" y="247.8" class="xt">23</text><text x="478.6" y="247.8" class="xt">7907</text><text x="413.7" y="247.8" class="xt">17</text><text x="494.9" y="247.8" class="xt">15815</text><text x="430.0" y="247.8" class="xt">11</text><text x="511.1" y="247.8" class="xt">23722</text><text x="446.2" y="247.8" class="xt">5</text><text x="527.4" y="247.8" class="xt">31630</text><text x="462.4" y="247.8" class="xt">0</text><text x="543.6" y="247.8" class="xt">39537</text><text x="421.9" y="251.6" class="xl">Cluster Size</text><text x="503.0" y="251.6" class="xl">RPS Cycles</text><text transform="translate(373.6 208.2) rotate(-90)" class="yl">Win ratio</text></g>
</svg>
</body></html>
